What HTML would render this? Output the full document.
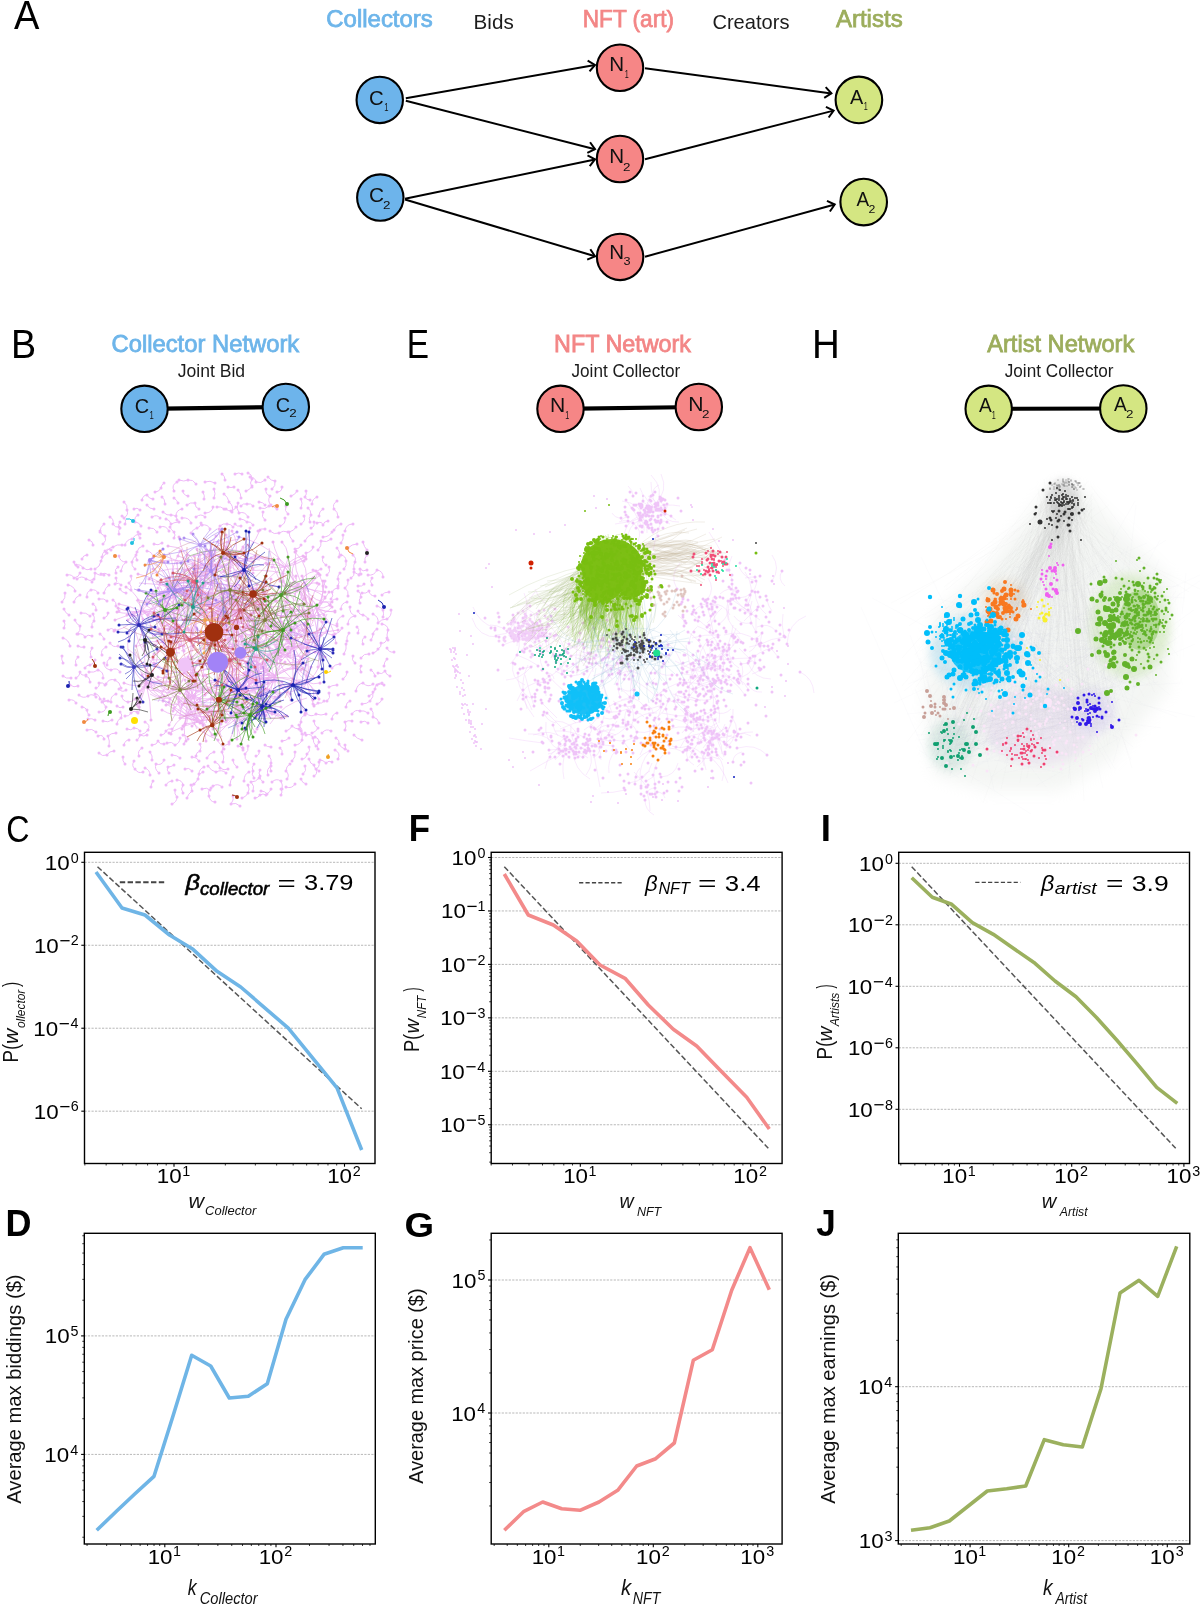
<!DOCTYPE html>
<html><head><meta charset="utf-8"><style>
html,body{margin:0;padding:0;background:#fff;width:1200px;height:1607px;overflow:hidden}
svg{display:block;will-change:transform;font-family:"Liberation Sans", sans-serif}
</style></head><body>
<svg width="1200" height="1607" viewBox="0 0 1200 1607">
<text x="13.93" y="29.00" font-size="40.26" fill="#000" textLength="25.40" lengthAdjust="spacingAndGlyphs">A</text>
<text x="326.28" y="27.20" font-size="23.00" fill="#6db5ea" textLength="106.58" lengthAdjust="spacingAndGlyphs" stroke="#6db5ea" stroke-width="0.75">Collectors</text>
<text x="473.61" y="28.70" font-size="20.01" fill="#1c1c1c" textLength="40.14" lengthAdjust="spacingAndGlyphs">Bids</text>
<text x="582.75" y="27.10" font-size="23.20" fill="#f38686" textLength="91.24" lengthAdjust="spacingAndGlyphs" stroke="#f38686" stroke-width="0.75">NFT (art)</text>
<text x="712.38" y="28.60" font-size="20.60" fill="#1c1c1c" textLength="77.05" lengthAdjust="spacingAndGlyphs">Creators</text>
<text x="835.95" y="27.00" font-size="23.00" fill="#9cad5c" textLength="66.71" lengthAdjust="spacingAndGlyphs" stroke="#9cad5c" stroke-width="0.75">Artists</text>
<line x1="405.8" y1="98.3" x2="595" y2="64.9" stroke="#000" stroke-width="2.0"/>
<polyline points="587.64,60.65 595,64.9 589.54,71.41" fill="none" stroke="#000" stroke-width="2.0"/>
<line x1="405.8" y1="100.8" x2="595" y2="149.2" stroke="#000" stroke-width="2.0"/>
<polyline points="590.05,142.29 595,149.2 587.34,152.88" fill="none" stroke="#000" stroke-width="2.0"/>
<line x1="405" y1="198.8" x2="595" y2="159.4" stroke="#000" stroke-width="2.0"/>
<polyline points="587.51,155.37 595,159.4 589.73,166.07" fill="none" stroke="#000" stroke-width="2.0"/>
<line x1="405" y1="199.5" x2="595" y2="256.3" stroke="#000" stroke-width="2.0"/>
<polyline points="590.33,249.20 595,256.3 587.20,259.67" fill="none" stroke="#000" stroke-width="2.0"/>
<line x1="645" y1="68.3" x2="831.4" y2="93.4" stroke="#000" stroke-width="2.0"/>
<polyline points="825.68,87.12 831.4,93.4 824.22,97.95" fill="none" stroke="#000" stroke-width="2.0"/>
<line x1="645" y1="159.3" x2="833.6" y2="110.6" stroke="#000" stroke-width="2.0"/>
<polyline points="825.93,106.94 833.6,110.6 828.66,117.52" fill="none" stroke="#000" stroke-width="2.0"/>
<line x1="645" y1="256.7" x2="834.7" y2="204.5" stroke="#000" stroke-width="2.0"/>
<polyline points="826.97,200.96 834.7,204.5 829.87,211.50" fill="none" stroke="#000" stroke-width="2.0"/>
<circle cx="379.75" cy="99.9" r="23.2" fill="#6db4eb" stroke="#000" stroke-width="2.1"/>
<text x="368.97" y="104.50" font-size="21.00" fill="#111" textLength="14.71" lengthAdjust="spacingAndGlyphs">C</text>
<text x="384.22" y="110.80" font-size="11.80" fill="#111" textLength="4.26" lengthAdjust="spacingAndGlyphs">1</text>
<circle cx="380.3" cy="197.6" r="23.2" fill="#6db4eb" stroke="#000" stroke-width="2.1"/>
<text x="368.94" y="201.90" font-size="21.00" fill="#111" textLength="15.05" lengthAdjust="spacingAndGlyphs">C</text>
<text x="383.03" y="209.30" font-size="11.80" fill="#111" textLength="7.45" lengthAdjust="spacingAndGlyphs">2</text>
<circle cx="620" cy="67.75" r="23.2" fill="#f68686" stroke="#000" stroke-width="2.1"/>
<text x="609.31" y="70.70" font-size="21.00" fill="#111" textLength="14.87" lengthAdjust="spacingAndGlyphs">N</text>
<text x="624.65" y="77.80" font-size="11.80" fill="#111" textLength="4.00" lengthAdjust="spacingAndGlyphs">1</text>
<circle cx="620" cy="159" r="23.2" fill="#f68686" stroke="#000" stroke-width="2.1"/>
<text x="609.31" y="163.30" font-size="21.00" fill="#111" textLength="14.87" lengthAdjust="spacingAndGlyphs">N</text>
<text x="623.13" y="170.60" font-size="11.80" fill="#111" textLength="7.45" lengthAdjust="spacingAndGlyphs">2</text>
<circle cx="620.1" cy="256.9" r="23.2" fill="#f68686" stroke="#000" stroke-width="2.1"/>
<text x="609.31" y="258.70" font-size="21.00" fill="#111" textLength="14.87" lengthAdjust="spacingAndGlyphs">N</text>
<text x="623.52" y="264.70" font-size="11.80" fill="#111" textLength="7.04" lengthAdjust="spacingAndGlyphs">3</text>
<circle cx="858.9" cy="99.9" r="23.3" fill="#d4e682" stroke="#000" stroke-width="2.1"/>
<text x="849.96" y="103.75" font-size="21.00" fill="#111" textLength="13.28" lengthAdjust="spacingAndGlyphs">A</text>
<text x="863.65" y="110.00" font-size="11.80" fill="#111" textLength="4.00" lengthAdjust="spacingAndGlyphs">1</text>
<circle cx="863.7" cy="202.1" r="23.3" fill="#d4e682" stroke="#000" stroke-width="2.1"/>
<text x="856.56" y="205.80" font-size="21.00" fill="#111" textLength="12.67" lengthAdjust="spacingAndGlyphs">A</text>
<text x="868.58" y="212.50" font-size="11.80" fill="#111" textLength="6.84" lengthAdjust="spacingAndGlyphs">2</text>
<text x="10.92" y="357.90" font-size="40.12" fill="#000" textLength="25.06" lengthAdjust="spacingAndGlyphs">B</text>
<text x="406.86" y="357.90" font-size="40.26" fill="#000" textLength="22.27" lengthAdjust="spacingAndGlyphs">E</text>
<text x="812.04" y="357.90" font-size="40.12" fill="#000" textLength="27.80" lengthAdjust="spacingAndGlyphs">H</text>
<text x="111.49" y="351.70" font-size="24.00" fill="#6db5ea" textLength="187.77" lengthAdjust="spacingAndGlyphs" stroke="#6db5ea" stroke-width="0.8">Collector Network</text>
<text x="554.09" y="352.30" font-size="24.00" fill="#f38686" textLength="136.87" lengthAdjust="spacingAndGlyphs" stroke="#f38686" stroke-width="0.8">NFT Network</text>
<text x="987.25" y="351.70" font-size="24.00" fill="#9cad5c" textLength="147.01" lengthAdjust="spacingAndGlyphs" stroke="#9cad5c" stroke-width="0.8">Artist Network</text>
<text x="177.73" y="377.30" font-size="17.80" fill="#1c1c1c" textLength="67.41" lengthAdjust="spacingAndGlyphs">Joint Bid</text>
<text x="571.43" y="377.20" font-size="17.80" fill="#1c1c1c" textLength="108.85" lengthAdjust="spacingAndGlyphs">Joint Collector</text>
<text x="1004.73" y="377.20" font-size="17.80" fill="#1c1c1c" textLength="108.85" lengthAdjust="spacingAndGlyphs">Joint Collector</text>
<line x1="144.5" y1="408.8" x2="285.8" y2="407.0" stroke="#000" stroke-width="4.2"/>
<circle cx="144.5" cy="408.8" r="23.2" fill="#6db4eb" stroke="#000" stroke-width="2.1"/>
<text x="134.69" y="412.70" font-size="21.00" fill="#111" textLength="14.37" lengthAdjust="spacingAndGlyphs">C</text>
<text x="149.42" y="419.30" font-size="11.80" fill="#111" textLength="4.26" lengthAdjust="spacingAndGlyphs">1</text>
<circle cx="285.8" cy="407.0" r="23.2" fill="#6db4eb" stroke="#000" stroke-width="2.1"/>
<text x="275.69" y="411.70" font-size="21.00" fill="#111" textLength="14.37" lengthAdjust="spacingAndGlyphs">C</text>
<text x="289.33" y="416.70" font-size="11.80" fill="#111" textLength="7.45" lengthAdjust="spacingAndGlyphs">2</text>
<line x1="560.5" y1="408.8" x2="698.8" y2="407.0" stroke="#000" stroke-width="4.2"/>
<circle cx="560.5" cy="408.8" r="23.2" fill="#f68686" stroke="#000" stroke-width="2.1"/>
<text x="549.97" y="412.30" font-size="21.00" fill="#111" textLength="15.26" lengthAdjust="spacingAndGlyphs">N</text>
<text x="565.15" y="419.00" font-size="11.80" fill="#111" textLength="4.00" lengthAdjust="spacingAndGlyphs">1</text>
<circle cx="698.8" cy="407.0" r="23.2" fill="#f68686" stroke="#000" stroke-width="2.1"/>
<text x="688.27" y="411.00" font-size="21.00" fill="#111" textLength="15.26" lengthAdjust="spacingAndGlyphs">N</text>
<text x="702.03" y="417.70" font-size="11.80" fill="#111" textLength="7.45" lengthAdjust="spacingAndGlyphs">2</text>
<line x1="988.7" y1="408.8" x2="1123.3" y2="408.5" stroke="#000" stroke-width="4.2"/>
<circle cx="988.7" cy="408.8" r="23.2" fill="#d4e682" stroke="#000" stroke-width="2.1"/>
<text x="978.96" y="411.70" font-size="21.00" fill="#111" textLength="12.77" lengthAdjust="spacingAndGlyphs">A</text>
<text x="991.75" y="419.30" font-size="11.80" fill="#111" textLength="4.00" lengthAdjust="spacingAndGlyphs">1</text>
<circle cx="1123.3" cy="408.5" r="23.2" fill="#d4e682" stroke="#000" stroke-width="2.1"/>
<text x="1113.96" y="410.70" font-size="21.00" fill="#111" textLength="12.77" lengthAdjust="spacingAndGlyphs">A</text>
<text x="1126.03" y="417.70" font-size="11.80" fill="#111" textLength="7.45" lengthAdjust="spacingAndGlyphs">2</text>
<path d="M167 743Q172 741 175 745M175 745Q180 743 180 738M162 543Q158 546 154 544M96 610Q97 606 93 604M356 691Q357 684 363 683M363 683Q368 688 373 684M361 666Q359 669 361 672M337 685Q333 685 329 687M82 707Q85 707 87 710M87 710Q87 713 89 715M314 721Q314 726 318 728M318 728Q316 732 312 733M110 517Q114 519 113 524M113 524Q115 528 119 527M109 575Q105 572 101 574M337 624Q337 618 343 616M312 534Q307 536 305 541M299 725Q303 729 302 734M166 785Q168 781 172 781M290 764Q286 766 286 771M286 771Q290 775 287 779M138 532Q137 535 140 538M113 600Q117 602 116 606M116 606Q119 608 119 611M163 512Q167 516 171 515M171 515Q177 515 177 520M169 773Q166 770 168 767M168 767Q171 767 174 765M103 678Q104 672 98 670M98 670Q94 673 89 672M266 489Q265 494 270 496M270 496Q267 501 271 505M233 777Q230 780 230 785M69 615Q65 613 64 609M213 507Q212 513 205 513M309 747Q311 751 307 754M307 754Q306 759 302 759M371 670Q374 672 375 676M238 490Q241 493 241 498M318 550Q322 546 321 541M321 541Q327 543 331 539M178 503Q177 500 174 498M317 497Q312 499 312 504M78 657Q74 660 76 665M124 502Q128 505 127 510M127 510Q129 515 124 518M280 526Q286 524 285 518M116 733Q111 733 108 736M108 736Q110 741 109 746M369 654Q364 653 361 658M289 738Q286 741 282 741M369 696Q374 694 375 689M375 689Q375 683 382 683M98 736Q103 734 104 739M350 701Q346 702 346 707M68 585Q74 586 75 591M297 491Q295 495 291 496M204 767Q199 769 199 774M123 757Q122 761 125 764M347 602Q341 603 341 609M118 567Q114 569 116 573M365 637Q361 639 363 644M129 740Q125 740 124 745M375 596Q370 596 369 591M369 591Q366 594 362 593M75 620Q76 624 80 626M80 626Q81 631 77 634M174 538Q176 535 174 532M174 532Q171 530 170 527M357 544Q352 544 348 548M334 530Q336 525 341 524M117 724Q117 720 121 718M121 718Q123 715 120 712M345 730Q347 726 345 722M345 722Q348 720 352 721M256 756Q260 755 259 751M161 735Q165 735 166 731M166 731Q168 728 172 729M349 633Q346 637 347 641M337 713Q332 714 332 719M384 666Q384 662 387 659M136 555Q133 558 132 562M132 562Q131 566 135 569M228 769Q224 771 220 768M220 768Q220 764 215 762M145 722Q151 725 148 730M148 730Q145 734 140 735M85 668Q86 665 90 665M90 665Q94 664 95 660M327 701Q331 698 329 693M152 745Q157 745 158 741M158 741Q160 745 164 744M104 618Q108 617 108 613M328 521Q324 521 323 525M323 525Q322 521 317 523M305 766Q307 771 303 774M319 516Q319 511 323 509M244 781Q244 774 249 772M353 656Q351 660 355 663M213 786Q218 783 222 787M360 603Q358 600 361 597M361 597Q361 593 358 591M383 577Q383 571 377 570M377 570Q374 576 368 575M301 524Q306 521 304 516M352 714Q355 709 360 711M360 711Q364 710 368 713M224 494Q228 497 229 502M229 502Q234 506 232 512M145 768Q150 770 150 775M358 611Q359 615 363 615M363 615Q367 616 368 619M87 730Q92 728 96 732M320 760Q323 760 326 763M326 763Q329 760 332 762M373 614Q379 617 378 623M378 623Q381 619 387 619M139 756Q137 751 142 748M305 715Q300 717 301 722M301 722Q298 727 301 731M338 759Q341 753 335 750M82 559Q83 555 87 555M78 634Q83 633 85 637M85 637Q88 634 92 636M106 684Q109 678 115 680M115 680Q120 682 121 688M387 638Q386 644 381 643M204 499Q205 496 203 492M164 760Q162 766 156 764M156 764Q154 769 159 773M77 579Q82 575 86 579M86 579Q90 582 94 579M344 569Q347 566 346 561M346 561Q346 556 341 555M122 545Q117 544 113 547M113 547Q108 548 106 552M86 676Q90 677 90 682M63 663Q61 659 62 656M177 482Q171 485 174 491M348 596Q349 591 345 588M345 588Q349 585 348 580M293 541Q289 537 289 532M289 532Q294 531 296 527M322 733Q326 728 331 731M265 480Q261 484 256 482M256 482Q255 477 250 477M353 524Q346 524 345 531M255 798Q258 798 260 795M260 795Q263 793 266 795M382 624Q388 625 388 630M388 630Q386 635 388 640M92 627Q91 623 94 621M94 621Q95 617 93 614M269 756Q272 759 271 763M271 763Q269 767 271 771M202 525Q208 524 210 529M98 593Q96 589 91 590M91 590Q86 592 87 597M377 704Q381 703 382 699M207 758Q209 753 214 752M326 714Q321 716 316 714M316 714Q311 718 306 713M343 679Q347 676 347 672M172 755Q177 755 180 758M236 507Q235 510 231 511M231 511Q228 511 226 509M104 639Q103 636 100 634M229 744Q222 745 222 752M222 752Q225 757 223 762M338 588Q334 588 332 592M332 592Q334 596 331 599M70 646Q69 640 63 638M164 483Q161 485 161 488M161 488Q159 492 155 492M362 704Q367 704 370 701M370 701Q374 697 373 692M185 769Q189 767 192 771M215 802Q210 802 209 796M209 796Q207 791 211 788M233 796Q234 800 231 804M231 804Q236 802 240 806M271 766Q266 769 268 775M332 668Q335 664 340 664M196 484Q193 479 188 480M188 480Q184 482 179 480M215 483Q210 480 205 482M318 749Q316 745 319 742M319 742Q319 738 315 737M277 492Q282 492 282 487M165 504Q165 499 162 497M238 746Q242 746 243 750M119 534Q118 530 120 528M120 528Q117 525 120 522M110 643Q113 648 118 646M344 694Q341 692 338 695M217 507Q221 506 224 509M120 589Q122 593 126 593M107 665Q106 661 110 658M323 557Q321 562 326 565M391 610Q392 616 387 619M286 506Q284 511 288 514M341 543Q344 539 343 535M242 798Q246 797 248 793M248 793Q250 789 248 785M367 570Q363 572 360 569M360 569Q361 572 359 575M187 798Q188 794 192 791M192 791Q190 787 194 784M114 751Q109 751 107 755M107 755Q102 757 99 753M364 584Q362 587 358 586M200 744Q202 747 200 751M200 751Q196 752 196 756M177 780Q182 780 183 785M183 785Q180 789 183 793M149 528Q154 527 157 532M271 789Q270 792 267 794M267 794Q265 791 261 791M363 542Q364 547 367 550M271 747Q267 747 265 745M237 767Q233 764 233 760M99 712Q105 713 106 707M106 707Q102 704 104 699M127 729Q131 731 134 728M134 728Q138 728 140 731M304 561Q308 558 306 553M306 553Q312 552 313 547M339 557Q341 552 337 548M131 576Q133 580 129 583M129 583Q132 586 131 590M184 744Q185 740 188 739M188 739Q187 735 183 735M116 694Q110 696 111 702M111 702Q106 699 102 702M142 500Q143 495 147 495M147 495Q149 499 153 499M295 784Q292 789 286 787M220 526Q223 523 227 524M227 524Q231 524 233 527M313 570Q318 572 321 569M95 720Q92 718 88 719M241 526Q237 527 235 524M340 573Q337 576 338 579M338 579Q340 582 338 586M225 480Q225 476 222 474M382 595Q384 592 389 592M95 694Q99 694 100 699M100 699Q103 703 108 701M253 525Q251 521 247 522M247 522Q244 519 240 519M272 782Q276 778 281 781M281 781Q283 785 282 789M187 505Q190 502 195 503M195 503Q195 508 199 509M102 557Q102 553 105 551M105 551Q107 548 111 550M254 764Q251 767 253 771M253 771Q251 774 254 778M338 517Q338 512 334 509M334 509Q332 504 337 501M108 630Q111 627 115 630M323 537Q329 537 332 532M362 740Q357 739 354 735M263 512Q261 517 265 520M64 621Q66 624 64 628M117 706Q120 709 123 707M377 685Q381 683 384 685M79 695Q83 699 88 696M88 696Q92 693 96 697M263 782Q260 780 260 776M260 776Q258 773 260 770M242 474Q239 472 235 474M134 761Q131 766 135 769M135 769Q138 774 143 772M292 761Q296 757 295 752M139 707Q141 710 138 713M91 569Q87 571 83 568M83 568Q81 564 76 565M246 491Q250 490 252 486M253 506Q251 503 247 504M247 504Q243 503 241 506M74 602Q75 597 80 595M153 558Q153 552 147 551M103 544Q107 541 105 536M105 536Q101 535 100 531M140 510Q137 507 134 509M152 517Q157 514 160 518M104 593Q105 588 109 585M71 678Q66 679 63 676M373 653Q377 652 378 649M378 649Q382 647 381 643M270 531Q274 535 279 533M279 533Q283 530 288 532M265 505Q263 502 259 502M345 745Q345 749 348 751M102 655Q100 650 106 647M196 517Q201 513 205 517M295 745Q300 745 302 740M302 740Q301 736 305 733M169 531Q166 525 160 527M336 738Q340 740 339 744M339 744Q341 748 345 749M182 518Q189 517 191 523M69 700Q74 699 76 703M377 606Q381 607 383 610M383 610Q384 614 383 617M192 757Q197 757 199 761M62 602Q66 598 65 593M112 720Q108 723 103 721M309 759Q310 764 314 765M314 765Q314 769 319 771M210 790Q207 787 202 789M143 546Q138 547 137 552M137 552Q134 556 137 560M183 491Q183 495 188 496M301 508Q303 503 301 499M191 785Q196 784 198 779M198 779Q198 774 203 772M84 647Q81 648 78 646M365 562Q364 558 367 555M337 599Q331 599 330 605M330 605Q327 600 321 603M265 529Q261 528 258 531M153 781Q151 784 151 787M92 648Q89 652 91 657M175 790Q174 794 177 797M177 797Q177 802 172 804M141 526Q139 522 135 522M135 522Q134 517 138 515M314 522Q315 527 311 528M90 616Q86 612 81 613M93 545Q93 541 89 540M325 581Q323 584 326 587M346 644Q347 649 344 654M70 685Q74 688 78 686M125 524Q127 519 122 516M119 689Q122 693 126 690M358 633Q360 629 357 627M277 509Q274 506 269 506M269 506Q265 510 260 508M394 652Q389 653 387 648M119 556Q120 562 126 562M126 562Q122 565 121 571M208 766Q211 771 216 772M216 772Q222 769 226 773M137 740Q139 739 140 735M140 735Q144 737 147 735M361 722Q365 720 368 723M377 629Q374 630 373 634M373 634Q373 637 371 640M351 578Q355 576 354 572M354 572Q357 575 361 574M348 624Q348 617 355 616M355 616Q349 613 350 607M154 509Q149 509 147 505M282 754Q283 750 280 748M214 498Q216 494 214 489M390 676Q386 675 385 671M385 671Q382 675 378 673M191 533Q193 529 197 528M197 528Q201 527 201 523M116 578Q118 582 115 584M115 584Q119 582 121 585M295 549Q300 549 301 545M371 709Q374 712 373 717M373 717Q378 718 379 723M306 735Q311 733 313 738M313 738Q313 743 316 746M120 672Q117 667 111 670M111 670Q104 669 104 663M313 704Q316 706 318 703M318 703Q322 704 324 701M92 582Q96 578 95 573M95 573Q99 576 104 575M176 516Q176 510 182 509M100 532Q100 527 104 524M179 522Q175 522 171 524M171 524Q170 520 166 519M67 575Q72 574 74 578M74 578Q79 577 80 573M281 789Q283 792 281 795M314 776Q318 774 316 769M316 769Q320 767 319 762M135 699Q132 702 128 702M128 702Q122 701 122 696M125 545Q127 539 132 539M132 539Q135 534 140 534M96 688Q100 687 99 683M99 683Q103 682 105 685M152 760Q153 756 150 752M248 473Q252 474 252 479M252 479Q249 483 252 487M327 575Q331 572 329 567M268 477Q271 481 275 481M275 481Q276 486 272 489M253 791Q255 786 251 782M251 782Q256 782 259 778M125 716Q129 717 131 713M131 713Q134 710 137 712M248 517Q245 511 239 513M239 513Q236 509 238 503M372 578Q369 581 372 585M306 491Q307 494 305 497M305 497Q306 500 310 500M248 762Q244 759 245 754M245 754Q249 751 248 746M76 678Q80 676 80 672M80 672Q81 676 86 675M234 487Q231 488 228 487M99 599Q104 598 107 601M308 508Q311 510 311 515M311 515Q308 518 310 522M95 569Q100 567 101 561M101 561Q102 556 107 553M301 779Q302 783 306 784M286 731Q290 730 292 726M292 726Q295 729 299 729M74 562Q74 566 78 567M353 555Q357 558 355 562M355 562Q353 565 354 569M335 634Q340 633 342 628" fill="none" stroke="#efbaf8" stroke-width="1.0"/>
<path d="M167 743h0M175 745h0M180 738h0M162 543h0M154 544h0M96 610h0M93 604h0M356 691h0M363 683h0M373 684h0M361 666h0M361 672h0M337 685h0M329 687h0M82 707h0M87 710h0M89 715h0M314 721h0M318 728h0M312 733h0M110 517h0M113 524h0M119 527h0M109 575h0M101 574h0M337 624h0M343 616h0M312 534h0M305 541h0M299 725h0M302 734h0M166 785h0M172 781h0M290 764h0M286 771h0M287 779h0M138 532h0M140 538h0M113 600h0M116 606h0M119 611h0M163 512h0M171 515h0M177 520h0M169 773h0M168 767h0M174 765h0M103 678h0M98 670h0M89 672h0M266 489h0M270 496h0M271 505h0M233 777h0M230 785h0M69 615h0M64 609h0M213 507h0M205 513h0M309 747h0M307 754h0M302 759h0M371 670h0M375 676h0M238 490h0M241 498h0M318 550h0M321 541h0M331 539h0M178 503h0M174 498h0M317 497h0M312 504h0M78 657h0M76 665h0M124 502h0M127 510h0M124 518h0M280 526h0M285 518h0M116 733h0M108 736h0M109 746h0M369 654h0M361 658h0M289 738h0M282 741h0M369 696h0M375 689h0M382 683h0M98 736h0M104 739h0M350 701h0M346 707h0M68 585h0M75 591h0M297 491h0M291 496h0M204 767h0M199 774h0M123 757h0M125 764h0M347 602h0M341 609h0M118 567h0M116 573h0M365 637h0M363 644h0M129 740h0M124 745h0M375 596h0M369 591h0M362 593h0M75 620h0M80 626h0M77 634h0M174 538h0M174 532h0M170 527h0M357 544h0M348 548h0M334 530h0M341 524h0M117 724h0M121 718h0M120 712h0M345 730h0M345 722h0M352 721h0M256 756h0M259 751h0M161 735h0M166 731h0M172 729h0M349 633h0M347 641h0M337 713h0M332 719h0M384 666h0M387 659h0M136 555h0M132 562h0M135 569h0M228 769h0M220 768h0M215 762h0M145 722h0M148 730h0M140 735h0M85 668h0M90 665h0M95 660h0M327 701h0M329 693h0M152 745h0M158 741h0M164 744h0M104 618h0M108 613h0M328 521h0M323 525h0M317 523h0M305 766h0M303 774h0M319 516h0M323 509h0M244 781h0M249 772h0M353 656h0M355 663h0M213 786h0M222 787h0M360 603h0M361 597h0M358 591h0M383 577h0M377 570h0M368 575h0M301 524h0M304 516h0M352 714h0M360 711h0M368 713h0M224 494h0M229 502h0M232 512h0M145 768h0M150 775h0M358 611h0M363 615h0M368 619h0M87 730h0M96 732h0M320 760h0M326 763h0M332 762h0M373 614h0M378 623h0M387 619h0M139 756h0M142 748h0M305 715h0M301 722h0M301 731h0M338 759h0M335 750h0M82 559h0M87 555h0M78 634h0M85 637h0M92 636h0M106 684h0M115 680h0M121 688h0M387 638h0M381 643h0M204 499h0M203 492h0M164 760h0M156 764h0M159 773h0M77 579h0M86 579h0M94 579h0M344 569h0M346 561h0M341 555h0M122 545h0M113 547h0M106 552h0M86 676h0M90 682h0M63 663h0M62 656h0M177 482h0M174 491h0M348 596h0M345 588h0M348 580h0M293 541h0M289 532h0M296 527h0M322 733h0M331 731h0M265 480h0M256 482h0M250 477h0M353 524h0M345 531h0M255 798h0M260 795h0M266 795h0M382 624h0M388 630h0M388 640h0M92 627h0M94 621h0M93 614h0M269 756h0M271 763h0M271 771h0M202 525h0M210 529h0M98 593h0M91 590h0M87 597h0M377 704h0M382 699h0M207 758h0M214 752h0M326 714h0M316 714h0M306 713h0M343 679h0M347 672h0M172 755h0M180 758h0M236 507h0M231 511h0M226 509h0M104 639h0M100 634h0M229 744h0M222 752h0M223 762h0M338 588h0M332 592h0M331 599h0M70 646h0M63 638h0M164 483h0M161 488h0M155 492h0M362 704h0M370 701h0M373 692h0M185 769h0M192 771h0M215 802h0M209 796h0M211 788h0M233 796h0M231 804h0M240 806h0M271 766h0M268 775h0M332 668h0M340 664h0M196 484h0M188 480h0M179 480h0M215 483h0M205 482h0M318 749h0M319 742h0M315 737h0M277 492h0M282 487h0M165 504h0M162 497h0M238 746h0M243 750h0M119 534h0M120 528h0M120 522h0M110 643h0M118 646h0M344 694h0M338 695h0M217 507h0M224 509h0M120 589h0M126 593h0M107 665h0M110 658h0M323 557h0M326 565h0M391 610h0M387 619h0M286 506h0M288 514h0M341 543h0M343 535h0M242 798h0M248 793h0M248 785h0M367 570h0M360 569h0M359 575h0M187 798h0M192 791h0M194 784h0M114 751h0M107 755h0M99 753h0M364 584h0M358 586h0M200 744h0M200 751h0M196 756h0M177 780h0M183 785h0M183 793h0M149 528h0M157 532h0M271 789h0M267 794h0M261 791h0M363 542h0M367 550h0M271 747h0M265 745h0M237 767h0M233 760h0M99 712h0M106 707h0M104 699h0M127 729h0M134 728h0M140 731h0M304 561h0M306 553h0M313 547h0M339 557h0M337 548h0M131 576h0M129 583h0M131 590h0M184 744h0M188 739h0M183 735h0M116 694h0M111 702h0M102 702h0M142 500h0M147 495h0M153 499h0M295 784h0M286 787h0M220 526h0M227 524h0M233 527h0M313 570h0M321 569h0M95 720h0M88 719h0M241 526h0M235 524h0M340 573h0M338 579h0M338 586h0M225 480h0M222 474h0M382 595h0M389 592h0M95 694h0M100 699h0M108 701h0M253 525h0M247 522h0M240 519h0M272 782h0M281 781h0M282 789h0M187 505h0M195 503h0M199 509h0M102 557h0M105 551h0M111 550h0M254 764h0M253 771h0M254 778h0M338 517h0M334 509h0M337 501h0M108 630h0M115 630h0M323 537h0M332 532h0M362 740h0M354 735h0M263 512h0M265 520h0M64 621h0M64 628h0M117 706h0M123 707h0M377 685h0M384 685h0M79 695h0M88 696h0M96 697h0M263 782h0M260 776h0M260 770h0M242 474h0M235 474h0M134 761h0M135 769h0M143 772h0M292 761h0M295 752h0M139 707h0M138 713h0M91 569h0M83 568h0M76 565h0M246 491h0M252 486h0M253 506h0M247 504h0M241 506h0M74 602h0M80 595h0M153 558h0M147 551h0M103 544h0M105 536h0M100 531h0M140 510h0M134 509h0M152 517h0M160 518h0M104 593h0M109 585h0M71 678h0M63 676h0M373 653h0M378 649h0M381 643h0M270 531h0M279 533h0M288 532h0M265 505h0M259 502h0M345 745h0M348 751h0M102 655h0M106 647h0M196 517h0M205 517h0M295 745h0M302 740h0M305 733h0M169 531h0M160 527h0M336 738h0M339 744h0M345 749h0M182 518h0M191 523h0M69 700h0M76 703h0M377 606h0M383 610h0M383 617h0M192 757h0M199 761h0M62 602h0M65 593h0M112 720h0M103 721h0M309 759h0M314 765h0M319 771h0M210 790h0M202 789h0M143 546h0M137 552h0M137 560h0M183 491h0M188 496h0M301 508h0M301 499h0M191 785h0M198 779h0M203 772h0M84 647h0M78 646h0M365 562h0M367 555h0M337 599h0M330 605h0M321 603h0M265 529h0M258 531h0M153 781h0M151 787h0M92 648h0M91 657h0M175 790h0M177 797h0M172 804h0M141 526h0M135 522h0M138 515h0M314 522h0M311 528h0M90 616h0M81 613h0M93 545h0M89 540h0M325 581h0M326 587h0M346 644h0M344 654h0M70 685h0M78 686h0M125 524h0M122 516h0M119 689h0M126 690h0M358 633h0M357 627h0M277 509h0M269 506h0M260 508h0M394 652h0M387 648h0M119 556h0M126 562h0M121 571h0M208 766h0M216 772h0M226 773h0M137 740h0M140 735h0M147 735h0M361 722h0M368 723h0M377 629h0M373 634h0M371 640h0M351 578h0M354 572h0M361 574h0M348 624h0M355 616h0M350 607h0M154 509h0M147 505h0M282 754h0M280 748h0M214 498h0M214 489h0M390 676h0M385 671h0M378 673h0M191 533h0M197 528h0M201 523h0M116 578h0M115 584h0M121 585h0M295 549h0M301 545h0M371 709h0M373 717h0M379 723h0M306 735h0M313 738h0M316 746h0M120 672h0M111 670h0M104 663h0M313 704h0M318 703h0M324 701h0M92 582h0M95 573h0M104 575h0M176 516h0M182 509h0M100 532h0M104 524h0M179 522h0M171 524h0M166 519h0M67 575h0M74 578h0M80 573h0M281 789h0M281 795h0M314 776h0M316 769h0M319 762h0M135 699h0M128 702h0M122 696h0M125 545h0M132 539h0M140 534h0M96 688h0M99 683h0M105 685h0M152 760h0M150 752h0M248 473h0M252 479h0M252 487h0M327 575h0M329 567h0M268 477h0M275 481h0M272 489h0M253 791h0M251 782h0M259 778h0M125 716h0M131 713h0M137 712h0M248 517h0M239 513h0M238 503h0M372 578h0M372 585h0M306 491h0M305 497h0M310 500h0M248 762h0M245 754h0M248 746h0M76 678h0M80 672h0M86 675h0M234 487h0M228 487h0M99 599h0M107 601h0M308 508h0M311 515h0M310 522h0M95 569h0M101 561h0M107 553h0M301 779h0M306 784h0M286 731h0M292 726h0M299 729h0M74 562h0M78 567h0M353 555h0M355 562h0M354 569h0M335 634h0M342 628h0" stroke="#efbaf8" stroke-width="3" stroke-linecap="round"/>
<path d="M196 565Q192 569 186 570M196 565Q207 583 228 585M196 565Q178 573 173 592M196 565Q214 560 230 571M196 565Q204 574 213 582M196 565Q197 573 201 579M196 565Q194 582 207 594M196 565Q181 555 179 537M196 565Q197 571 194 576M196 565Q179 558 161 561M196 565Q198 570 196 575M196 565Q188 547 168 546M196 565Q205 570 216 572M196 565Q188 558 178 556M314 616Q309 618 305 623M314 616Q300 606 286 615M314 616Q314 625 306 629M314 616Q317 620 322 622M314 616Q325 615 332 607M314 616Q298 618 281 616M314 616Q308 598 319 584M314 616Q309 618 307 624M314 616Q304 623 293 630M314 616Q305 615 296 617M314 616Q321 604 329 592M314 616Q325 600 323 581M314 616Q311 597 298 584M314 616Q319 635 319 654M265 712Q267 694 269 675M265 712Q258 693 246 677M265 712Q260 712 256 709M265 712Q246 707 227 705M265 712Q275 716 287 716M265 712Q274 713 281 718M265 712Q262 717 256 716M265 712Q277 707 286 716M265 712Q271 705 281 707M265 712Q269 704 275 697M265 712Q271 698 262 686M265 712Q265 722 257 729M265 712Q255 707 249 698M265 712Q275 711 283 717M265 712Q266 694 253 681M265 712Q254 697 253 678M210 567Q194 566 187 580M210 567Q214 559 209 552M210 567Q227 560 239 573M210 567Q221 570 227 580M210 567Q211 560 208 554M210 567Q210 580 211 593M210 567Q220 583 239 585M210 567Q220 565 230 568M210 567Q208 551 216 536M210 567Q225 559 227 542M210 567Q197 562 197 549M210 567Q205 587 185 594M210 567Q225 576 242 573M210 567Q214 582 213 598M210 567Q215 562 213 556M210 567Q224 562 226 547M210 567Q217 561 215 551M210 567Q202 573 205 583M210 567Q204 559 206 550M210 567Q195 579 194 598M306 634Q298 627 286 628M306 634Q299 656 276 656M306 634Q322 647 318 667M306 634Q320 631 333 635M306 634Q291 636 281 623M306 634Q297 617 287 600M306 634Q309 622 303 612M306 634Q306 619 311 605M306 634Q305 630 304 625M306 634Q291 624 282 607M306 634Q303 625 294 622M306 634Q322 633 338 630M306 634Q314 635 318 641M306 634Q303 628 297 626M306 634Q304 644 309 652M146 683Q158 683 170 682M146 683Q151 701 151 720M146 683Q139 692 138 703M146 683Q158 686 164 696M146 683Q140 694 139 707M146 683Q145 665 144 646M146 683Q135 688 124 683M146 683Q144 693 140 703M146 683Q163 683 170 699M146 683Q149 694 160 697M146 683Q157 669 158 651M146 683Q157 683 166 677M146 683Q145 689 139 691M146 683Q150 674 155 666M146 683Q144 679 142 675M146 683Q137 692 137 705M146 683Q161 695 180 693M146 683Q146 678 142 675M146 683Q144 669 153 659M240 713Q261 721 275 704M240 713Q240 699 249 687M240 713Q234 700 231 685M240 713Q234 706 235 696M240 713Q226 709 212 711M240 713Q236 695 230 678M240 713Q243 694 227 684M240 713Q231 728 213 729M240 713Q249 721 255 732M240 713Q235 728 229 742M240 713Q234 706 228 698M240 713Q237 723 244 730M240 713Q243 720 238 726M240 713Q232 697 244 683M240 713Q232 714 227 720M240 713Q249 709 260 710M240 713Q233 716 226 718M240 713Q253 712 266 715M220 594Q230 601 242 605M220 594Q210 609 192 608M220 594Q243 593 253 573M220 594Q223 605 221 616M220 594Q216 606 220 618M220 594Q231 589 242 595M220 594Q241 593 256 607M220 594Q211 593 202 592M220 594Q222 586 221 578M220 594Q208 579 190 573M201 721Q184 720 174 708M201 721Q189 711 179 699M201 721Q205 731 206 741M201 721Q184 725 169 733M201 721Q210 713 219 704M201 721Q207 717 212 714M201 721Q195 722 192 726M201 721Q207 713 214 707M201 721Q212 717 221 724M201 721Q193 723 185 724M201 721Q213 734 224 749M222 608Q218 610 215 613M222 608Q224 603 228 598M222 608Q214 608 208 604M222 608Q230 607 235 600M222 608Q222 615 227 620M222 608Q215 610 212 605M222 608Q225 624 234 638M222 608Q218 599 209 594M222 608Q214 628 225 646M222 608Q209 605 204 594M222 608Q215 612 207 613M222 608Q229 626 243 641M222 608Q222 615 218 621M222 608Q242 609 250 627M222 608Q216 600 207 596M222 608Q228 613 230 621M222 608Q217 611 214 616M222 608Q228 603 235 602M222 608Q227 618 218 627M222 608Q207 620 187 619M222 608Q215 607 208 604M200 587Q185 582 175 593M200 587Q201 600 204 614M200 587Q186 597 170 598M200 587Q199 578 206 574M200 587Q208 604 197 619M200 587Q199 595 196 602M200 587Q197 592 192 595M200 587Q202 571 200 555M200 587Q192 579 188 569M200 587Q193 587 188 590M200 587Q219 578 236 591M200 587Q186 588 180 575M200 587Q185 580 169 583M316 608Q320 620 327 631M316 608Q308 618 305 630M316 608Q324 598 323 586M316 608Q325 612 335 612M316 608Q317 617 325 619M316 608Q334 621 336 643M316 608Q322 623 337 626M316 608Q319 601 325 598M316 608Q325 613 335 611M316 608Q324 609 330 605M316 608Q309 605 304 599M316 608Q329 592 319 574M316 608Q316 602 311 599M298 587Q304 601 305 616M298 587Q309 581 318 573M298 587Q313 599 324 615M298 587Q307 600 308 617M298 587Q302 573 316 571M298 587Q292 585 286 585M298 587Q288 575 295 562M298 587Q296 581 296 576M298 587Q292 597 299 606M298 587Q280 600 281 622M298 587Q280 578 278 559M298 587Q290 592 281 592M298 587Q306 600 301 616M298 587Q291 598 294 610M298 587Q313 588 325 597M163 596Q150 595 138 590M163 596Q175 585 189 579M163 596Q164 601 169 604M163 596Q155 616 165 635M163 596Q163 590 167 586M163 596Q181 597 199 594M163 596Q152 604 138 600M163 596Q170 606 165 617M163 596Q175 593 186 591M163 596Q177 587 194 585M163 596Q154 614 134 616M163 596Q153 606 153 620M163 596Q168 598 168 604M163 596Q162 583 149 579M163 596Q158 595 153 597M163 596Q160 592 158 588M163 596Q178 603 182 619M163 596Q153 603 148 615M265 613Q253 614 248 625M265 613Q264 595 249 585M265 613Q267 622 275 627M265 613Q257 615 254 624M265 613Q284 619 304 612M265 613Q278 614 291 612M265 613Q275 628 291 638M265 613Q260 601 253 589M265 613Q277 626 295 624M265 613Q257 613 253 619M265 613Q258 630 247 645M265 613Q254 599 241 587M265 613Q277 622 273 637M265 613Q251 627 249 647M265 613Q269 630 257 643M265 613Q281 623 288 641M265 613Q250 614 235 613M265 613Q269 601 263 590M265 613Q263 624 253 628M265 613Q272 630 289 636M265 613Q268 602 263 593M275 676Q263 670 250 671M275 676Q270 670 273 663M275 676Q267 671 263 662M275 676Q271 678 267 679M275 676Q264 681 261 693M275 676Q268 671 261 665M275 676Q260 677 252 665M275 676Q290 670 301 658M275 676Q267 694 272 713M275 676Q273 681 268 683M275 676Q273 690 261 695M275 676Q275 684 275 692M275 676Q279 662 277 647M275 676Q283 688 291 700M275 676Q260 673 248 681M275 676Q276 666 285 662M275 676Q280 669 281 660M275 676Q286 664 301 670M275 676Q282 661 299 662M275 676Q278 689 290 694M289 625Q290 632 288 639M289 625Q296 617 305 611M289 625Q290 615 298 610M289 625Q281 604 291 585M289 625Q274 621 271 607M289 625Q300 631 314 633M289 625Q277 629 266 626M289 625Q298 635 308 643M289 625Q297 639 306 654M289 625Q294 615 306 614M194 703Q206 702 216 695M194 703Q191 700 188 696M194 703Q194 717 203 725M194 703Q180 704 166 705M194 703Q197 694 195 684M194 703Q176 697 162 685M194 703Q201 720 212 735M194 703Q188 700 182 705M194 703Q200 705 207 706M194 703Q203 701 211 699M194 703Q195 687 205 675M194 703Q206 689 224 686M235 556Q240 553 243 547M235 556Q239 543 232 531M235 556Q229 577 208 583M235 556Q221 548 221 531M235 556Q248 545 250 528M235 556Q244 560 253 562M235 556Q219 547 219 529M235 556Q227 557 220 560M235 556Q253 549 260 530M235 556Q227 556 220 557M235 556Q241 551 248 545M235 556Q231 546 226 535M235 556Q236 561 239 564M235 556Q229 551 220 549M243 689Q248 681 244 673M243 689Q250 688 256 685M243 689Q225 699 223 720M243 689Q260 673 282 682M243 689Q233 680 220 675M243 689Q244 696 243 704M243 689Q246 676 246 663M243 689Q253 701 269 702M243 689Q241 682 235 679M243 689Q224 698 204 688M243 689Q256 681 268 674M243 689Q246 695 251 699M243 689Q254 684 253 673M243 689Q229 696 217 684M243 689Q262 693 280 701M243 689Q260 697 279 697M243 689Q251 681 246 672M243 689Q234 698 222 696M243 689Q246 704 258 714M243 689Q252 699 256 712M243 689Q249 675 263 668M247 676Q248 690 261 695M247 676Q234 681 221 679M247 676Q247 672 248 667M247 676Q241 682 233 678M247 676Q259 678 272 681M247 676Q241 674 237 678M247 676Q249 663 253 649M247 676Q230 671 217 683M247 676Q262 681 276 675M247 676Q241 692 224 693M247 676Q260 664 277 664M247 676Q260 681 269 690M247 676Q256 674 264 671M259 605Q262 619 251 629M259 605Q275 590 296 590M259 605Q242 599 225 592M259 605Q269 594 265 581M259 605Q269 615 268 628M259 605Q272 598 287 602M259 605Q237 599 234 576M259 605Q255 592 250 581M259 605Q267 601 276 598M259 605Q249 619 234 628M259 605Q267 617 279 627M259 605Q250 618 242 631M259 605Q262 609 265 613M259 605Q260 620 250 630M259 605Q263 607 268 605M259 605Q248 613 247 627M259 605Q269 608 276 601M259 605Q269 594 271 579M259 605Q255 597 246 599M259 605Q253 612 247 620M170 589Q162 599 166 611M170 589Q175 570 194 568M170 589Q177 571 188 555M170 589Q164 599 162 610M170 589Q187 582 193 564M170 589Q156 578 138 574M170 589Q166 584 160 584M170 589Q160 579 153 569M170 589Q173 582 180 579M170 589Q172 574 164 562M170 589Q168 584 166 580M170 589Q168 606 164 623M170 589Q180 578 177 563M170 589Q166 594 160 594M170 589Q183 588 192 599M170 589Q185 594 194 606M170 589Q180 584 192 586M170 589Q160 591 152 597M170 589Q177 596 175 606M170 589Q170 569 180 551M170 589Q166 569 149 561M170 589Q159 594 148 596M285 567Q271 557 255 556M285 567Q279 569 272 567M285 567Q295 582 305 598M285 567Q295 562 305 557M285 567Q280 581 290 593M285 567Q292 553 282 542M285 567Q292 558 303 556M285 567Q276 556 273 542M285 567Q281 573 280 581M285 567Q281 574 283 581M285 567Q269 557 251 558M285 567Q290 573 294 582M285 567Q276 564 267 564M285 567Q296 565 306 559M193 603Q188 618 193 634M193 603Q193 598 189 595M193 603Q202 594 212 589M193 603Q200 608 209 606M193 603Q200 600 206 600M193 603Q205 614 221 614M193 603Q181 613 165 617M193 603Q183 596 178 585M193 603Q185 586 167 586M193 603Q213 607 231 599M193 603Q194 596 200 591M193 603Q197 615 196 627M193 603Q201 608 204 617M193 603Q187 607 180 603M193 603Q181 611 167 613M193 603Q188 585 194 568M193 603Q205 612 213 624M193 603Q194 611 201 615M193 603Q187 592 174 591M193 603Q179 606 169 617M193 603Q194 591 205 586M233 601Q225 602 217 605M233 601Q217 598 206 610M233 601Q243 596 251 589M233 601Q244 595 256 589M233 601Q241 609 237 620M233 601Q218 610 201 609M233 601Q233 584 246 571M233 601Q237 611 243 620M233 601Q243 605 253 604M233 601Q234 588 236 576M233 601Q232 609 225 611M233 601Q220 619 229 639M233 601Q232 595 229 591M233 601Q233 595 235 589M233 601Q229 616 214 619M257 665Q241 660 227 651M257 665Q257 685 238 693M257 665Q254 660 254 654M257 665Q236 665 221 679M257 665Q269 662 281 656M257 665Q263 680 259 695M257 665Q276 665 283 647M257 665Q256 652 249 642M257 665Q255 657 260 652M257 665Q270 659 282 650M257 665Q244 678 238 695M257 665Q252 681 236 688M257 665Q258 652 268 646M257 665Q258 650 252 638M257 665Q263 684 257 703M188 688Q183 694 185 701M188 688Q198 685 199 675M188 688Q201 694 216 693M188 688Q196 692 204 690M188 688Q194 686 200 684M188 688Q181 700 173 711M188 688Q186 701 197 708M188 688Q186 673 188 657M188 688Q201 689 207 677M188 688Q180 686 172 689M188 688Q192 691 194 696M188 688Q198 686 208 690M188 688Q201 679 217 681M188 688Q184 697 190 705M188 688Q206 684 223 691M188 688Q188 678 193 670M188 688Q186 684 185 680M209 603Q226 602 233 586M209 603Q215 594 212 584M209 603Q212 618 208 632M209 603Q225 615 240 627M209 603Q225 607 240 613M209 603Q200 602 197 593M209 603Q221 612 235 615M209 603Q228 591 246 604M209 603Q217 598 224 602M209 603Q214 587 231 586M209 603Q193 592 173 592M209 603Q216 622 231 635M209 603Q206 609 201 613M209 603Q195 598 194 583M209 603Q204 598 197 597M231 561Q213 551 194 556M231 561Q237 569 247 566M231 561Q214 574 194 573M231 561Q244 573 257 585M231 561Q244 557 253 569M231 561Q228 573 228 586M231 561Q226 565 224 571M231 561Q239 561 243 554M231 561Q225 581 230 601M231 561Q227 550 218 542M231 561Q215 550 199 560M231 561Q218 559 210 550M231 561Q217 571 202 565M231 561Q247 574 266 563M248 644Q238 641 228 639M248 644Q238 634 227 625M248 644Q248 650 244 654M248 644Q251 662 267 670M248 644Q234 626 239 605M248 644Q247 656 251 667M248 644Q250 653 254 661M248 644Q243 641 242 636M248 644Q248 652 241 657M248 644Q250 632 258 622M248 644Q245 637 245 629M248 644Q232 631 233 611M248 644Q234 644 223 650M248 644Q238 652 225 655M248 644Q250 659 264 667M248 644Q260 648 271 642M278 652Q288 645 288 633M278 652Q264 655 261 668M278 652Q272 653 269 658M278 652Q266 649 255 656M278 652Q284 643 296 640M278 652Q290 648 296 636M278 652Q269 634 277 615M278 652Q266 646 252 643M278 652Q272 651 268 656M278 652Q279 674 299 682M278 652Q292 642 308 648M278 652Q270 655 261 657M278 652Q273 644 280 637M278 652Q274 649 269 647M278 652Q268 669 257 686M278 652Q263 655 249 660M278 652Q284 651 288 647M278 652Q279 646 278 639M278 652Q297 661 315 652M278 652Q289 657 293 668M278 652Q282 649 288 648M278 652Q292 657 303 668M307 682Q309 694 314 706M307 682Q305 673 311 667M307 682Q325 668 321 646M307 682Q297 682 288 687M307 682Q313 685 320 683M307 682Q293 682 280 686M307 682Q305 673 301 664M307 682Q309 670 308 659M307 682Q296 697 305 714M307 682Q298 677 290 684M307 682Q315 689 319 699M307 682Q307 665 301 649M307 682Q316 689 313 700M307 682Q290 669 294 648M307 682Q293 697 273 691M176 622Q175 627 170 629M176 622Q191 635 208 643M176 622Q174 635 180 645M176 622Q172 637 157 641M176 622Q174 615 179 610M176 622Q192 608 193 586M176 622Q178 637 184 651M176 622Q166 617 166 606M176 622Q171 642 154 654M176 622Q167 604 180 588M176 622Q178 632 176 642M176 622Q174 610 165 601M176 622Q183 608 174 595M176 622Q172 616 175 610M176 622Q171 619 169 612M176 622Q185 632 184 646M176 622Q160 615 149 602M176 622Q174 638 169 653M176 622Q174 617 173 611M176 622Q178 637 191 642M176 622Q172 640 155 645M176 622Q166 629 163 642M192 696Q189 685 196 676M192 696Q179 703 180 718M192 696Q199 703 208 707M192 696Q192 678 189 659M192 696Q193 685 198 673M192 696Q207 685 226 687M192 696Q202 700 213 699M192 696Q206 679 228 681M192 696Q201 696 205 689M192 696Q196 705 203 712M192 696Q206 702 214 715M192 696Q197 696 200 699M192 696Q187 710 197 721M192 696Q185 689 175 685M192 696Q185 697 179 702M192 696Q185 688 177 682M192 696Q185 686 173 687M192 696Q196 691 202 689M192 696Q178 708 169 725M192 696Q182 694 173 690M187 715Q182 728 186 741M187 715Q204 707 221 701M187 715Q189 724 182 729M187 715Q192 707 187 698M187 715Q174 721 171 734M187 715Q196 714 204 717M187 715Q197 707 209 711M187 715Q173 717 162 710M187 715Q192 716 197 718M187 715Q177 709 178 697M187 715Q195 704 205 695M187 715Q194 719 200 723M187 715Q177 710 169 702M187 715Q207 716 226 722M187 715Q187 721 183 726M187 715Q201 714 215 712M187 715Q193 698 211 692M187 715Q186 706 193 698M187 715Q202 703 219 694M187 715Q199 733 218 740M180 630Q185 634 188 639M180 630Q176 620 168 613M180 630Q193 620 188 605M180 630Q188 618 195 606M180 630Q166 624 155 635M180 630Q189 612 190 592M180 630Q176 639 179 648M180 630Q194 631 209 631M180 630Q172 631 167 625M180 630Q172 619 158 617M180 630Q175 636 170 643M180 630Q172 630 164 629M180 630Q170 627 159 629M180 630Q188 629 197 629M180 630Q186 624 187 616M180 630Q188 620 197 612M180 630Q176 627 170 627M180 630Q184 630 188 628M305 588Q315 591 325 592M305 588Q306 598 299 606M305 588Q305 603 312 616M305 588Q314 604 332 602M305 588Q311 567 295 552M305 588Q300 605 285 613M305 588Q301 590 297 591M305 588Q312 582 320 575M305 588Q309 582 317 583M305 588Q288 589 273 595M305 588Q292 589 282 582M305 588Q314 583 318 573M305 588Q292 571 296 551M305 588Q295 587 286 592M305 588Q312 586 313 578M305 588Q305 582 302 576M141 611Q128 615 115 620M141 611Q130 606 119 604M141 611Q129 615 117 612M141 611Q133 611 127 615M141 611Q159 609 174 597M141 611Q140 617 137 623M141 611Q151 604 153 591M141 611Q140 595 126 587M141 611Q140 616 143 619M141 611Q152 615 163 615M141 611Q133 614 128 620M141 611Q132 627 114 631M141 611Q145 604 148 596M141 611Q152 611 163 613M141 611Q161 611 171 629M141 611Q129 613 118 608M141 611Q147 629 136 646M141 611Q135 612 131 615M141 611Q151 614 160 619M141 611Q152 618 163 625M248 691Q242 693 236 696M248 691Q249 676 252 662M248 691Q265 687 280 694M248 691Q244 690 239 690M248 691Q240 695 236 703M248 691Q259 704 272 714M248 691Q240 688 234 681M248 691Q227 694 220 714M248 691Q236 690 229 700M248 691Q265 684 279 696M248 691Q245 697 243 703M248 691Q255 673 242 659M248 691Q239 697 229 702M248 691Q237 683 234 669M248 691Q240 695 232 700M248 691Q262 687 275 681M248 691Q249 704 238 711M248 691Q257 688 266 689M248 691Q257 691 262 684M294 647Q289 629 293 610M294 647Q283 639 283 625M294 647Q305 647 316 646M294 647Q311 647 325 657M294 647Q286 655 276 661M294 647Q292 663 293 679M294 647Q297 641 301 636M294 647Q314 645 327 631M294 647Q290 641 291 632M294 647Q307 640 321 635M294 647Q311 644 320 629M294 647Q294 638 299 631M294 647Q289 650 288 656M294 647Q297 639 294 630M294 647Q281 637 272 623M294 647Q274 636 274 613M294 647Q278 652 265 664M294 647Q289 648 284 651M294 647Q292 652 288 654M294 647Q298 657 306 665M233 716Q224 721 215 716M233 716Q244 702 259 693M233 716Q237 708 239 701M233 716Q244 703 259 707M233 716Q230 719 226 722M233 716Q240 731 243 748M233 716Q239 726 237 739M233 716Q227 727 216 735M233 716Q228 715 223 713M233 716Q239 714 244 719M233 716Q242 719 248 726M233 716Q234 710 237 706M217 640Q208 640 202 632M217 640Q213 639 208 639M217 640Q212 639 208 636M217 640Q227 650 236 660M217 640Q218 630 227 624M217 640Q220 636 223 632M217 640Q225 645 234 645M217 640Q203 647 192 658M217 640Q200 643 189 630M217 640Q220 631 227 625M217 640Q217 654 224 665M217 640Q226 633 237 635M217 640Q216 652 224 661M217 640Q223 635 230 638M217 640Q203 655 203 676M217 640Q205 631 206 616M184 673Q186 658 193 646M184 673Q168 673 154 663M184 673Q196 658 207 642M184 673Q184 682 176 689M184 673Q194 656 214 660M184 673Q177 677 178 685M184 673Q198 664 213 660M184 673Q172 686 163 701M184 673Q190 666 192 657M184 673Q171 680 158 677M184 673Q187 677 193 676M184 673Q171 657 173 637M184 673Q199 683 217 685M184 673Q188 676 192 679M184 673Q188 670 192 667M234 622Q246 623 253 613M234 622Q220 610 205 599M234 622Q233 631 229 641M234 622Q235 634 232 647M234 622Q242 637 244 654M234 622Q225 619 218 626M234 622Q244 636 259 643M234 622Q230 609 218 605M234 622Q248 623 260 629M234 622Q220 626 209 616M234 622Q225 620 215 620M234 622Q246 623 252 633M234 622Q231 613 233 605M234 622Q226 622 222 629M234 622Q230 628 224 632M234 622Q229 615 221 611" fill="none" stroke="#eeb4f2" stroke-width="0.8"/>
<path d="M186 570h0M228 585h0M173 592h0M230 571h0M213 582h0M201 579h0M207 594h0M179 537h0M194 576h0M161 561h0M196 575h0M168 546h0M216 572h0M178 556h0M305 623h0M286 615h0M306 629h0M322 622h0M332 607h0M281 616h0M319 584h0M307 624h0M293 630h0M296 617h0M329 592h0M323 581h0M298 584h0M319 654h0M269 675h0M246 677h0M256 709h0M227 705h0M287 716h0M281 718h0M256 716h0M286 716h0M281 707h0M275 697h0M262 686h0M257 729h0M249 698h0M283 717h0M253 681h0M253 678h0M187 580h0M209 552h0M239 573h0M227 580h0M208 554h0M211 593h0M239 585h0M230 568h0M216 536h0M227 542h0M197 549h0M185 594h0M242 573h0M213 598h0M213 556h0M226 547h0M215 551h0M205 583h0M206 550h0M194 598h0M286 628h0M276 656h0M318 667h0M333 635h0M281 623h0M287 600h0M303 612h0M311 605h0M304 625h0M282 607h0M294 622h0M338 630h0M318 641h0M297 626h0M309 652h0M170 682h0M151 720h0M138 703h0M164 696h0M139 707h0M144 646h0M124 683h0M140 703h0M170 699h0M160 697h0M158 651h0M166 677h0M139 691h0M155 666h0M142 675h0M137 705h0M180 693h0M142 675h0M153 659h0M275 704h0M249 687h0M231 685h0M235 696h0M212 711h0M230 678h0M227 684h0M213 729h0M255 732h0M229 742h0M228 698h0M244 730h0M238 726h0M244 683h0M227 720h0M260 710h0M226 718h0M266 715h0M242 605h0M192 608h0M253 573h0M221 616h0M220 618h0M242 595h0M256 607h0M202 592h0M221 578h0M190 573h0M174 708h0M179 699h0M206 741h0M169 733h0M219 704h0M212 714h0M192 726h0M214 707h0M221 724h0M185 724h0M224 749h0M215 613h0M228 598h0M208 604h0M235 600h0M227 620h0M212 605h0M234 638h0M209 594h0M225 646h0M204 594h0M207 613h0M243 641h0M218 621h0M250 627h0M207 596h0M230 621h0M214 616h0M235 602h0M218 627h0M187 619h0M208 604h0M175 593h0M204 614h0M170 598h0M206 574h0M197 619h0M196 602h0M192 595h0M200 555h0M188 569h0M188 590h0M236 591h0M180 575h0M169 583h0M327 631h0M305 630h0M323 586h0M335 612h0M325 619h0M336 643h0M337 626h0M325 598h0M335 611h0M330 605h0M304 599h0M319 574h0M311 599h0M305 616h0M318 573h0M324 615h0M308 617h0M316 571h0M286 585h0M295 562h0M296 576h0M299 606h0M281 622h0M278 559h0M281 592h0M301 616h0M294 610h0M325 597h0M138 590h0M189 579h0M169 604h0M165 635h0M167 586h0M199 594h0M138 600h0M165 617h0M186 591h0M194 585h0M134 616h0M153 620h0M168 604h0M149 579h0M153 597h0M158 588h0M182 619h0M148 615h0M248 625h0M249 585h0M275 627h0M254 624h0M304 612h0M291 612h0M291 638h0M253 589h0M295 624h0M253 619h0M247 645h0M241 587h0M273 637h0M249 647h0M257 643h0M288 641h0M235 613h0M263 590h0M253 628h0M289 636h0M263 593h0M250 671h0M273 663h0M263 662h0M267 679h0M261 693h0M261 665h0M252 665h0M301 658h0M272 713h0M268 683h0M261 695h0M275 692h0M277 647h0M291 700h0M248 681h0M285 662h0M281 660h0M301 670h0M299 662h0M290 694h0M288 639h0M305 611h0M298 610h0M291 585h0M271 607h0M314 633h0M266 626h0M308 643h0M306 654h0M306 614h0M216 695h0M188 696h0M203 725h0M166 705h0M195 684h0M162 685h0M212 735h0M182 705h0M207 706h0M211 699h0M205 675h0M224 686h0M243 547h0M232 531h0M208 583h0M221 531h0M250 528h0M253 562h0M219 529h0M220 560h0M260 530h0M220 557h0M248 545h0M226 535h0M239 564h0M220 549h0M244 673h0M256 685h0M223 720h0M282 682h0M220 675h0M243 704h0M246 663h0M269 702h0M235 679h0M204 688h0M268 674h0M251 699h0M253 673h0M217 684h0M280 701h0M279 697h0M246 672h0M222 696h0M258 714h0M256 712h0M263 668h0M261 695h0M221 679h0M248 667h0M233 678h0M272 681h0M237 678h0M253 649h0M217 683h0M276 675h0M224 693h0M277 664h0M269 690h0M264 671h0M251 629h0M296 590h0M225 592h0M265 581h0M268 628h0M287 602h0M234 576h0M250 581h0M276 598h0M234 628h0M279 627h0M242 631h0M265 613h0M250 630h0M268 605h0M247 627h0M276 601h0M271 579h0M246 599h0M247 620h0M166 611h0M194 568h0M188 555h0M162 610h0M193 564h0M138 574h0M160 584h0M153 569h0M180 579h0M164 562h0M166 580h0M164 623h0M177 563h0M160 594h0M192 599h0M194 606h0M192 586h0M152 597h0M175 606h0M180 551h0M149 561h0M148 596h0M255 556h0M272 567h0M305 598h0M305 557h0M290 593h0M282 542h0M303 556h0M273 542h0M280 581h0M283 581h0M251 558h0M294 582h0M267 564h0M306 559h0M193 634h0M189 595h0M212 589h0M209 606h0M206 600h0M221 614h0M165 617h0M178 585h0M167 586h0M231 599h0M200 591h0M196 627h0M204 617h0M180 603h0M167 613h0M194 568h0M213 624h0M201 615h0M174 591h0M169 617h0M205 586h0M217 605h0M206 610h0M251 589h0M256 589h0M237 620h0M201 609h0M246 571h0M243 620h0M253 604h0M236 576h0M225 611h0M229 639h0M229 591h0M235 589h0M214 619h0M227 651h0M238 693h0M254 654h0M221 679h0M281 656h0M259 695h0M283 647h0M249 642h0M260 652h0M282 650h0M238 695h0M236 688h0M268 646h0M252 638h0M257 703h0M185 701h0M199 675h0M216 693h0M204 690h0M200 684h0M173 711h0M197 708h0M188 657h0M207 677h0M172 689h0M194 696h0M208 690h0M217 681h0M190 705h0M223 691h0M193 670h0M185 680h0M233 586h0M212 584h0M208 632h0M240 627h0M240 613h0M197 593h0M235 615h0M246 604h0M224 602h0M231 586h0M173 592h0M231 635h0M201 613h0M194 583h0M197 597h0M194 556h0M247 566h0M194 573h0M257 585h0M253 569h0M228 586h0M224 571h0M243 554h0M230 601h0M218 542h0M199 560h0M210 550h0M202 565h0M266 563h0M228 639h0M227 625h0M244 654h0M267 670h0M239 605h0M251 667h0M254 661h0M242 636h0M241 657h0M258 622h0M245 629h0M233 611h0M223 650h0M225 655h0M264 667h0M271 642h0M288 633h0M261 668h0M269 658h0M255 656h0M296 640h0M296 636h0M277 615h0M252 643h0M268 656h0M299 682h0M308 648h0M261 657h0M280 637h0M269 647h0M257 686h0M249 660h0M288 647h0M278 639h0M315 652h0M293 668h0M288 648h0M303 668h0M314 706h0M311 667h0M321 646h0M288 687h0M320 683h0M280 686h0M301 664h0M308 659h0M305 714h0M290 684h0M319 699h0M301 649h0M313 700h0M294 648h0M273 691h0M170 629h0M208 643h0M180 645h0M157 641h0M179 610h0M193 586h0M184 651h0M166 606h0M154 654h0M180 588h0M176 642h0M165 601h0M174 595h0M175 610h0M169 612h0M184 646h0M149 602h0M169 653h0M173 611h0M191 642h0M155 645h0M163 642h0M196 676h0M180 718h0M208 707h0M189 659h0M198 673h0M226 687h0M213 699h0M228 681h0M205 689h0M203 712h0M214 715h0M200 699h0M197 721h0M175 685h0M179 702h0M177 682h0M173 687h0M202 689h0M169 725h0M173 690h0M186 741h0M221 701h0M182 729h0M187 698h0M171 734h0M204 717h0M209 711h0M162 710h0M197 718h0M178 697h0M205 695h0M200 723h0M169 702h0M226 722h0M183 726h0M215 712h0M211 692h0M193 698h0M219 694h0M218 740h0M188 639h0M168 613h0M188 605h0M195 606h0M155 635h0M190 592h0M179 648h0M209 631h0M167 625h0M158 617h0M170 643h0M164 629h0M159 629h0M197 629h0M187 616h0M197 612h0M170 627h0M188 628h0M325 592h0M299 606h0M312 616h0M332 602h0M295 552h0M285 613h0M297 591h0M320 575h0M317 583h0M273 595h0M282 582h0M318 573h0M296 551h0M286 592h0M313 578h0M302 576h0M115 620h0M119 604h0M117 612h0M127 615h0M174 597h0M137 623h0M153 591h0M126 587h0M143 619h0M163 615h0M128 620h0M114 631h0M148 596h0M163 613h0M171 629h0M118 608h0M136 646h0M131 615h0M160 619h0M163 625h0M236 696h0M252 662h0M280 694h0M239 690h0M236 703h0M272 714h0M234 681h0M220 714h0M229 700h0M279 696h0M243 703h0M242 659h0M229 702h0M234 669h0M232 700h0M275 681h0M238 711h0M266 689h0M262 684h0M293 610h0M283 625h0M316 646h0M325 657h0M276 661h0M293 679h0M301 636h0M327 631h0M291 632h0M321 635h0M320 629h0M299 631h0M288 656h0M294 630h0M272 623h0M274 613h0M265 664h0M284 651h0M288 654h0M306 665h0M215 716h0M259 693h0M239 701h0M259 707h0M226 722h0M243 748h0M237 739h0M216 735h0M223 713h0M244 719h0M248 726h0M237 706h0M202 632h0M208 639h0M208 636h0M236 660h0M227 624h0M223 632h0M234 645h0M192 658h0M189 630h0M227 625h0M224 665h0M237 635h0M224 661h0M230 638h0M203 676h0M206 616h0M193 646h0M154 663h0M207 642h0M176 689h0M214 660h0M178 685h0M213 660h0M163 701h0M192 657h0M158 677h0M193 676h0M173 637h0M217 685h0M192 679h0M192 667h0M253 613h0M205 599h0M229 641h0M232 647h0M244 654h0M218 626h0M259 643h0M218 605h0M260 629h0M209 616h0M215 620h0M252 633h0M233 605h0M222 629h0M224 632h0M221 611h0" stroke="#eeb4f2" stroke-width="3" stroke-linecap="round"/>
<path d="M267 598Q280 588 296 594M280 657Q268 637 268 613M239 567Q221 586 231 610M236 622Q244 613 256 612M218 545Q204 558 208 576M190 629Q197 605 220 595M235 576Q233 559 224 545M241 617Q221 616 202 610M190 585Q218 552 260 560M211 680Q213 702 206 723M301 626Q310 642 299 655M181 701Q201 707 204 727M172 642Q160 628 153 611M249 635Q281 621 309 641M240 605Q250 624 270 633M189 557Q229 540 268 561M165 627Q198 608 217 574M209 670Q199 640 216 613M267 648Q250 629 245 603M243 649Q234 684 215 714M216 586Q188 559 152 574M242 563Q250 602 222 632M206 579Q217 569 220 555M303 578Q317 607 307 638M179 674Q211 672 239 657M224 684Q227 662 220 641M199 646Q240 635 253 594M210 619Q249 615 269 649M205 710Q214 723 222 737M315 648Q319 630 318 612M185 585Q174 604 155 617M239 648Q272 644 304 643M296 685Q303 647 272 624M206 605Q176 583 139 583M241 661Q232 671 220 665M268 557Q231 557 208 587M281 569Q266 577 259 593M315 647Q273 654 249 618M150 694Q162 702 176 696M239 622Q258 606 283 606M160 608Q181 583 169 552M225 635Q237 663 216 685M261 641Q227 662 189 675M257 683Q258 642 280 608M245 557Q232 593 224 630M294 646Q281 665 260 676M197 592Q210 577 225 563M318 678Q302 678 294 664M185 562Q181 602 187 641M272 644Q250 613 220 590M316 618Q316 617 315 616M197 578Q201 584 209 584M248 651Q244 637 233 628M287 659Q291 666 299 670M150 688Q119 664 131 626M233 573Q260 567 286 574M200 639Q192 647 181 651M212 616Q246 613 273 592M251 643Q214 645 180 634M269 548Q274 579 295 601M290 563Q290 566 288 568M282 638Q275 656 263 672M213 691Q249 682 266 649M257 597Q221 595 193 619M197 620Q180 660 209 693M250 680Q275 656 289 625M246 610Q224 615 210 633M235 554Q244 563 256 561M228 642Q247 658 271 662M235 590Q241 570 249 550M220 615Q232 603 249 605M256 687Q274 648 316 641M235 593Q265 583 297 587M285 719Q253 718 226 701M245 600Q201 609 192 652M247 652Q227 684 222 722M275 678Q257 702 233 721M153 660Q184 657 213 668M181 718Q221 725 258 711M128 649Q149 663 152 688M230 675Q263 640 308 659M231 650Q234 692 200 715M142 603Q168 621 196 633M259 648Q230 640 205 658M145 668Q149 677 155 686M266 645Q275 657 268 672M196 719Q174 700 148 686M165 556Q202 568 228 598M172 581Q174 619 177 657M176 568Q196 601 235 605M230 679Q236 662 229 645M235 660Q244 630 232 601M327 614Q315 644 294 669M307 698Q283 703 270 724M220 734Q218 695 251 675M250 612Q263 595 267 574M219 608Q230 633 257 631M250 681Q284 670 311 692M213 643Q193 664 187 692M296 579Q275 545 236 536M290 659Q290 633 314 625M295 679Q271 674 249 684M262 634Q271 635 280 634M274 660Q290 652 303 663M289 644Q296 616 285 590M252 663Q277 671 290 694M239 574Q249 561 243 546M199 657Q187 689 185 724M189 580Q193 576 195 570M225 663Q232 626 253 595M245 628Q238 640 230 652M287 612Q263 638 235 659M184 599Q195 588 209 583M210 600Q188 615 171 637M158 702Q178 668 158 633M196 611Q203 594 218 583M204 686Q183 667 181 638M196 574Q207 544 239 539M220 591Q192 600 187 628M228 586Q238 605 249 624M198 707Q190 718 197 729M182 688Q190 692 191 700M266 681Q245 657 215 644M141 672Q166 687 186 708M317 607Q291 625 275 653M298 668Q288 669 279 673M194 618Q227 635 264 636M250 615Q222 644 183 637M163 672Q141 657 135 630M159 696Q177 716 203 724M172 659Q157 635 154 608M214 700Q227 712 238 726M182 614Q162 615 152 596M136 600Q152 617 153 639M255 611Q221 606 193 626M313 610Q283 613 262 591M233 724Q258 713 266 688M271 649Q238 630 210 606M245 658Q225 678 221 705M241 665Q236 702 200 712M232 662Q236 645 245 630M287 620Q262 624 252 647M176 707Q141 690 135 652M180 653Q151 652 139 626M233 669Q218 650 223 627M183 681Q162 681 141 682M138 646Q151 639 165 643M169 689Q149 696 135 680M201 648Q232 650 261 664" fill="none" stroke="#e8a8ec" stroke-width="0.7" stroke-opacity="0.9"/>
<path d="M234 617Q262 603 280 577M270 585Q297 611 315 644M248 705Q229 672 247 639M262 665Q276 625 246 594M222 568Q240 590 257 613M212 544Q203 580 199 617M222 714Q205 689 198 659M221 581Q220 593 227 602M155 647Q174 659 176 681M162 578Q160 582 156 582M175 669Q180 651 199 649M256 701Q259 709 257 716M150 625Q173 640 201 642M222 613Q197 602 173 591M325 627Q301 641 273 640M312 637Q296 667 285 698M173 574Q189 565 187 547M294 603Q302 614 313 621M255 697Q216 680 214 638" fill="none" stroke="#d05a6a" stroke-width="0.6" stroke-opacity="0.6"/>
<path d="M280 642Q298 628 300 605M280 622Q281 609 290 601M174 638Q154 627 132 618M205 636Q173 610 173 569M229 615Q199 599 182 570M145 619Q146 630 154 637M312 638Q277 627 242 616M223 698Q213 705 201 702M288 610Q284 625 294 636M200 566Q192 566 184 563M168 633Q184 618 185 597M240 588Q208 579 174 584M211 706Q222 697 236 697M216 625Q208 667 165 675M298 635Q257 633 235 667M301 624Q282 635 276 656M225 558Q242 565 257 554M154 700Q162 699 169 703M215 679Q213 655 204 634M319 614Q316 649 294 676M198 577Q220 595 247 587M145 632Q140 646 150 656" fill="none" stroke="#a686f0" stroke-width="0.6" stroke-opacity="0.6"/>
<path d="M174 704Q178 699 176 694M247 656Q257 637 255 616M294 638Q268 611 233 599M199 549Q216 566 215 590M243 551Q209 554 194 584M277 614Q252 610 239 588M167 636Q179 600 216 595M219 695Q247 727 288 716M244 650Q261 628 251 602M173 590Q182 576 195 565M227 705Q224 686 209 676M262 657Q289 672 316 659M319 661Q299 657 295 638M185 631Q188 600 194 569M206 642Q187 661 172 683M268 591Q240 567 207 583M284 633Q253 664 212 648M254 560Q233 590 250 623M265 610Q252 611 239 610M190 579Q179 608 154 626M301 645Q313 625 301 606M214 622Q181 607 167 575" fill="none" stroke="#7b7d3c" stroke-width="0.6" stroke-opacity="0.6"/>
<path d="M301 691Q302 675 307 660M242 609Q270 587 269 551M177 581Q182 585 184 591M263 666Q268 695 243 710M197 627Q198 650 208 670M228 728Q258 717 264 686M207 620Q176 621 146 619M204 605Q219 605 230 595M188 667Q213 662 237 658M225 587Q219 613 231 638M208 566Q185 595 149 604M177 603Q175 590 165 583M159 622Q172 595 183 567M236 644Q264 665 261 700M255 668Q257 696 271 719M174 643Q179 628 188 614M232 734Q239 699 274 690M302 579Q307 585 309 592M260 582Q219 594 214 636" fill="none" stroke="#2a2ab8" stroke-width="0.6" stroke-opacity="0.6"/>
<path d="M280 696Q279 667 266 642M200 638Q227 659 258 674M202 654Q230 631 221 596M264 649Q248 641 238 627M238 662Q232 629 222 597M150 644Q158 665 180 669M182 598Q174 608 165 617M253 706Q233 715 234 737M172 587Q176 570 189 557M203 678Q202 693 203 707M147 598Q173 618 206 620M217 639Q198 667 165 661M242 552Q215 546 189 556M223 569Q189 586 186 624M233 637Q211 667 174 669M200 606Q178 638 139 640" fill="none" stroke="#3c9a1e" stroke-width="0.6" stroke-opacity="0.6"/>
<path d="M255 629Q245 599 244 568M260 613Q274 608 289 611M246 714Q213 707 181 717M212 564Q207 554 196 550M139 602Q157 602 171 614M175 641Q147 640 123 627M314 677Q300 664 281 663M244 608Q237 589 217 587M180 562Q193 598 225 620M221 605Q251 585 274 557M290 618Q250 613 240 575M241 606Q246 590 260 582M303 587Q305 598 308 609M149 580Q163 549 196 541M293 582Q282 614 251 628M136 645Q140 673 166 685M166 588Q192 563 226 548M191 689Q149 688 135 649" fill="none" stroke="#c07090" stroke-width="0.6" stroke-opacity="0.6"/>
<path d="M253 590Q241 573 229 557M264 707Q238 704 224 681M197 644Q205 640 213 644M245 635Q250 647 241 656M176 623Q195 644 210 668M241 649Q227 687 255 716M313 595Q304 617 308 640M301 588Q301 584 304 582M219 607Q250 587 257 550M215 564Q220 593 230 621M266 688Q238 714 199 712M179 635Q172 612 187 593M184 634Q167 655 163 682M247 573Q231 597 242 624M183 635Q194 661 198 689M251 571Q237 561 223 551M214 701Q226 660 195 631M185 619Q206 612 209 591M183 703Q219 714 249 690M247 544Q256 558 273 559M279 642Q263 631 245 628" fill="none" stroke="#a0300f" stroke-width="0.6" stroke-opacity="0.6"/>
<path d="M139 625Q132 638 118 642M139 625Q138 618 132 614M139 625Q157 635 171 650M139 625Q145 617 154 616M139 625Q131 625 126 620M139 625Q148 636 162 634M139 625Q131 631 129 641M139 625Q131 626 127 633M139 625Q139 605 151 590M139 625Q129 620 127 609M139 625Q148 620 158 615M139 625Q147 629 155 627M139 625Q130 634 118 632M139 625Q159 637 182 633M139 625Q132 617 128 608M139 625Q143 633 145 642M139 625Q146 636 154 646M139 625Q147 636 148 650M139 625Q157 618 176 618M139 625Q129 624 119 625M139 625Q139 616 135 607M139 625Q162 621 179 605" fill="none" stroke="#2a2ab8" stroke-width="0.75" stroke-opacity="0.8"/>
<path d="M171 650h0M154 616h0M162 634h0M129 641h0M127 633h0M151 590h0M127 609h0M158 615h0M155 627h0M118 632h0M128 608h0M145 642h0M119 625h0M179 605h0" stroke="#2a2ab8" stroke-width="3" stroke-linecap="round"/>
<path d="M139 625h0" stroke="#2a2ab8" stroke-width="4" stroke-linecap="round"/>
<path d="M320 649Q313 633 300 620M320 649Q327 650 333 649M320 649Q313 637 309 624M320 649Q324 644 324 637M320 649Q327 648 333 653M320 649Q319 659 322 669M320 649Q325 665 324 682M320 649Q326 657 330 666M320 649Q326 654 332 658M320 649Q326 641 334 637M320 649Q305 645 291 638M320 649Q327 648 333 649M320 649Q314 642 309 634M320 649Q328 645 334 639M320 649Q312 647 304 644M320 649Q327 648 333 650M320 649Q313 649 307 651M320 649Q328 634 332 618M320 649Q310 665 306 683M320 649Q317 634 326 622M320 649Q310 654 301 660M320 649Q324 654 323 660" fill="none" stroke="#2a2ab8" stroke-width="0.75" stroke-opacity="0.8"/>
<path d="M333 653h0M322 669h0M324 682h0M330 666h0M334 637h0M291 638h0M333 649h0M309 634h0M333 650h0M307 651h0M326 622h0M323 660h0" stroke="#2a2ab8" stroke-width="3" stroke-linecap="round"/>
<path d="M320 649h0" stroke="#2a2ab8" stroke-width="4" stroke-linecap="round"/>
<path d="M293 685Q298 689 299 695M293 685Q310 684 323 672M293 685Q302 697 301 712M293 685Q278 695 266 709M293 685Q281 694 270 706M293 685Q298 668 294 650M293 685Q275 676 256 683M293 685Q276 689 259 697M293 685Q305 679 319 677M293 685Q283 695 272 704M293 685Q306 690 319 692M293 685Q295 700 306 710M293 685Q304 696 318 693M293 685Q274 687 266 704M293 685Q289 692 292 700M293 685Q282 682 273 689M293 685Q300 694 311 694M293 685Q305 690 314 700M293 685Q293 672 303 663M293 685Q306 690 319 691M293 685Q304 691 315 698M293 685Q305 686 315 678" fill="none" stroke="#1a22b0" stroke-width="0.75" stroke-opacity="0.8"/>
<path d="M299 695h0M301 712h0M270 706h0M256 683h0M319 677h0M319 692h0M306 710h0M318 693h0M266 704h0M292 700h0M303 663h0M319 691h0M315 698h0" stroke="#1a22b0" stroke-width="3" stroke-linecap="round"/>
<path d="M293 685h0" stroke="#1a22b0" stroke-width="4" stroke-linecap="round"/>
<path d="M134 667Q127 669 121 664M134 667Q131 655 121 647M134 667Q133 674 126 679M134 667Q129 659 120 658M134 667Q152 669 165 658M134 667Q132 678 132 690M134 667Q143 683 162 684M134 667Q128 657 123 647M134 667Q126 661 119 654M134 667Q139 665 144 662M134 667Q151 662 167 671M134 667Q132 686 143 702M134 667Q143 655 157 649M134 667Q130 672 125 674M134 667Q133 648 135 629M134 667Q127 668 121 663" fill="none" stroke="#3a3ac0" stroke-width="0.75" stroke-opacity="0.8"/>
<path d="M121 664h0M121 647h0M120 658h0M165 658h0M123 647h0M167 671h0M143 702h0M157 649h0" stroke="#3a3ac0" stroke-width="3" stroke-linecap="round"/>
<path d="M134 667h0" stroke="#3a3ac0" stroke-width="4" stroke-linecap="round"/>
<path d="M244 570Q251 552 249 532M244 570Q234 562 228 551M244 570Q254 560 265 552M244 570Q259 584 279 587M244 570Q253 563 264 565M244 570Q242 580 234 587M244 570Q245 555 254 542M244 570Q232 573 220 577M244 570Q249 577 249 586M244 570Q253 572 256 580M244 570Q252 580 254 592M244 570Q232 579 218 576M244 570Q247 551 246 531M244 570Q240 563 235 557" fill="none" stroke="#1a22b0" stroke-width="0.75" stroke-opacity="0.8"/>
<path d="M249 532h0M279 587h0M249 586h0M254 592h0M246 531h0M235 557h0" stroke="#1a22b0" stroke-width="3" stroke-linecap="round"/>
<path d="M244 570h0" stroke="#1a22b0" stroke-width="4" stroke-linecap="round"/>
<path d="M262 706Q266 716 264 727M262 706Q264 697 270 690M262 706Q262 699 268 695M262 706Q253 716 242 723M262 706Q277 706 285 719M262 706Q263 713 259 719M262 706Q256 701 250 697M262 706Q260 717 250 721M262 706Q265 714 266 722M262 706Q252 703 249 693M262 706Q256 719 245 728M262 706Q267 708 272 709M262 706Q263 714 258 720M262 706Q267 701 267 694M262 706Q264 694 264 682M262 706Q251 700 240 695M262 706Q267 712 275 712M262 706Q257 701 258 693M262 706Q257 711 255 718M262 706Q273 704 284 700M262 706Q251 705 244 713M262 706Q277 707 289 717M262 706Q264 713 264 720M262 706Q258 714 259 722M262 706Q250 715 246 729M262 706Q264 718 257 728" fill="none" stroke="#1a22b0" stroke-width="0.75" stroke-opacity="0.8"/>
<path d="M242 723h0M266 722h0M245 728h0M264 682h0M240 695h0M275 712h0M255 718h0M246 729h0" stroke="#1a22b0" stroke-width="3" stroke-linecap="round"/>
<path d="M262 706h0" stroke="#1a22b0" stroke-width="4" stroke-linecap="round"/>
<path d="M238 690Q248 683 249 670M238 690Q237 698 232 704M238 690Q251 688 264 687M238 690Q229 679 222 665M238 690Q242 688 246 688M238 690Q250 679 248 663M238 690Q242 694 247 699M238 690Q225 681 223 665M238 690Q242 694 246 698M238 690Q234 700 228 709M238 690Q235 683 228 681M238 690Q232 689 226 685M238 690Q235 675 221 668M238 690Q246 676 262 673M238 690Q233 701 231 713M238 690Q227 685 215 680M238 690Q227 684 214 686M238 690Q229 692 224 700" fill="none" stroke="#1a22b0" stroke-width="0.75" stroke-opacity="0.8"/>
<path d="M249 670h0M246 688h0M248 663h0M247 699h0M223 665h0M246 698h0M221 668h0M231 713h0M215 680h0" stroke="#1a22b0" stroke-width="3" stroke-linecap="round"/>
<path d="M238 690h0" stroke="#1a22b0" stroke-width="4" stroke-linecap="round"/>
<path d="M281 595Q265 606 254 622M281 595Q298 607 308 624M281 595Q283 613 291 630M281 595Q266 602 262 617M281 595Q296 593 306 605M281 595Q289 591 290 582M281 595Q275 602 265 601M281 595Q284 576 274 560M281 595Q268 589 264 575M281 595Q302 593 315 576M281 595Q295 578 288 557M281 595Q264 594 251 604M281 595Q262 605 257 625M281 595Q286 585 296 581M281 595Q296 609 317 606M281 595Q291 589 302 586M281 595Q278 611 271 626M281 595Q280 603 283 611M281 595Q288 584 288 572M281 595Q295 578 316 578" fill="none" stroke="#4a9a2a" stroke-width="0.75" stroke-opacity="0.8"/>
<path d="M308 624h0M291 630h0M265 601h0M274 560h0M288 557h0M271 626h0M283 611h0M288 572h0" stroke="#4a9a2a" stroke-width="3" stroke-linecap="round"/>
<path d="M281 595h0" stroke="#4a9a2a" stroke-width="4" stroke-linecap="round"/>
<path d="M283 630Q285 647 273 658M283 630Q274 627 269 620M283 630Q267 617 268 597M283 630Q285 623 291 620M283 630Q282 619 291 612M283 630Q269 630 258 636M283 630Q297 614 317 605M283 630Q295 612 300 591M283 630Q279 652 269 672M283 630Q265 635 249 625M283 630Q279 643 278 656M283 630Q261 631 241 642M283 630Q268 647 245 648M283 630Q291 637 292 647M283 630Q301 615 324 619M283 630Q272 644 254 648M283 630Q288 625 295 623M283 630Q270 634 265 647M283 630Q278 641 285 650M283 630Q278 615 267 604" fill="none" stroke="#3c9a1e" stroke-width="0.75" stroke-opacity="0.8"/>
<path d="M268 597h0M291 612h0M258 636h0M317 605h0M324 619h0M254 648h0M295 623h0M285 650h0" stroke="#3c9a1e" stroke-width="3" stroke-linecap="round"/>
<path d="M283 630h0" stroke="#3c9a1e" stroke-width="4" stroke-linecap="round"/>
<path d="M218 700Q205 683 210 662M218 700Q209 716 215 734M218 700Q221 711 226 721M218 700Q231 684 249 675M218 700Q235 697 252 700M218 700Q223 693 222 685M218 700Q203 691 197 674M218 700Q223 694 224 687M218 700Q229 706 242 705M218 700Q227 702 237 702M218 700Q213 706 207 709M218 700Q231 706 244 713M218 700Q220 682 225 665M218 700Q229 677 213 656M218 700Q226 708 225 719M218 700Q232 703 243 695M218 700Q231 705 237 717M218 700Q224 721 214 741M218 700Q239 688 261 699M218 700Q222 694 223 688" fill="none" stroke="#3c9a1e" stroke-width="0.75" stroke-opacity="0.8"/>
<path d="M210 662h0M215 734h0M197 674h0M224 687h0M242 705h0M237 702h0M207 709h0M244 713h0M213 656h0M237 717h0" stroke="#3c9a1e" stroke-width="3" stroke-linecap="round"/>
<path d="M218 700h0" stroke="#3c9a1e" stroke-width="4" stroke-linecap="round"/>
<path d="M250 715Q255 728 248 740M250 715Q245 713 243 707M250 715Q244 726 249 738M250 715Q246 730 241 744M250 715Q247 726 253 737M250 715Q252 710 253 704M250 715Q234 719 217 718M250 715Q251 721 255 727M250 715Q266 710 281 701M250 715Q243 711 236 715M250 715Q254 711 258 706M250 715Q262 721 265 734M250 715Q245 728 249 741M250 715Q243 720 242 729M250 715Q249 733 232 740M250 715Q252 698 263 684M250 715Q259 713 266 708M250 715Q258 719 266 724M250 715Q263 705 273 692M250 715Q254 709 257 703" fill="none" stroke="#3c9a1e" stroke-width="0.75" stroke-opacity="0.8"/>
<path d="M243 707h0M241 744h0M253 737h0M253 704h0M236 715h0M242 729h0M232 740h0M266 708h0M273 692h0M257 703h0" stroke="#3c9a1e" stroke-width="3" stroke-linecap="round"/>
<path d="M250 715h0" stroke="#3c9a1e" stroke-width="4" stroke-linecap="round"/>
<path d="M165 610Q171 610 177 608M165 610Q160 604 164 596M165 610Q158 611 151 616M165 610Q176 601 190 603M165 610Q163 604 156 603M165 610Q156 603 156 591M165 610Q166 618 162 624M165 610Q158 599 146 593M165 610Q174 609 182 605M165 610Q171 615 173 621" fill="none" stroke="#3c9a1e" stroke-width="0.75" stroke-opacity="0.8"/>
<path d="M177 608h0M164 596h0M156 591h0M146 593h0M182 605h0M173 621h0" stroke="#3c9a1e" stroke-width="3" stroke-linecap="round"/>
<path d="M165 610h0" stroke="#3c9a1e" stroke-width="4" stroke-linecap="round"/>
<path d="M211 571Q221 595 246 601M211 571Q202 563 205 551M211 571Q220 580 217 592M211 571Q224 590 225 612M211 571Q198 585 202 604M211 571Q204 578 195 576M211 571Q195 592 168 589M211 571Q183 570 168 594M211 571Q202 561 188 559M211 571Q219 568 220 560M211 571Q211 556 219 543M211 571Q215 557 205 546M211 571Q225 581 228 598M211 571Q213 556 210 541M211 571Q216 591 235 597M211 571Q214 587 204 600M211 571Q208 554 219 539M211 571Q232 555 229 529M211 571Q212 557 210 542M211 571Q203 566 194 569M211 571Q225 569 235 558M211 571Q230 558 239 537" fill="none" stroke="#a686f0" stroke-width="0.75" stroke-opacity="0.8"/>
<path d="M225 612h0M168 589h0M205 546h0M194 569h0M239 537h0" stroke="#a686f0" stroke-width="3" stroke-linecap="round"/>
<path d="M211 571h0" stroke="#a686f0" stroke-width="4" stroke-linecap="round"/>
<path d="M175 590Q172 582 173 574M175 590Q158 591 147 604M175 590Q193 585 210 589M175 590Q160 593 147 600M175 590Q188 585 201 589M175 590Q187 595 189 607M175 590Q164 594 159 604M175 590Q170 585 162 584M175 590Q191 593 201 605M175 590Q170 599 160 601M175 590Q197 588 216 600M175 590Q168 581 157 582M175 590Q154 598 134 589M175 590Q184 596 195 599M175 590Q157 594 139 590M175 590Q185 588 195 592" fill="none" stroke="#a686f0" stroke-width="0.75" stroke-opacity="0.8"/>
<path d="M147 604h0M159 604h0M160 601h0M216 600h0M139 590h0" stroke="#a686f0" stroke-width="3" stroke-linecap="round"/>
<path d="M175 590h0" stroke="#a686f0" stroke-width="4" stroke-linecap="round"/>
<path d="M200 545Q206 555 205 566M200 545Q201 552 198 558M200 545Q198 539 193 534M200 545Q215 542 222 529M200 545Q187 550 181 563M200 545Q211 550 215 562M200 545Q193 539 184 538M200 545Q183 553 164 555M200 545Q204 537 210 530M200 545Q207 535 217 529M200 545Q190 543 180 539M200 545Q197 539 192 535M200 545Q211 535 224 529M200 545Q215 543 221 529M200 545Q220 543 237 532M200 545Q213 557 231 560" fill="none" stroke="#b090f0" stroke-width="0.75" stroke-opacity="0.8"/>
<path d="M205 566h0M193 534h0M222 529h0M181 563h0M184 538h0M164 555h0M180 539h0M237 532h0" stroke="#b090f0" stroke-width="3" stroke-linecap="round"/>
<path d="M200 545h0" stroke="#b090f0" stroke-width="4" stroke-linecap="round"/>
<path d="M150 560Q158 564 168 562M150 560Q147 564 144 567M150 560Q162 566 169 578M150 560Q155 576 171 579M150 560Q149 575 156 589M150 560Q169 567 188 561M150 560Q151 559 152 558M150 560Q146 572 145 585M150 560Q158 556 163 549M150 560Q153 559 155 556M150 560Q155 553 163 549M150 560Q149 575 139 587" fill="none" stroke="#a686f0" stroke-width="0.75" stroke-opacity="0.8"/>
<path d="M168 562h0M169 578h0M188 561h0M163 549h0" stroke="#a686f0" stroke-width="3" stroke-linecap="round"/>
<path d="M150 560h0" stroke="#a686f0" stroke-width="4" stroke-linecap="round"/>
<path d="M223 553Q208 556 203 571M223 553Q235 559 247 566M223 553Q219 543 222 532M223 553Q236 549 247 558M223 553Q219 546 211 544M223 553Q217 563 215 575M223 553Q218 541 225 529M223 553Q245 558 262 543M223 553Q225 541 225 529M223 553Q232 544 244 539M223 553Q234 557 244 553M223 553Q230 558 238 563M223 553Q230 547 231 537M223 553Q214 544 203 538" fill="none" stroke="#a0300f" stroke-width="0.75" stroke-opacity="0.8"/>
<path d="M222 532h0M215 575h0M262 543h0M225 529h0M244 539h0M244 553h0" stroke="#a0300f" stroke-width="3" stroke-linecap="round"/>
<path d="M223 553h0" stroke="#a0300f" stroke-width="4" stroke-linecap="round"/>
<path d="M253 595Q266 581 270 562M253 595Q252 605 244 610M253 595Q262 593 271 589M253 595Q247 586 240 578M253 595Q247 596 243 592M253 595Q263 595 270 603M253 595Q262 591 266 582M253 595Q268 583 287 575M253 595Q258 600 264 599M253 595Q265 595 277 593M253 595Q247 599 244 607M253 595Q252 607 259 616M253 595Q250 601 244 604M253 595Q261 605 269 615M253 595Q241 597 232 590M253 595Q244 592 234 593M253 595Q262 587 266 576M253 595Q267 604 273 619" fill="none" stroke="#a0300f" stroke-width="0.75" stroke-opacity="0.8"/>
<path d="M244 610h0M240 578h0M243 592h0M266 582h0M264 599h0M259 616h0M266 576h0" stroke="#a0300f" stroke-width="3" stroke-linecap="round"/>
<path d="M253 595h0" stroke="#a0300f" stroke-width="4" stroke-linecap="round"/>
<path d="M170 652Q167 663 163 673M170 652Q167 633 159 616M170 652Q175 643 181 635M170 652Q170 658 167 662M170 652Q158 663 148 676M170 652Q172 666 183 675M170 652Q167 647 169 641M170 652Q176 661 182 669M170 652Q161 649 157 640M170 652Q179 637 176 619M170 652Q183 666 195 681M170 652Q161 640 165 625M170 652Q166 649 161 647M170 652Q174 673 193 681M170 652Q165 661 163 671M170 652Q165 669 171 685M170 652Q174 671 168 690M170 652Q171 647 171 642" fill="none" stroke="#a0300f" stroke-width="0.75" stroke-opacity="0.8"/>
<path d="M163 673h0M148 676h0M169 641h0M195 681h0M161 647h0M193 681h0M163 671h0M171 642h0" stroke="#a0300f" stroke-width="3" stroke-linecap="round"/>
<path d="M170 652h0" stroke="#a0300f" stroke-width="4" stroke-linecap="round"/>
<path d="M212 725Q205 715 197 705M212 725Q204 732 203 742M212 725Q202 731 197 741M212 725Q215 708 230 700M212 725Q219 722 222 715M212 725Q199 730 187 737M212 725Q210 713 198 709M212 725Q214 719 211 713M212 725Q217 724 222 721M212 725Q226 710 231 690M212 725Q220 733 223 744M212 725Q205 726 200 730M212 725Q222 713 217 699M212 725Q208 720 210 715" fill="none" stroke="#a0300f" stroke-width="0.75" stroke-opacity="0.8"/>
<path d="M197 705h0M222 715h0M198 709h0M222 721h0M231 690h0M223 744h0M200 730h0M217 699h0" stroke="#a0300f" stroke-width="3" stroke-linecap="round"/>
<path d="M212 725h0" stroke="#a0300f" stroke-width="4" stroke-linecap="round"/>
<path d="M214 632Q221 635 225 642M214 632Q222 640 229 649M214 632Q208 615 197 602M214 632Q218 622 228 617M214 632Q225 613 239 596M214 632Q224 653 214 675M214 632Q220 625 226 616M214 632Q231 614 244 593M214 632Q207 607 218 584M214 632Q211 620 213 608M214 632Q194 634 174 632M214 632Q205 623 194 614M214 632Q218 641 221 650M214 632Q224 628 228 618M214 632Q208 637 200 638M214 632Q220 635 227 635M214 632Q217 626 215 619M214 632Q201 618 182 620M214 632Q219 624 218 614M214 632Q204 637 197 646M214 632Q228 651 244 670M214 632Q207 634 204 640M214 632Q217 638 215 645M214 632Q217 642 222 652M214 632Q213 643 216 654M214 632Q223 635 232 635M214 632Q225 621 241 618M214 632Q209 650 202 667M214 632Q213 649 200 661M214 632Q212 656 196 675" fill="none" stroke="#a0300f" stroke-width="0.75" stroke-opacity="0.8"/>
<path d="M226 616h0M194 614h0M228 618h0M204 640h0M215 645h0M232 635h0M241 618h0M202 667h0M200 661h0M196 675h0" stroke="#a0300f" stroke-width="3" stroke-linecap="round"/>
<path d="M214 632h0" stroke="#a0300f" stroke-width="4" stroke-linecap="round"/>
<path d="M196 582Q186 577 174 580M196 582Q199 590 206 594M196 582Q192 587 187 591M196 582Q201 595 192 605M196 582Q186 574 173 573M196 582Q186 573 172 573M196 582Q199 570 198 558M196 582Q196 576 192 571M196 582Q194 593 185 600M196 582Q179 572 161 580M196 582Q203 593 201 606M196 582Q185 568 181 550M196 582Q192 595 182 605M196 582Q194 569 195 557M196 582Q200 588 198 595M196 582Q177 578 159 583" fill="none" stroke="#d05a6a" stroke-width="0.75" stroke-opacity="0.8"/>
<path d="M187 591h0M192 605h0M173 573h0M185 600h0M161 580h0M198 595h0" stroke="#d05a6a" stroke-width="3" stroke-linecap="round"/>
<path d="M196 582h0" stroke="#d05a6a" stroke-width="4" stroke-linecap="round"/>
<path d="M190 640Q194 653 207 659M190 640Q184 634 179 627M190 640Q212 639 223 619M190 640Q191 618 210 608M190 640Q211 647 233 649M190 640Q181 633 171 637M190 640Q194 646 198 653M190 640Q201 635 209 627M190 640Q172 626 154 613M190 640Q205 635 220 643M190 640Q183 647 174 649M190 640Q208 649 225 640M190 640Q206 631 225 630M190 640Q177 620 153 615M190 640Q168 641 153 657M190 640Q170 637 151 629M190 640Q197 636 205 639M190 640Q203 635 211 623" fill="none" stroke="#d05a6a" stroke-width="0.75" stroke-opacity="0.8"/>
<path d="M179 627h0M223 619h0M210 608h0M233 649h0M171 637h0M209 627h0M154 613h0M174 649h0M225 640h0M153 657h0M151 629h0M211 623h0" stroke="#d05a6a" stroke-width="3" stroke-linecap="round"/>
<path d="M190 640h0" stroke="#d05a6a" stroke-width="4" stroke-linecap="round"/>
<path d="M230 660Q229 652 222 649M230 660Q234 669 232 678M230 660Q210 649 205 626M230 660Q229 665 226 669M230 660Q218 670 218 685M230 660Q220 671 206 675M230 660Q240 675 256 680M230 660Q220 660 209 660M230 660Q234 664 240 664M230 660Q240 647 234 633M230 660Q248 653 267 660M230 660Q211 666 192 663M230 660Q230 651 222 646M230 660Q220 662 210 663M230 660Q231 674 222 685M230 660Q247 653 264 645M230 660Q221 681 204 695M230 660Q244 658 255 667" fill="none" stroke="#d05a6a" stroke-width="0.75" stroke-opacity="0.8"/>
<path d="M256 680h0M240 664h0M267 660h0M192 663h0M222 646h0M210 663h0M222 685h0M255 667h0" stroke="#d05a6a" stroke-width="3" stroke-linecap="round"/>
<path d="M230 660h0" stroke="#d05a6a" stroke-width="4" stroke-linecap="round"/>
<path d="M240 610Q236 625 236 641M240 610Q253 603 267 605M240 610Q246 628 259 642M240 610Q246 611 251 615M240 610Q228 611 220 602M240 610Q236 621 227 630M240 610Q247 615 252 621M240 610Q237 606 236 600M240 610Q230 616 223 624M240 610Q245 599 244 586M240 610Q237 615 236 621M240 610Q235 620 230 631M240 610Q257 604 267 590M240 610Q246 618 243 627" fill="none" stroke="#c86070" stroke-width="0.75" stroke-opacity="0.8"/>
<path d="M236 641h0M251 615h0M227 630h0M223 624h0M243 627h0" stroke="#c86070" stroke-width="3" stroke-linecap="round"/>
<path d="M240 610h0" stroke="#c86070" stroke-width="4" stroke-linecap="round"/>
<path d="M193 607Q192 593 203 583M193 607Q196 600 201 595M193 607Q176 600 167 584M193 607Q187 619 184 632M193 607Q193 617 188 625M193 607Q203 603 212 598M193 607Q196 594 197 581M193 607Q196 612 201 614M193 607Q194 593 188 581M193 607Q201 607 206 613" fill="none" stroke="#20a08a" stroke-width="0.75" stroke-opacity="0.8"/>
<path d="M203 583h0M167 584h0M184 632h0M197 581h0M188 581h0" stroke="#20a08a" stroke-width="3" stroke-linecap="round"/>
<path d="M193 607h0" stroke="#20a08a" stroke-width="4" stroke-linecap="round"/>
<path d="M256 649Q268 654 279 648M256 649Q253 635 256 621M256 649Q268 647 278 640M256 649Q249 656 248 666M256 649Q264 658 271 669M256 649Q247 647 244 638M256 649Q266 655 275 663M256 649Q251 644 245 644M256 649Q257 643 258 637M256 649Q250 657 251 667" fill="none" stroke="#20a08a" stroke-width="0.75" stroke-opacity="0.8"/>
<path d="M245 644h0M258 637h0M251 667h0" stroke="#20a08a" stroke-width="3" stroke-linecap="round"/>
<path d="M256 649h0" stroke="#20a08a" stroke-width="4" stroke-linecap="round"/>
<path d="M180 690Q176 682 169 678M180 690Q189 705 206 711M180 690Q167 681 153 689M180 690Q167 703 172 721M180 690Q187 700 191 710M180 690Q197 690 208 677M180 690Q177 675 174 660M180 690Q183 684 189 681M180 690Q171 690 164 685M180 690Q176 672 164 659M180 690Q167 697 152 700M180 690Q182 671 175 653M180 690Q188 686 196 681M180 690Q188 690 193 684" fill="none" stroke="#7b7d3c" stroke-width="0.75" stroke-opacity="0.8"/>
<path d="M169 678h0M189 681h0M164 659h0" stroke="#7b7d3c" stroke-width="3" stroke-linecap="round"/>
<path d="M180 690h0" stroke="#7b7d3c" stroke-width="4" stroke-linecap="round"/>
<path d="M265 620Q256 631 255 644M265 620Q254 627 254 640M265 620Q264 625 262 631M265 620Q280 601 304 604M265 620Q271 602 280 586M265 620Q263 609 260 598M265 620Q275 610 290 609M265 620Q253 637 260 657M265 620Q246 617 236 600M265 620Q255 621 246 621M265 620Q274 606 285 593M265 620Q263 604 256 589M265 620Q251 629 236 636M265 620Q275 622 280 630M265 620Q272 633 287 638M265 620Q287 617 309 613" fill="none" stroke="#7b7d3c" stroke-width="0.75" stroke-opacity="0.8"/>
<path d="M254 640h0M262 631h0M304 604h0M236 600h0M285 593h0M280 630h0M309 613h0" stroke="#7b7d3c" stroke-width="3" stroke-linecap="round"/>
<path d="M265 620h0" stroke="#7b7d3c" stroke-width="4" stroke-linecap="round"/>
<path d="M230 590Q246 593 263 590M230 590Q243 590 250 601M230 590Q218 592 208 598M230 590Q234 606 229 623M230 590Q229 597 230 605M230 590Q218 590 212 600M230 590Q230 595 233 600M230 590Q236 583 239 573M230 590Q226 571 231 553M230 590Q245 597 258 609M230 590Q227 573 221 557M230 590Q223 591 216 591" fill="none" stroke="#7b7d3c" stroke-width="0.75" stroke-opacity="0.8"/>
<path d="M263 590h0M208 598h0M229 623h0M258 609h0M221 557h0" stroke="#7b7d3c" stroke-width="3" stroke-linecap="round"/>
<path d="M230 590h0" stroke="#7b7d3c" stroke-width="4" stroke-linecap="round"/>
<path d="M164 557Q159 558 154 556M164 557Q156 575 136 578M164 557Q162 566 157 575M164 557Q161 554 158 553M164 557Q156 565 145 565M164 557Q160 556 159 552M164 557Q163 553 160 551M164 557Q160 557 157 554" fill="none" stroke="#f08a40" stroke-width="0.75" stroke-opacity="0.8"/>
<path d="M154 556h0M157 575h0M145 565h0M160 551h0" stroke="#f08a40" stroke-width="3" stroke-linecap="round"/>
<path d="M164 557h0" stroke="#f08a40" stroke-width="4" stroke-linecap="round"/>
<path d="M145 640Q152 652 147 664M145 640Q143 650 150 658M145 640Q157 645 168 654M145 640Q151 646 158 648M145 640Q145 634 149 630M145 640Q147 649 142 656" fill="none" stroke="#222" stroke-width="0.75" stroke-opacity="0.8"/>
<path d="M147 664h0M149 630h0" stroke="#222" stroke-width="3" stroke-linecap="round"/>
<path d="M145 640h0" stroke="#222" stroke-width="4" stroke-linecap="round"/>
<path d="M152 675Q144 678 139 685M152 675Q150 681 148 687M152 675Q144 683 133 681M152 675Q136 671 130 655M152 675Q151 670 150 665M152 675Q145 680 139 686" fill="none" stroke="#222" stroke-width="0.75" stroke-opacity="0.8"/>
<path d="M148 687h0M130 655h0M150 665h0M139 686h0" stroke="#222" stroke-width="3" stroke-linecap="round"/>
<path d="M152 675h0" stroke="#222" stroke-width="4" stroke-linecap="round"/>
<path d="M131 709Q138 702 142 693M131 709Q135 705 140 702M131 709Q133 701 133 693M131 709Q140 709 148 712M131 709Q137 705 137 698" fill="none" stroke="#222" stroke-width="0.75" stroke-opacity="0.8"/>
<path d="M140 702h0M137 698h0" stroke="#222" stroke-width="3" stroke-linecap="round"/>
<path d="M131 709h0" stroke="#222" stroke-width="4" stroke-linecap="round"/>
<path d="M205 620Q211 619 218 617M205 620Q202 626 201 632M205 620Q222 621 239 626M205 620Q211 622 217 622M205 620Q210 620 215 620M205 620Q202 607 207 595M205 620Q190 621 180 633M205 620Q207 636 204 653M205 620Q209 635 203 650M205 620Q210 609 220 603" fill="none" stroke="#f0a050" stroke-width="0.75" stroke-opacity="0.8"/>
<path d="M201 632h0M204 653h0" stroke="#f0a050" stroke-width="3" stroke-linecap="round"/>
<path d="M205 620h0" stroke="#f0a050" stroke-width="4" stroke-linecap="round"/>
<circle cx="214" cy="632.2" r="9.3" fill="#a0300f"/>
<circle cx="217.7" cy="662.2" r="10.5" fill="#a283f7"/>
<circle cx="240.5" cy="652.8" r="6.0" fill="#a283f7"/>
<circle cx="184.7" cy="664.8" r="7.3" fill="#f0c4f8"/>
<circle cx="170.5" cy="652.2" r="4.5" fill="#a0300f"/>
<circle cx="253" cy="594" r="3.8" fill="#a0300f"/>
<circle cx="236.5" cy="627.4" r="2.6" fill="#a0300f"/>
<circle cx="219" cy="699.7" r="3.0" fill="#a0300f"/>
<circle cx="134.5" cy="720.6" r="3.5" fill="#ffe000"/>
<circle cx="212.5" cy="725.5" r="2.0" fill="#a0300f"/>
<circle cx="193" cy="582" r="1.8" fill="#f06080"/>
<path d="M277 506Q274 505 272 507" fill="none" stroke="#f08a40" stroke-width="1.0"/>
<path d="M277 506h0" stroke="#f08a40" stroke-width="4" stroke-linecap="round"/>
<path d="M287 504Q285 499 280 498" fill="none" stroke="#3c9a1e" stroke-width="1.0"/>
<path d="M287 504h0" stroke="#3c9a1e" stroke-width="4" stroke-linecap="round"/>
<path d="M347 548Q348 553 353 554" fill="none" stroke="#f08a40" stroke-width="1.0"/>
<path d="M347 548h0" stroke="#f08a40" stroke-width="4" stroke-linecap="round"/>
<path d="M68 686Q70 684 69 681" fill="none" stroke="#1a22b0" stroke-width="1.0"/>
<path d="M68 686h0" stroke="#1a22b0" stroke-width="4" stroke-linecap="round"/>
<path d="M384 607Q383 602 378 600" fill="none" stroke="#1a22b0" stroke-width="1.0"/>
<path d="M384 607h0" stroke="#1a22b0" stroke-width="4" stroke-linecap="round"/>
<path d="M84 722Q87 722 88 719" fill="none" stroke="#f08a40" stroke-width="1.0"/>
<path d="M84 722h0" stroke="#f08a40" stroke-width="4" stroke-linecap="round"/>
<path d="M326 672Q329 673 331 671" fill="none" stroke="#ffd000" stroke-width="1.0"/>
<path d="M326 672h0" stroke="#ffd000" stroke-width="4" stroke-linecap="round"/>
<path d="M237 797Q235 795 232 795" fill="none" stroke="#a0300f" stroke-width="1.0"/>
<path d="M237 797h0" stroke="#a0300f" stroke-width="4" stroke-linecap="round"/>
<path d="M328 757Q329 755 328 754" fill="none" stroke="#f0a020" stroke-width="1.0"/>
<path d="M328 757h0" stroke="#f0a020" stroke-width="4" stroke-linecap="round"/>
<path d="M95 666Q95 662 92 659" fill="none" stroke="#a0300f" stroke-width="1.0"/>
<path d="M95 666h0" stroke="#a0300f" stroke-width="4" stroke-linecap="round"/>
<path d="M133 521Q130 518 126 519" fill="none" stroke="#20c0e0" stroke-width="1.0"/>
<path d="M133 521h0" stroke="#20c0e0" stroke-width="4" stroke-linecap="round"/>
<path d="M115 556Q115 557 116 557" fill="none" stroke="#f08a40" stroke-width="1.0"/>
<path d="M115 556h0" stroke="#f08a40" stroke-width="4" stroke-linecap="round"/>
<path d="M367 553Q367 554 367 554" fill="none" stroke="#222" stroke-width="1.0"/>
<path d="M367 553h0" stroke="#222" stroke-width="4" stroke-linecap="round"/>
<path d="M132 543Q135 541 134 538" fill="none" stroke="#20c0e0" stroke-width="1.0"/>
<path d="M132 543h0" stroke="#20c0e0" stroke-width="4" stroke-linecap="round"/>
<path d="M110 712Q108 713 108 716" fill="none" stroke="#3c9a1e" stroke-width="1.0"/>
<path d="M110 712h0" stroke="#3c9a1e" stroke-width="4" stroke-linecap="round"/>
<path d="M648 525Q641 522 639 515M646 521Q648 526 653 526M641 520Q646 527 643 534M633 523Q643 530 638 541M655 504Q669 491 661 474M646 516Q631 523 615 524M642 517Q637 520 638 526M656 506Q665 489 651 475M658 521Q665 520 670 524M650 509Q665 503 680 506M640 520Q627 526 628 540M638 513Q646 516 652 511M660 510Q657 500 648 496M639 515Q648 521 647 533M645 523Q642 503 622 501M642 527Q636 513 626 500M649 506Q646 504 643 502M628 517Q623 517 621 521M645 512Q662 508 676 520M649 511Q651 506 647 502M660 509Q665 523 679 522M621 518Q615 518 612 513M648 509Q646 499 654 492M643 515Q652 506 665 510M665 514Q651 507 643 494M628 521Q623 520 619 522M661 522Q655 536 653 551M633 496Q633 490 628 486M642 507Q645 497 640 488M661 501Q662 506 668 507M658 510Q651 497 651 482M653 495Q652 488 659 485M647 515Q628 516 624 534M651 507Q655 501 662 501M530 606Q525 608 525 613M510 629Q519 615 530 602M522 651Q527 638 537 628M523 622Q531 608 524 593M523 639Q517 634 510 633M514 639Q526 630 540 635M547 627Q536 631 524 626M548 624Q558 633 564 646M533 630Q529 624 526 618M518 623Q521 627 522 631M499 637Q478 638 472 618M495 628Q479 623 473 607M523 618Q515 634 497 635M541 636Q548 642 547 652M521 632Q516 638 517 646M544 635Q543 617 526 608M542 633Q535 625 534 614M503 645Q518 638 534 640M540 629Q528 627 524 616M531 646Q545 649 558 656M517 655Q528 659 537 665M519 632Q533 641 544 654M518 636Q522 626 530 618M521 632Q515 638 508 635M556 635Q553 647 541 652M519 639Q521 654 510 664M514 619Q525 606 535 592M555 609Q540 603 535 589M513 663Q510 679 525 685M544 636Q543 627 539 619M511 636Q503 625 490 625M537 624Q528 635 514 638M538 638Q542 624 556 622M531 636Q532 630 536 627M518 634Q512 626 514 617M732 636Q735 633 736 628M704 673Q689 669 675 661M721 657Q731 643 733 625M712 685Q714 692 710 700M733 635Q733 640 733 646M710 684Q695 685 688 699M715 712Q724 716 731 709M736 642Q728 653 717 661M700 694Q688 690 683 677M739 683Q746 672 740 661M729 677Q720 667 706 666M755 656Q756 672 742 677M696 701Q684 698 673 694M719 648Q714 631 697 626M707 687Q696 682 684 682M714 665Q700 666 687 671M693 663Q697 664 701 664M712 668Q721 668 726 676M669 655Q661 657 657 651M684 702Q670 705 663 694M734 678Q727 682 718 683M709 663Q713 660 718 661M721 692Q709 685 707 671M718 635Q705 634 692 638M729 648Q728 662 739 668M704 674Q716 689 713 708M688 632Q702 641 707 657M715 657Q719 665 717 673M682 668Q696 659 713 656M696 688Q694 692 698 696M707 606Q711 618 713 631M699 684Q704 673 706 662M710 632Q711 617 722 608M708 665Q711 656 710 647M721 657Q715 656 709 657M715 656Q706 668 692 671M715 666Q707 672 698 667M730 662Q721 656 722 646M712 642Q729 654 722 673M727 651Q712 656 711 672M708 691Q717 679 732 674M704 675Q708 680 713 684M721 659Q723 653 725 648M717 696Q704 704 691 697M687 707Q675 702 670 690M703 670Q713 666 724 666M741 664Q747 664 752 661M740 676Q741 681 743 685M714 680Q704 683 695 687M689 643Q690 633 697 627M716 649Q705 654 704 665M710 691Q722 705 719 723M699 661Q700 640 721 635M700 678Q710 680 719 688M585 750Q568 743 571 725M552 741Q541 733 528 734M600 747Q600 754 593 758M594 755Q597 771 600 787M586 743Q600 745 614 746M566 750Q561 764 564 779M598 734Q602 725 604 716M573 751Q574 770 590 779M589 750Q595 763 586 775M589 735Q593 731 591 727M565 739Q550 728 533 735M574 754Q580 754 583 759M575 747Q563 750 555 760M588 741Q602 745 601 760M566 741Q565 750 556 754M595 729Q598 727 601 724M565 749Q575 751 584 748M549 750Q563 747 570 759M555 757Q542 764 530 771M600 732Q607 729 615 730M578 737Q572 721 555 721M561 751Q543 742 546 722M605 738Q620 736 629 723M565 744Q548 751 545 769M567 737Q557 741 558 752M584 737Q570 730 555 731M595 729Q606 731 616 735M606 738Q611 729 617 721M566 749Q570 750 574 748M576 752Q583 753 588 758M543 743Q526 741 509 738M603 744Q599 736 604 729M559 743Q558 753 548 754M601 747Q603 731 589 723M724 742Q703 737 703 715M712 752Q713 743 709 736M711 715Q714 723 716 731M738 734Q745 732 751 736M664 749Q648 747 637 760M731 721Q726 735 726 749M691 729Q704 726 716 730M717 755Q727 767 722 781M717 734Q701 731 685 738M706 729Q723 736 722 754M687 750Q685 760 694 765M767 755Q755 743 738 748M683 752Q676 748 669 748M709 749Q709 735 718 725M732 717Q737 724 737 733M725 744Q736 731 753 732M688 747Q701 748 704 760M693 716Q677 717 662 713M708 753Q712 758 719 759M703 720Q710 721 717 718M713 745Q708 738 700 736M701 725Q687 733 680 748M708 748Q700 756 704 766M691 744Q682 750 672 746M694 737Q705 740 714 748M726 728Q712 735 703 748M713 733Q710 749 723 760M714 731Q719 744 724 757M708 733Q696 743 689 758M686 738Q677 742 668 741M719 739Q735 728 733 709M712 738Q722 734 725 724M733 762Q733 754 742 752M704 753Q703 762 706 770M711 758Q697 761 689 750M715 720Q720 736 736 738M710 741Q710 757 697 767M708 755Q722 766 728 783M735 732Q734 741 727 748M699 743Q696 736 702 732M620 674Q630 668 641 675M641 641Q639 653 645 664M592 664Q593 659 599 657M591 653Q578 663 563 672M602 681Q606 697 612 713M622 657Q617 663 619 671M609 675Q602 681 596 690M583 623Q588 620 591 616M620 671Q615 666 608 667M562 674Q561 667 564 661M601 646Q607 642 605 635M564 651Q580 647 586 630M584 648Q583 656 586 663M590 659Q582 662 575 657M568 653Q559 636 540 635M567 652Q575 643 586 647M609 654Q617 659 624 655M587 671Q571 681 555 671M554 655Q544 645 552 632M603 640Q589 654 593 672M602 660Q589 669 586 685M607 665Q620 668 628 657M633 658Q638 658 641 655M589 663Q590 657 584 654M573 672Q568 671 563 670M587 667Q579 662 580 652M596 663Q606 669 612 679M590 654Q576 651 565 642M579 640Q574 657 577 675M596 655Q594 664 602 668M571 656Q579 653 586 658M622 661Q609 671 593 676M603 659Q610 668 608 679M654 720Q657 724 657 729M688 687Q698 675 711 667M666 709Q669 717 667 726M687 714Q698 725 712 717M709 731Q711 725 717 723M695 676Q691 677 688 680M668 701Q665 713 654 719M684 720Q702 718 708 735M683 669Q679 652 666 641M672 675Q660 677 653 667M657 695Q668 686 682 682M685 709Q697 718 693 732M660 701Q649 688 633 680M700 679Q693 674 684 674M663 704Q660 711 658 718M664 690Q657 696 650 701M676 707Q672 698 678 691M689 728Q678 725 668 730M691 722Q703 722 714 728M664 663Q664 658 658 657M693 678Q689 662 686 645M661 695Q663 702 659 708M712 733Q721 741 732 735M685 721Q687 713 680 709M696 692Q693 685 688 680M689 695Q688 678 699 665M697 718Q708 714 717 708M654 726Q656 735 651 742M682 702Q678 698 675 693M706 694Q699 678 692 662M687 713Q691 725 682 733M645 709Q652 709 659 706M685 697Q693 697 701 701M694 719Q692 713 687 709M662 667Q663 657 672 652M743 643Q740 639 736 634M745 695Q739 686 731 680M750 658Q737 658 723 660M772 648Q759 651 749 661M772 581Q781 568 772 555M778 657Q768 640 749 647M776 631Q768 622 757 627M757 641Q742 629 724 635M751 623Q740 625 734 616M784 636Q781 625 783 614M748 605Q756 588 745 572M756 616Q756 623 756 630M748 663Q754 679 771 679M757 639Q757 648 749 652M782 571Q777 579 785 586M725 560Q718 545 709 532M785 637Q771 638 759 645M752 639Q760 638 763 631M800 672Q813 678 814 693M758 607Q751 614 744 621M787 644Q788 623 806 616M752 591Q747 599 744 608M762 633Q759 642 761 651M760 670Q756 673 752 674M756 632Q746 617 752 601M755 663Q746 656 739 648M748 684Q752 693 762 692M738 679Q745 682 748 689M655 788Q649 788 646 794M646 781Q650 779 653 777M625 790Q613 793 601 793M645 800Q645 810 654 815M629 783Q647 781 652 763M655 794Q655 789 655 784M641 786Q640 775 650 771M661 777Q675 776 678 763M657 792Q663 792 665 798M647 792Q650 801 650 811M655 784Q650 767 663 755M647 787Q641 779 634 772M635 784Q634 775 640 768M634 706Q622 708 613 701M613 725Q609 735 601 742M641 743Q654 744 668 742M637 732Q653 735 662 721M645 745Q642 750 640 755M626 725Q623 717 627 709M634 696Q633 679 623 664M598 717Q593 725 584 730M635 738Q646 739 656 736M625 705Q630 708 630 714M650 751Q639 763 640 780M647 684Q652 682 655 678M661 707Q656 714 648 713M646 705Q653 707 653 714M667 719Q684 717 694 732M603 712Q614 700 631 699M633 753Q628 748 624 742M618 726Q608 722 598 729M607 711Q592 703 596 687M620 697Q614 681 624 667M650 727Q651 739 642 746M630 712Q629 706 635 704M588 720Q574 722 560 729M635 720Q644 712 657 713M601 739Q606 741 612 741M631 701Q629 685 634 670M644 706Q635 694 621 700M634 690Q627 693 621 688M631 727Q636 716 631 706M630 697Q626 693 621 689M636 737Q638 729 631 724M636 713Q641 713 644 717M616 750Q607 760 609 773M614 740Q626 743 636 736M615 718Q610 720 604 718M616 726Q624 729 631 724M609 712Q619 713 628 709M520 669Q527 668 533 666M523 695Q526 702 527 709M545 688Q546 691 546 696M518 673Q516 689 530 698M542 703Q549 710 557 718M547 713Q554 720 561 727M547 673Q553 673 554 679M534 706Q529 691 525 675M545 682Q524 681 517 701M565 677Q558 668 559 656M543 669Q537 656 543 643M526 697Q529 703 532 710M523 690Q522 677 528 665M553 725Q554 731 558 736M560 655Q559 650 554 649M544 712Q546 721 556 723M559 701Q565 714 576 723M531 667Q521 679 506 680M549 676Q560 690 575 697M523 699Q528 709 534 717M558 669Q564 662 570 656M544 680Q559 672 570 658M767 600Q768 606 772 611M735 595Q725 605 729 620M738 591Q728 586 720 594M731 599Q746 609 760 620M729 587Q733 592 739 592M755 592Q756 606 766 614M732 580Q726 568 732 556M746 600Q751 605 752 613M756 581Q744 578 739 567M732 584Q732 604 751 612M739 598Q754 597 757 582M751 614Q746 612 741 608M755 577Q750 577 745 578M686 623Q682 619 678 615M677 589Q669 575 680 563M713 614Q713 605 713 597M693 612Q702 600 717 606M711 604Q724 603 730 615M711 616Q711 621 707 623M728 601Q722 621 740 633M684 626Q685 621 682 616M708 599Q715 588 708 578M692 614Q703 625 716 633M719 624Q727 619 729 609M715 621Q715 612 707 607" fill="none" stroke="#efc4f8" stroke-width="0.6" stroke-opacity="0.6"/>
<path d="M648 527h0M650 520h0M665 508h0M648 525h0M667 504h0M647 506h0M665 513h0M644 510h0M661 498h0M633 509h0M645 513h0M662 510h0M681 511h0M657 522h0M646 508h0M632 508h0M651 496h0M658 529h0M662 500h0M651 508h0M636 505h0M652 530h0M660 497h0M641 516h0M626 526h0M660 510h0M651 509h0M646 521h0M634 510h0M641 520h0M633 523h0M655 504h0M664 505h0M646 516h0M642 517h0M647 522h0M641 508h0M667 522h0M649 528h0M655 492h0M655 520h0M656 522h0M656 505h0M656 506h0M642 532h0M658 521h0M634 505h0M650 509h0M640 520h0M665 500h0M638 513h0M640 526h0M660 510h0M658 536h0M649 516h0M653 516h0M658 517h0M640 506h0M661 508h0M656 521h0M658 509h0M661 520h0M657 509h0M630 492h0M625 512h0M639 515h0M645 523h0M653 512h0M660 523h0M642 506h0M636 528h0M642 527h0M642 505h0M626 515h0M671 516h0M649 506h0M628 517h0M645 512h0M649 511h0M626 500h0M652 516h0M642 526h0M660 509h0M621 518h0M648 509h0M655 530h0M663 499h0M650 512h0M639 504h0M658 503h0M650 500h0M636 493h0M625 507h0M653 532h0M655 507h0M651 519h0M643 515h0M651 524h0M656 510h0M663 528h0M665 514h0M651 511h0M660 499h0M641 504h0M628 521h0M661 522h0M633 496h0M642 507h0M661 501h0M640 518h0M658 505h0M648 512h0M643 501h0M661 515h0M646 524h0M645 511h0M661 499h0M652 528h0M640 513h0M658 510h0M665 509h0M640 519h0M653 495h0M625 512h0M647 515h0M678 498h0M649 508h0M651 507h0M658 516h0M651 501h0M496 636h0M518 634h0M503 645h0M530 606h0M519 638h0M510 629h0M522 651h0M527 628h0M523 622h0M524 652h0M542 628h0M523 639h0M516 631h0M514 639h0M539 611h0M547 627h0M548 624h0M533 630h0M518 623h0M499 637h0M495 628h0M523 618h0M541 636h0M539 650h0M540 621h0M521 632h0M544 635h0M542 633h0M537 630h0M537 623h0M525 621h0M503 645h0M533 627h0M504 628h0M491 628h0M515 637h0M510 633h0M540 629h0M546 641h0M523 633h0M528 628h0M526 631h0M531 646h0M519 634h0M517 655h0M530 638h0M519 632h0M511 623h0M518 636h0M521 632h0M556 635h0M519 639h0M554 656h0M514 619h0M526 616h0M539 628h0M513 615h0M535 632h0M555 609h0M551 616h0M546 630h0M532 632h0M535 633h0M547 637h0M485 618h0M513 621h0M518 628h0M533 655h0M513 663h0M512 633h0M552 621h0M544 636h0M511 636h0M495 630h0M538 630h0M504 638h0M522 636h0M499 617h0M527 633h0M537 624h0M538 638h0M531 636h0M518 634h0M540 636h0M521 632h0M525 634h0M498 670h0M538 636h0M515 664h0M525 649h0M714 658h0M707 640h0M738 682h0M732 636h0M738 640h0M725 644h0M699 617h0M704 673h0M724 628h0M691 677h0M711 697h0M713 679h0M712 650h0M722 688h0M708 655h0M721 657h0M708 666h0M712 685h0M715 662h0M707 660h0M733 635h0M710 684h0M715 712h0M718 708h0M721 683h0M724 650h0M685 655h0M736 642h0M700 694h0M715 709h0M703 657h0M739 683h0M729 677h0M712 684h0M755 656h0M696 701h0M731 666h0M719 648h0M718 644h0M704 735h0M707 687h0M717 607h0M682 673h0M701 676h0M703 668h0M714 665h0M693 663h0M718 637h0M727 669h0M699 640h0M711 645h0M712 668h0M669 655h0M691 664h0M713 664h0M714 682h0M684 702h0M734 678h0M739 674h0M683 617h0M735 651h0M711 686h0M700 646h0M709 663h0M719 680h0M707 701h0M711 669h0M730 691h0M731 685h0M721 692h0M718 645h0M693 689h0M694 632h0M718 635h0M693 655h0M729 648h0M709 625h0M704 674h0M686 623h0M707 677h0M700 636h0M715 648h0M716 631h0M688 632h0M738 671h0M715 657h0M683 663h0M682 668h0M720 668h0M724 700h0M745 650h0M723 647h0M696 688h0M717 675h0M726 680h0M698 681h0M707 606h0M708 678h0M725 682h0M699 684h0M715 683h0M698 696h0M710 632h0M708 642h0M708 665h0M721 657h0M694 666h0M715 656h0M715 666h0M687 727h0M728 691h0M728 659h0M715 612h0M729 649h0M730 662h0M733 658h0M712 642h0M727 651h0M727 684h0M729 670h0M720 666h0M715 670h0M723 663h0M687 672h0M707 627h0M708 691h0M723 670h0M686 711h0M714 689h0M703 689h0M707 668h0M686 691h0M704 675h0M717 703h0M721 659h0M693 670h0M718 701h0M712 655h0M717 696h0M720 641h0M713 633h0M711 691h0M702 670h0M724 663h0M723 651h0M714 706h0M687 707h0M703 670h0M717 675h0M723 676h0M741 664h0M734 638h0M684 655h0M721 681h0M708 645h0M740 676h0M714 680h0M717 702h0M689 643h0M716 681h0M726 632h0M716 649h0M710 691h0M699 661h0M699 664h0M700 678h0M737 642h0M696 613h0M698 651h0M696 660h0M543 734h0M569 740h0M585 750h0M613 750h0M616 753h0M595 745h0M617 752h0M552 741h0M600 747h0M560 744h0M594 755h0M585 745h0M586 743h0M566 750h0M598 734h0M576 739h0M559 753h0M613 746h0M592 746h0M563 751h0M588 748h0M573 751h0M598 739h0M589 750h0M589 735h0M566 741h0M564 730h0M569 757h0M565 739h0M574 752h0M595 746h0M576 741h0M570 747h0M594 728h0M566 754h0M587 751h0M574 754h0M594 751h0M595 770h0M525 730h0M609 735h0M575 747h0M588 745h0M585 734h0M588 741h0M573 735h0M580 721h0M566 741h0M595 729h0M565 749h0M600 757h0M571 749h0M591 727h0M549 750h0M564 736h0M555 757h0M600 732h0M578 737h0M563 756h0M559 749h0M576 754h0M583 757h0M569 752h0M578 757h0M583 744h0M587 739h0M572 744h0M586 753h0M561 751h0M578 731h0M578 729h0M551 736h0M575 758h0M589 749h0M539 730h0M605 738h0M565 744h0M574 743h0M550 757h0M590 739h0M590 751h0M567 737h0M584 737h0M595 729h0M584 752h0M590 740h0M586 751h0M574 744h0M594 751h0M596 746h0M606 738h0M581 748h0M566 749h0M565 745h0M551 737h0M576 752h0M610 741h0M599 743h0M577 745h0M603 742h0M543 743h0M576 748h0M606 751h0M603 744h0M586 744h0M579 752h0M559 743h0M601 747h0M533 752h0M542 742h0M743 754h0M724 742h0M708 746h0M712 752h0M686 720h0M709 754h0M725 752h0M696 721h0M686 714h0M716 749h0M711 715h0M712 739h0M699 761h0M719 735h0M725 754h0M692 740h0M716 752h0M738 734h0M713 739h0M688 707h0M664 749h0M731 721h0M691 729h0M703 733h0M727 731h0M711 710h0M712 771h0M741 737h0M744 762h0M717 755h0M717 734h0M737 748h0M708 717h0M730 747h0M706 750h0M706 729h0M685 750h0M688 742h0M687 750h0M767 755h0M683 752h0M709 749h0M737 736h0M697 757h0M698 743h0M732 717h0M757 735h0M736 740h0M748 723h0M725 744h0M688 747h0M708 721h0M741 765h0M699 729h0M693 716h0M692 744h0M708 753h0M703 720h0M713 745h0M701 725h0M724 735h0M708 748h0M691 744h0M694 737h0M667 735h0M726 728h0M669 741h0M713 733h0M740 729h0M723 734h0M709 742h0M698 719h0M734 732h0M714 731h0M704 738h0M704 735h0M701 742h0M726 706h0M676 747h0M708 733h0M695 771h0M686 738h0M692 757h0M719 739h0M714 713h0M711 760h0M707 727h0M712 738h0M733 762h0M715 738h0M710 743h0M704 753h0M705 731h0M690 748h0M700 719h0M691 715h0M717 737h0M693 751h0M711 758h0M695 754h0M713 778h0M702 752h0M689 737h0M712 745h0M715 720h0M710 741h0M687 749h0M751 783h0M727 745h0M708 755h0M711 731h0M687 760h0M735 732h0M699 743h0M686 730h0M679 769h0M705 740h0M702 769h0M712 734h0M734 731h0M620 674h0M641 641h0M628 664h0M614 651h0M592 664h0M633 647h0M591 653h0M601 640h0M612 674h0M655 673h0M625 675h0M602 681h0M620 660h0M619 689h0M578 670h0M610 646h0M622 657h0M609 675h0M583 623h0M594 613h0M607 620h0M620 671h0M562 674h0M611 609h0M601 646h0M629 679h0M564 651h0M616 632h0M584 648h0M613 634h0M609 642h0M573 664h0M595 685h0M569 644h0M605 658h0M590 659h0M568 653h0M620 632h0M614 641h0M624 679h0M580 633h0M567 652h0M609 654h0M564 656h0M587 671h0M668 645h0M640 637h0M608 657h0M585 659h0M623 646h0M554 655h0M603 640h0M602 660h0M607 665h0M633 658h0M589 663h0M617 684h0M603 638h0M549 688h0M573 672h0M611 669h0M629 667h0M617 663h0M587 667h0M582 681h0M596 663h0M590 654h0M577 667h0M621 659h0M608 650h0M566 649h0M579 640h0M594 658h0M613 659h0M620 659h0M558 656h0M579 641h0M554 636h0M596 655h0M633 676h0M571 656h0M564 671h0M594 628h0M622 661h0M603 659h0M583 644h0M588 653h0M601 647h0M622 646h0M618 673h0M654 720h0M688 687h0M666 709h0M687 714h0M709 731h0M666 683h0M695 676h0M717 703h0M653 683h0M686 683h0M669 753h0M668 701h0M666 691h0M684 720h0M673 726h0M664 664h0M683 669h0M678 685h0M672 675h0M678 700h0M656 684h0M701 711h0M657 695h0M688 700h0M685 709h0M675 709h0M664 684h0M684 683h0M660 701h0M700 679h0M663 704h0M637 712h0M651 673h0M664 690h0M676 707h0M696 705h0M676 716h0M689 728h0M704 696h0M691 722h0M684 694h0M685 718h0M664 663h0M679 692h0M670 679h0M674 701h0M681 692h0M705 713h0M693 678h0M705 703h0M661 695h0M712 733h0M684 680h0M685 721h0M655 718h0M683 685h0M696 692h0M689 695h0M697 718h0M654 726h0M682 702h0M672 720h0M694 714h0M691 716h0M669 745h0M697 725h0M669 699h0M718 678h0M703 680h0M677 675h0M653 701h0M702 728h0M700 717h0M704 710h0M706 694h0M678 733h0M687 713h0M687 741h0M697 700h0M645 709h0M697 713h0M657 699h0M656 703h0M685 718h0M680 679h0M685 697h0M694 719h0M662 667h0M680 683h0M699 695h0M746 605h0M766 617h0M743 643h0M760 646h0M745 695h0M750 658h0M760 660h0M772 648h0M780 625h0M772 581h0M764 667h0M789 630h0M756 632h0M741 642h0M762 626h0M759 668h0M766 596h0M727 655h0M772 692h0M778 657h0M776 631h0M757 641h0M735 637h0M751 623h0M748 690h0M784 636h0M766 716h0M749 661h0M748 605h0M761 643h0M781 675h0M756 616h0M748 663h0M757 639h0M782 571h0M769 650h0M757 610h0M748 679h0M735 608h0M759 644h0M725 560h0M748 610h0M756 705h0M773 644h0M753 656h0M785 637h0M752 639h0M800 672h0M758 607h0M769 622h0M787 644h0M729 645h0M764 646h0M758 592h0M779 640h0M752 591h0M770 612h0M780 634h0M762 633h0M768 646h0M760 670h0M756 632h0M726 631h0M737 680h0M761 669h0M755 663h0M763 653h0M762 633h0M748 684h0M738 679h0M655 788h0M648 785h0M682 787h0M650 794h0M652 794h0M659 782h0M646 781h0M603 778h0M646 787h0M656 797h0M625 790h0M645 800h0M629 783h0M655 794h0M679 791h0M664 793h0M628 774h0M653 775h0M641 788h0M668 782h0M641 786h0M624 788h0M648 763h0M661 777h0M624 781h0M641 794h0M620 775h0M657 792h0M644 796h0M676 782h0M636 777h0M642 777h0M656 768h0M680 778h0M647 792h0M655 784h0M667 791h0M660 774h0M647 787h0M635 784h0M647 718h0M602 722h0M634 706h0M613 725h0M641 743h0M637 732h0M623 723h0M645 745h0M617 717h0M626 725h0M634 741h0M634 696h0M659 719h0M612 737h0M579 718h0M598 717h0M620 706h0M598 707h0M649 709h0M642 708h0M635 738h0M625 705h0M650 751h0M647 684h0M624 741h0M661 707h0M616 716h0M629 702h0M646 705h0M631 671h0M667 719h0M603 712h0M628 722h0M633 753h0M631 736h0M629 715h0M618 726h0M607 711h0M620 697h0M650 727h0M630 712h0M637 738h0M660 729h0M588 720h0M635 720h0M601 739h0M631 701h0M614 717h0M633 698h0M644 706h0M623 736h0M634 690h0M631 727h0M634 720h0M618 726h0M623 720h0M631 736h0M630 697h0M636 737h0M628 711h0M636 713h0M634 707h0M616 750h0M650 715h0M623 743h0M614 740h0M617 708h0M615 718h0M651 745h0M616 726h0M626 752h0M628 724h0M620 765h0M619 714h0M608 726h0M615 704h0M638 722h0M620 711h0M627 729h0M609 712h0M520 669h0M571 676h0M538 681h0M550 699h0M523 695h0M544 682h0M546 662h0M545 688h0M518 673h0M564 684h0M556 662h0M541 700h0M521 709h0M548 665h0M542 703h0M535 694h0M547 713h0M547 673h0M545 692h0M545 687h0M534 706h0M545 682h0M565 677h0M540 685h0M551 695h0M541 728h0M535 701h0M543 669h0M560 764h0M596 692h0M526 697h0M523 690h0M584 674h0M549 701h0M553 725h0M560 655h0M544 712h0M542 670h0M543 679h0M542 653h0M559 701h0M535 697h0M548 688h0M531 667h0M548 683h0M543 715h0M549 676h0M523 668h0M523 699h0M538 666h0M558 669h0M567 666h0M538 684h0M550 680h0M564 693h0M537 690h0M544 680h0M535 680h0M570 741h0M532 697h0M763 606h0M767 600h0M723 581h0M729 570h0M733 599h0M750 595h0M745 613h0M734 608h0M735 595h0M735 595h0M738 591h0M732 575h0M732 594h0M760 597h0M731 599h0M723 598h0M736 588h0M716 598h0M729 587h0M727 570h0M755 592h0M732 580h0M737 592h0M746 600h0M736 598h0M756 581h0M752 582h0M732 584h0M731 589h0M746 568h0M741 624h0M740 610h0M760 576h0M739 598h0M750 570h0M731 604h0M730 601h0M751 614h0M740 563h0M755 577h0M709 609h0M685 621h0M682 602h0M715 602h0M686 623h0M677 589h0M703 599h0M713 614h0M702 607h0M713 601h0M681 604h0M683 599h0M694 610h0M715 597h0M705 601h0M712 607h0M701 604h0M704 615h0M695 620h0M687 611h0M707 603h0M693 606h0M693 612h0M683 615h0M712 609h0M703 612h0M706 600h0M683 598h0M688 600h0M711 604h0M711 616h0M728 601h0M684 626h0M720 597h0M708 599h0M698 621h0M692 614h0M695 620h0M719 624h0M715 621h0" stroke="#efc4f8" stroke-width="3" stroke-linecap="round"/>
<path d="M477 742h0M451 652h0M463 705h0M467 705h0M470 732h0M454 667h0M481 749h0M451 650h0M471 723h0M454 658h0M457 687h0M476 737h0M455 672h0M468 712h0M469 720h0M460 692h0M463 696h0M456 676h0M481 749h0M469 714h0M475 735h0M465 695h0M475 729h0M471 724h0M455 659h0M465 704h0M464 714h0M462 688h0M455 669h0M458 672h0M463 683h0M454 652h0M455 649h0M462 704h0M456 654h0M468 710h0M460 694h0M471 727h0M462 708h0M457 671h0M476 746h0M476 742h0M456 670h0M472 739h0M469 723h0M476 742h0M469 715h0M473 727h0M456 675h0M457 665h0M475 741h0M455 678h0M453 648h0M464 690h0M453 666h0M474 736h0M469 721h0M471 721h0M460 673h0M466 720h0M455 650h0M458 667h0M481 749h0M456 666h0M461 680h0M455 671h0M455 648h0M454 652h0M474 743h0M452 660h0M788 664h0M450 649h0M513 767h0M788 646h0M692 507h0M482 724h0M473 704h0M550 532h0M516 530h0M593 796h0M653 797h0M708 787h0M618 803h0M786 681h0M594 496h0M693 520h0M607 499h0M525 758h0M539 785h0M711 778h0M509 760h0M773 602h0M656 503h0M565 525h0M492 587h0M596 508h0M691 505h0M467 655h0M534 534h0M774 584h0M459 614h0M772 687h0M469 676h0M643 496h0M473 644h0M663 784h0M626 794h0M773 576h0M733 540h0M608 792h0M750 574h0M658 510h0M471 636h0M486 568h0M785 696h0M728 763h0M765 707h0M486 709h0M489 564h0M678 801h0M719 541h0M460 631h0M713 529h0M591 802h0M523 752h0M662 800h0M470 712h0M777 651h0M652 507h0M784 608h0" stroke="#efc4f8" stroke-width="2" stroke-linecap="round"/>
<path d="M535 624h0M512 632h0M515 635h0M512 638h0M529 637h0M523 626h0M513 631h0M516 631h0M544 610h0M525 644h0M542 625h0M525 617h0M512 632h0M523 611h0M539 626h0M526 639h0M532 622h0M507 631h0M531 628h0M539 641h0M531 615h0M532 627h0M530 630h0M548 619h0M519 626h0M533 625h0M550 634h0M528 628h0M568 627h0M525 614h0M535 642h0M513 635h0M522 626h0M523 635h0M524 639h0M523 639h0M539 634h0M514 618h0M513 634h0M534 635h0M530 620h0M529 633h0M526 640h0M534 637h0M527 632h0M546 633h0M539 631h0M520 628h0M504 640h0M527 624h0M545 616h0M512 621h0M529 634h0M534 630h0M529 629h0M524 623h0M498 613h0M516 640h0M515 622h0M516 638h0M518 613h0M530 619h0M545 633h0M526 617h0M523 631h0M530 646h0M531 657h0M514 630h0M499 622h0M532 638h0M514 641h0M530 651h0M535 631h0M505 637h0M529 636h0M518 641h0M515 622h0M515 628h0M515 637h0M531 633h0M525 636h0M511 624h0M528 640h0M532 637h0M529 640h0M533 627h0M511 634h0M508 624h0M536 639h0M514 637h0M537 614h0M527 638h0M532 654h0M530 626h0M540 646h0M499 641h0M542 625h0M511 631h0M536 638h0M505 641h0M514 630h0M523 632h0M533 623h0M533 627h0M509 629h0M529 625h0M527 648h0M549 626h0M545 633h0M526 632h0" stroke="#f2d0f8" stroke-width="3" stroke-linecap="round"/>
<path d="M636 577Q630 595 643 609M583 576Q564 603 531 598M588 583Q573 607 589 630M604 591Q601 626 567 636M614 598Q609 620 596 638M598 565Q584 600 577 637M614 588Q609 627 631 661M604 568Q616 605 611 643M626 558Q626 584 616 608M633 586Q596 601 579 638M612 567Q583 571 568 596M602 599Q583 634 577 673M615 594Q566 587 534 624M611 584Q606 616 621 646M600 571Q593 591 578 608M592 588Q595 608 583 624M595 559Q573 600 526 604M602 591Q582 611 577 639M613 551Q588 556 583 581M592 590Q577 631 538 651M612 585Q587 610 587 645M598 595Q582 623 598 652M596 578Q578 613 594 650M616 567Q590 601 567 636M619 583Q604 603 579 607M596 585Q562 587 544 616M611 576Q575 594 536 605M636 572Q615 592 598 615M585 572Q575 591 569 612M597 565Q589 590 563 595M605 562Q572 592 528 592M627 568Q645 596 639 628M642 574Q630 589 634 607M619 584Q619 621 600 653M613 553Q594 572 588 598M608 599Q588 615 568 631M615 572Q612 591 602 608M608 582Q595 609 569 624M588 560Q560 582 546 614M629 589Q622 618 595 629M628 595Q616 618 606 642M607 583Q589 604 590 632M638 563Q644 581 634 597M630 586Q612 590 598 603M594 567Q563 585 529 598M606 582Q607 606 587 620M620 554Q602 567 580 574M641 577Q613 581 598 606M594 570Q577 584 573 605M604 580Q580 591 555 598M613 564Q609 614 563 634M610 581Q595 614 574 643M596 584Q593 604 603 621M604 563Q569 590 526 604M616 595Q577 603 568 642M618 568Q599 597 564 598M628 568Q609 582 589 592M625 594Q630 624 625 654M602 592Q596 612 589 632M623 594Q604 637 636 671M583 575Q573 602 591 624M623 589Q611 631 581 662M636 561Q638 587 625 610M620 554Q616 580 612 606M595 591Q543 579 511 621M631 583Q617 603 593 604M614 577Q610 604 593 625M627 588Q601 592 578 605M591 557Q575 596 538 615M598 578Q579 593 585 616M603 577Q596 607 591 638M637 581Q619 610 587 620M583 574Q592 602 593 631M593 580Q588 604 594 627M616 552Q586 563 561 583M605 594Q582 613 553 621M637 570Q614 584 592 602M625 581Q617 610 594 629M616 570Q600 604 604 642M612 556Q585 592 544 609M594 594Q589 613 588 633M634 589Q631 624 643 657M615 594Q589 616 555 615M632 583Q613 621 583 650M582 578Q547 595 510 608M605 579Q595 595 579 606M588 565Q585 597 599 625M628 575Q611 584 610 604M604 597Q573 631 528 631M628 595Q629 634 614 669M627 557Q625 590 607 617M608 567Q584 582 562 598M586 565Q583 598 594 630M612 573Q618 613 602 649M600 597Q571 629 532 647M617 577Q636 610 625 646M614 551Q616 572 624 591M584 566Q594 613 556 642M604 595Q577 626 536 626M585 581Q574 609 545 618M610 584Q629 615 609 646M602 591Q612 608 599 624M618 568Q599 594 576 617M604 594Q568 608 542 637M629 572Q617 587 599 593M604 555Q579 590 561 628M604 599Q605 636 583 666M606 584Q579 596 561 618M585 568Q572 585 563 605M606 578Q582 581 568 600M629 561Q623 590 594 597M604 586Q558 596 520 623M611 596Q596 637 563 664M593 594Q582 616 570 638M628 569Q618 607 641 640M612 551Q612 579 591 599M621 585Q620 612 595 622M605 574Q604 595 587 607M636 587Q623 612 599 628M603 591Q600 610 591 626M618 575Q620 601 616 627M596 553Q594 583 607 609M594 571Q584 603 550 606M621 557Q600 578 610 606M621 595Q598 633 626 667M585 581Q549 591 520 615M633 571Q644 595 638 620M614 554Q584 572 579 607M587 568Q552 583 538 618M594 559Q559 577 564 615M599 570Q566 586 563 624M620 600Q575 603 555 642M584 572Q584 597 580 621M611 583Q586 610 551 613M597 584Q580 600 588 621M614 550Q618 574 615 598M590 567Q607 598 587 626M608 565Q588 570 583 590M629 566Q609 590 601 620M603 572Q573 578 555 602M612 552Q608 575 587 584M623 566Q618 582 608 595M611 574Q580 580 566 607M595 580Q582 615 587 652M615 561Q603 573 595 588M592 574Q555 577 536 609M632 577Q599 607 579 646M594 574Q560 576 544 606M622 553Q645 579 629 610M632 579Q627 596 612 606M629 561Q608 591 595 625M639 575Q615 599 610 633M611 599Q586 597 569 617M594 572Q564 571 547 596M610 590Q577 621 532 628M628 576Q607 612 620 651M593 588Q556 612 526 644M593 593Q578 620 588 649M621 553Q579 563 560 601M628 567Q636 595 630 624M593 570Q555 596 510 608M634 563Q597 595 550 605M607 554Q622 583 611 613M600 552Q588 569 577 586M608 572Q589 601 573 632M631 584Q636 627 604 657M636 573Q612 588 589 603M618 575Q614 612 629 647M598 575Q611 613 582 640M641 577Q662 596 653 623M630 570Q600 573 575 590M623 592Q613 613 594 625M605 575Q572 584 548 609M607 582Q605 616 608 650M618 594Q601 606 589 624M625 552Q585 570 545 587M623 574Q594 606 553 620M630 559Q642 576 637 595M626 582Q590 573 569 603M583 578Q565 607 575 640M625 596Q616 635 643 665M617 580Q617 603 610 625M618 558Q617 584 596 598M639 566Q633 594 608 608M619 576Q645 611 634 652M587 568Q545 579 512 607M611 553Q583 565 581 595M634 580Q611 617 630 656M597 575Q575 607 594 640M610 583Q605 603 610 623M592 575Q570 619 521 631M598 561Q572 582 540 586M585 566Q545 574 509 595M612 583Q614 616 625 648M588 561Q573 581 547 581M595 595Q595 622 572 637M607 572Q601 598 586 618M636 561Q608 590 586 623M615 581Q593 614 554 606M601 562Q622 592 601 623M607 569Q599 590 584 607M598 554Q577 577 549 592M614 583Q596 616 565 637M608 578Q625 606 605 632M596 589Q597 627 589 664M626 596Q609 636 567 647M607 555Q619 584 600 611M606 584Q607 603 590 613M591 573Q569 607 575 648M613 576Q607 591 606 608M612 583Q590 607 571 633M624 556Q626 585 623 613M600 557Q612 589 595 619M597 574Q623 610 617 653M601 573Q583 604 561 632M598 582Q569 611 563 651M619 597Q573 603 547 642M623 556Q617 578 597 590M607 587Q598 625 563 642M595 579Q572 618 528 629M609 592Q605 635 629 671M629 554Q614 571 617 594M604 569Q560 584 517 605M612 594Q583 615 572 648M625 577Q635 609 642 642M633 571Q613 606 602 645M616 581Q575 586 547 617M585 585Q552 611 518 635M617 573Q629 593 622 615M585 582Q562 598 546 620M620 580Q621 610 595 625M637 581Q626 613 592 619M620 560Q579 561 557 596M621 557Q607 578 589 596M611 591Q577 615 536 620M608 571Q577 578 569 608M624 598Q595 628 601 669M590 590Q565 605 557 633M624 584Q595 610 604 649M630 586Q609 588 597 606M618 570Q596 595 604 628M632 585Q639 617 614 637M603 582Q607 624 572 647M605 578Q570 590 549 620M588 570Q573 582 574 602M638 569Q602 589 584 626M625 593Q609 614 595 637M616 600Q592 607 583 631M622 594Q610 616 603 641M615 575Q588 578 573 600M590 584Q589 617 576 648M612 599Q621 630 609 659M630 595Q630 620 614 639M627 579Q616 596 599 607M608 581Q572 591 550 621M591 582Q591 614 588 646M629 594Q624 624 594 630M614 552Q590 587 602 627M605 593Q585 626 593 664M600 589Q563 586 539 615M617 549Q620 581 612 612M586 584Q594 625 562 652M609 558Q592 597 556 621M611 559Q601 580 577 583M592 593Q564 621 551 658M616 586Q613 610 590 617M626 566Q644 593 640 625M606 553Q586 588 595 628M620 574Q625 610 613 644M611 566Q585 592 549 592M592 594Q542 589 506 624M626 564Q595 574 587 605M593 564Q574 577 564 598M619 596Q616 626 607 655M601 593Q580 607 573 630M604 575Q589 604 575 633M592 578Q576 596 571 619M616 559Q584 568 562 594M620 582Q593 613 591 654M607 556Q601 572 591 585M583 578Q539 591 532 636M616 560Q625 580 622 602M606 590Q597 609 577 612M616 592Q638 618 631 651M600 565Q579 605 542 631M630 557Q603 572 601 602M599 553Q606 570 595 584M590 589Q600 622 599 655M636 565Q661 600 646 641M601 590Q584 619 550 621M641 569Q622 579 602 586M626 559Q613 585 597 609M629 566Q624 585 607 594M618 578Q611 602 600 626M631 566Q598 579 593 614M622 552Q607 570 595 589M615 556Q621 588 597 610M613 565Q592 579 586 603M612 557Q586 562 575 585M595 569Q627 603 614 648" fill="none" stroke="#a0b474" stroke-width="0.5" stroke-opacity="0.38"/>
<path d="M634 595Q638 608 638 622M601 581Q595 599 597 618M637 596Q636 620 644 642M586 591Q580 602 579 615M629 579Q628 592 629 604M611 583Q606 607 601 631M623 603Q629 627 621 651M614 580Q614 595 620 608M589 583Q588 595 592 605M595 596Q592 621 600 645M619 584Q618 605 621 625M629 593Q624 613 618 632M597 584Q592 600 594 616M622 598Q616 617 611 636M618 577Q616 589 619 600M626 593Q629 605 626 617M624 602Q620 621 611 638M601 596Q593 622 583 646M586 589Q585 601 580 613M592 595Q598 619 589 643M644 587Q640 605 633 622M631 588Q635 599 633 611M622 589Q621 615 609 637M602 583Q601 595 603 607M587 586Q589 608 584 629M616 583Q615 594 621 604M630 598Q625 621 621 645M638 599Q635 613 634 628M629 600Q626 618 626 636M634 589Q628 604 625 620M610 580Q608 595 611 609M597 590Q601 605 598 620M609 585Q602 600 600 617M619 591Q618 604 614 616M607 589Q607 605 605 621M618 597Q620 608 622 619M604 586Q600 600 604 615M601 599Q602 621 611 641M598 591Q586 612 579 636M641 597Q635 619 638 641M607 585Q618 611 618 638M628 593Q629 615 618 634M640 597Q629 618 630 641M613 593Q607 608 610 624M605 581Q606 607 594 631M627 599Q623 618 617 637M625 602Q622 621 622 639M633 600Q629 623 625 646M622 579Q615 596 615 615M613 599Q613 614 609 628M642 584Q637 601 639 619M630 583Q622 599 619 617M639 594Q640 608 637 621M592 590Q588 600 589 611M644 589Q635 614 626 639M618 579Q615 590 608 599M603 598Q606 619 598 638M613 580Q609 589 606 599M587 588Q582 606 585 624M597 586Q598 600 595 614M596 580Q594 592 587 602M624 593Q615 609 612 626M593 592Q598 616 591 641M633 594Q639 610 637 626M627 587Q625 603 625 619M618 595Q606 620 599 646M626 597Q626 614 634 628M624 594Q621 612 618 630M627 594Q633 606 632 619M594 597Q589 609 588 621M634 583Q632 603 640 621M633 580Q636 601 643 620M620 589Q619 600 619 610M613 590Q613 603 606 614M616 602Q615 616 609 630M609 577Q604 601 594 624M605 587Q608 609 598 630M635 599Q635 616 638 632M612 580Q610 591 604 601M602 596Q602 618 610 639M597 579Q600 604 604 629M604 603Q606 629 606 656M620 594Q620 613 621 631M588 584Q582 601 580 619M625 595Q629 621 639 646M620 598Q613 619 616 640M594 596Q598 607 596 619M602 603Q602 629 593 654M588 596Q585 621 572 641M588 596Q589 610 591 625M606 582Q602 604 591 624M627 596Q633 613 636 630M627 587Q621 603 614 619M597 579Q591 596 586 614M626 591Q626 618 627 645M604 601Q602 628 610 654M594 582Q592 595 586 607M632 596Q630 613 624 630M614 577Q616 587 618 597M601 603Q598 626 598 650M636 594Q637 614 645 633M604 590Q603 617 608 643M638 586Q646 611 642 638M603 586Q595 602 597 620M624 601Q629 626 625 652M633 600Q642 623 645 648M589 596Q587 622 594 647M605 598Q596 623 592 650M630 598Q629 610 631 621M625 588Q632 614 636 641M619 579Q618 592 610 602M627 589Q620 610 618 632M630 601Q630 618 633 636M606 586Q603 602 593 615M623 594Q619 622 604 646M618 599Q616 612 617 625M632 580Q639 602 634 625M631 595Q630 613 634 630M595 591Q599 612 600 633M593 588Q595 609 587 629" fill="none" stroke="#80c030" stroke-width="0.6" stroke-opacity="0.4"/>
<path d="M585 592Q580 619 593 642M577 580Q573 603 586 622M621 577Q614 604 620 632M600 570Q599 595 607 618M589 577Q590 595 601 609M615 573Q629 598 626 627M600 578Q582 601 567 625M591 598Q586 613 575 624M593 589Q585 601 587 615M586 577Q590 597 582 615M616 591Q624 610 618 631M576 581Q568 590 563 602M612 572Q617 586 616 602M594 589Q588 615 598 640M596 575Q595 601 589 626M605 590Q602 609 589 624M590 584Q591 607 588 630M591 573Q595 593 606 610M610 583Q620 605 622 629M596 587Q595 605 603 621M577 585Q573 611 572 637M609 580Q600 592 601 607M586 593Q590 611 583 628M614 591Q614 604 614 617M610 595Q606 613 592 625M611 580Q597 595 591 614M611 595Q604 612 594 627M587 587Q581 601 580 616M589 574Q589 587 593 600M618 586Q619 611 613 635M600 582Q615 608 620 637M587 579Q580 605 559 623M617 587Q618 616 622 645M617 591Q619 617 633 638M588 590Q581 602 580 616M599 581Q594 609 586 635M595 593Q600 616 593 638M580 587Q575 614 557 635M605 581Q604 612 593 639M580 577Q568 599 571 623M596 594Q589 614 592 635M604 577Q604 594 595 608M590 577Q588 595 582 613M599 575Q602 605 594 633M615 576Q615 589 618 602M578 583Q572 599 572 616M594 595Q585 605 582 618M595 571Q597 587 603 601M598 570Q596 590 592 609M587 587Q577 614 575 643M603 588Q598 611 585 631M609 578Q607 603 618 625M591 576Q581 586 577 599M608 590Q603 602 598 614M582 575Q572 597 555 616M585 594Q585 609 588 623M581 587Q580 607 591 623M590 586Q582 597 579 609M593 578Q593 593 601 606M586 594Q589 617 583 640" fill="none" stroke="#78c020" stroke-width="0.6" stroke-opacity="0.45"/>
<path d="M646 544Q666 539 685 530M635 568Q666 572 696 581M643 561Q666 556 688 549M644 559Q668 561 686 543M642 555Q663 552 683 558M644 575Q673 581 702 584M645 555Q670 560 691 547M649 548Q684 540 717 554M654 571Q681 565 703 583M640 545Q664 549 682 532M645 569Q675 558 707 557M653 565Q689 554 722 537M654 561Q686 559 717 567M651 559Q680 566 705 550M649 544Q679 549 706 534M637 565Q663 548 693 555M646 562Q671 558 695 547M634 556Q656 559 677 559M642 556Q666 550 686 564M652 566Q679 568 705 577M637 563Q665 552 696 552M653 550Q683 558 712 547M644 543Q666 538 687 528M640 546Q668 536 697 529M653 573Q688 578 712 551M646 553Q681 569 714 549M648 544Q680 544 712 546M642 563Q662 559 681 556M651 570Q679 574 697 552M638 555Q674 565 708 550M638 563Q656 552 676 549M639 547Q671 570 708 558M650 545Q687 547 722 557M640 569Q673 551 708 564M635 560Q669 583 707 567M649 576Q670 556 697 565M640 576Q674 563 705 580M654 549Q689 540 721 556M636 548Q665 520 705 522M637 552Q663 540 691 541M651 562Q674 567 693 554M648 544Q685 538 719 553M642 548Q671 543 699 551M639 554Q667 554 693 546M649 563Q672 554 696 549M639 573Q668 571 696 582M640 547Q673 533 705 550M638 569Q670 566 703 563M655 552Q678 538 703 548M639 573Q663 579 682 563M646 556Q677 559 706 549M644 567Q675 580 709 574M646 575Q685 578 714 550M643 545Q678 560 716 557M638 561Q674 560 706 576M654 552Q673 535 698 542M657 557Q681 551 705 556M642 569Q670 563 692 582M636 551Q672 545 700 568M644 546Q672 547 700 553M653 557Q673 547 694 554M641 544Q667 548 693 542M645 557Q683 544 711 572M657 560Q691 550 726 553M650 561Q680 544 715 539M654 555Q675 547 698 543M641 545Q670 545 697 553M637 572Q657 575 678 577M637 555Q656 528 689 533M648 564Q671 567 693 568" fill="none" stroke="#c0b498" stroke-width="0.5" stroke-opacity="0.45"/>
<path d="M622 646Q629 673 639 700M620 641Q630 648 641 651M636 655Q622 640 626 621M630 644Q654 630 657 603M628 651Q615 659 602 668M670 630Q686 654 712 666M641 650Q621 632 595 636M613 645Q595 671 609 700M619 638Q608 658 617 679M654 648Q684 643 701 668M634 633Q610 638 595 619M628 644Q617 669 592 679M628 655Q632 637 622 622M625 667Q608 672 602 689M630 636Q626 647 625 660M626 645Q628 623 636 603M645 645Q631 666 606 673M620 640Q606 662 580 671M660 660Q634 662 621 684M583 653Q590 634 598 615M621 657Q641 671 663 661M590 648Q559 639 547 608M618 644Q597 624 601 596M633 649Q657 656 675 674M632 658Q647 666 661 655M625 657Q639 679 632 704M635 657Q652 672 655 694M660 652Q642 663 622 658M630 644Q644 649 652 661M614 641Q627 634 636 623M631 652Q621 682 590 690M685 650Q670 648 655 644M590 650Q592 632 602 617M611 637Q641 619 669 638M646 669Q654 654 671 655M623 649Q644 670 639 700M602 656Q581 654 570 672M640 658Q645 678 658 693M642 656Q621 642 598 631M640 643Q643 631 655 628M632 645Q644 640 656 638M651 646Q663 666 657 689M623 648Q593 644 573 666M635 666Q608 666 587 683M647 635Q670 620 676 593M638 650Q614 652 589 652M602 663Q595 646 594 627M632 657Q618 639 601 623M642 653Q630 642 625 626M641 658Q631 666 633 679M611 646Q621 639 626 627M638 635Q641 655 636 674M630 661Q631 688 654 702M606 651Q604 640 605 630M628 647Q643 661 636 681M627 657Q649 646 673 643M644 648Q624 663 614 685M645 656Q648 635 646 614M666 661Q662 691 685 711M647 644Q636 651 639 663M642 643Q661 646 669 663M659 652Q646 628 644 600M627 646Q614 640 601 634M653 646Q665 643 673 634M637 650Q652 664 662 681M625 647Q630 636 637 627M641 661Q643 680 630 691M696 652Q702 685 733 694M625 648Q595 632 566 650M630 650Q635 639 641 629M638 666Q640 685 658 690M634 629Q624 623 624 611M634 663Q633 651 642 641M600 641Q578 646 557 635M639 644Q621 635 623 614M646 650Q633 654 620 651M637 646Q671 650 685 681M649 643Q669 643 689 638M631 651Q615 657 611 673M628 668Q622 660 613 654M619 657Q599 670 578 658M640 646Q619 628 594 618M640 649Q651 667 666 682M596 668Q594 685 585 700M612 648Q601 664 601 683M622 645Q635 645 648 641M598 653Q599 627 579 609M644 649Q672 651 682 676M653 643Q668 673 651 701M627 631Q636 647 626 663M626 650Q650 633 680 634M662 644Q673 636 685 630M656 664Q642 682 649 703M642 660Q665 673 689 661M629 647Q656 644 681 653M615 649Q616 677 592 691M635 636Q632 625 620 622M614 646Q631 664 635 688M618 636Q608 663 581 673M638 645Q615 663 622 692M623 661Q610 642 586 646M641 648Q647 631 651 614M609 658Q607 669 601 677M639 639Q632 614 628 588M656 672Q677 657 677 631M649 656Q668 638 693 642M669 651Q643 636 613 629M633 645Q660 648 686 650M631 631Q641 637 652 642M614 659Q633 649 631 628" fill="none" stroke="#80b0d0" stroke-width="0.5" stroke-opacity="0.35"/>
<ellipse cx="612" cy="566" rx="31" ry="27" fill="#7cc014"/>
<ellipse cx="603" cy="585" rx="20" ry="16" fill="#7cc014"/>
<ellipse cx="632" cy="585" rx="14" ry="12" fill="#7cc014"/>
<path d="M599 537L619 554M622 590L650 569M617 589L608 589M633 557L632 581M592 588L591 576M614 563L651 565M621 546L578 569M612 591L589 577M647 552L627 548M579 576L647 593M636 578L597 605M583 569L606 549M627 578L600 568M637 560L581 556M635 574L645 557M587 594L612 552M643 590L637 596M611 544L628 603M639 573L614 536M642 583L647 560M606 542L654 570M617 563L604 557M596 584L633 602M579 576L632 547M593 579L619 593M605 581L621 552M631 542L638 591M606 606L629 558M622 568L635 581M631 565L619 547M623 559L615 550M635 565L601 552M622 585L618 570M631 539L629 548M621 579L600 547M613 536L644 565M586 548L632 554M621 583L641 553M644 586L633 568M579 562L641 586M649 566L584 567M636 595L604 572M622 540L619 558M602 568L611 587M586 596L652 582M609 600L627 550M642 594L597 597M612 552L637 597M598 568L644 569M607 587L650 560M619 542L622 566M592 567L603 563M585 563L586 563M583 587L629 562M608 566L624 568M642 588L646 579M589 600L622 602M634 577L600 563M593 588L632 537M620 587L602 554M642 589L620 572M617 591L639 561M620 569L640 563M612 569L608 534M622 534L616 535M611 610L604 548M630 586L619 592M593 556L631 537M624 538L595 567M618 586L641 594M637 560L611 577M591 594L605 557M642 562L633 550M613 604L604 541M651 587L647 588M630 571L605 553M595 605L610 576M618 590L608 596M622 583L586 593M580 565L630 553M622 607L602 593M630 590L612 568M631 567L622 535M622 594L608 586M615 540L602 560M644 578L606 593M621 547L653 578M599 580L595 562M618 568L589 595M647 581L643 553M644 546L594 597M639 573L598 559M624 559L618 588M622 569L627 535M607 578L637 575M632 567L612 600M634 598L591 596M611 580L642 570M641 551L648 556M590 565L632 574M624 598L597 591M636 595L590 586M612 560L608 596M597 578L648 564M601 601L622 580M617 551L617 564M605 579L647 586M625 595L617 572M638 594L597 566M591 590L642 559M603 584L609 608M584 574L606 562M591 543L604 547M617 569L635 590M639 604L589 570M635 571L636 576M600 551L627 604M625 573L596 584M645 584L626 544M601 576L605 576M639 567L620 561M580 556L614 576M626 546L599 548M655 574L642 551M628 544L589 589M594 580L627 572M622 609L591 570M597 595L638 559M604 593L600 588M625 581L582 568M617 610L639 549M578 568L578 582M620 596L621 544M611 602L613 545M647 573L612 563M592 582L592 566M584 581L611 541M619 565L610 589M631 544L637 572M615 609L627 590M617 537L590 598M594 603L634 556M609 555L603 607M627 573L592 591M624 563L592 586M611 567L579 576M589 548L590 548M579 566L636 597M604 541L592 552M598 540L631 594M621 578L592 589M607 582L605 604M581 573L589 599M587 584L645 567M588 544L646 567M607 602L606 571M642 550L624 557M610 554L646 562M602 596L584 565M588 548L580 575M650 554L641 583M632 558L630 601M607 549L614 555M624 559L605 535M588 591L641 572M612 589L639 578M599 549L602 584M581 586L590 589M651 572L640 603M600 575L606 537M616 563L619 560M627 551L615 597M630 598L589 555M638 556L603 570M592 600L605 565M632 559L632 584M617 605L632 559M608 594L593 592M594 560L624 565M595 588L612 579M583 591L592 596M629 576L613 536M607 569L602 586M626 564L608 585M601 590L642 574M626 535L620 549M617 575L623 584M633 583L633 554M609 592L592 600M611 549L589 599M642 578L620 601M622 607L600 585M581 574L595 579M602 586L602 547M593 558L643 598M598 583L629 540M588 582L638 577M621 553L637 585M603 560L596 547M601 559L629 588M649 570L623 592M577 579L650 558M634 544L583 578M645 590L632 542M604 576L621 570M596 582L596 598M614 545L620 547M607 539L585 565M583 594L629 538M649 566L613 607M602 557L606 570M598 553L602 588M627 591L619 593M596 599L611 590M647 595L598 553M654 571L616 539M639 546L593 559M619 547L609 580M643 544L641 599M629 537L650 574M594 559L615 550M601 584L592 561M645 569L622 572M620 587L617 579M625 593L632 588M606 591L631 583M622 581L597 576M604 600L642 552M618 547L641 569M643 583L645 562M618 599L607 540M620 596L600 545M640 600L593 584M586 579L623 609M630 541L601 536M604 601L589 547M630 555L625 587M641 564L587 561M620 590L597 579M642 587L596 604M595 605L626 589M642 571L634 607M582 562L580 558" fill="none" stroke="#7cc014" stroke-width="0.4" stroke-opacity="0.5"/>
<path d="M622 590h0M633 557h0M592 588h0M614 563h0M604 576h0M645 597h0M617 598h0M615 565h0M612 538h0M603 596h0M637 558h0M643 590h0M602 559h0M636 543h0M599 560h0M600 539h0M611 544h0M639 573h0M617 599h0M611 564h0M593 588h0M600 555h0M631 586h0M598 539h0M584 569h0M609 580h0M643 574h0M619 592h0M607 582h0M622 585h0M631 539h0M613 536h0M586 548h0M644 586h0M579 562h0M622 540h0M586 596h0M650 559h0M603 537h0M642 594h0M607 587h0M644 596h0M585 592h0M634 577h0M593 588h0M620 587h0M642 589h0M608 606h0M633 574h0M642 584h0M592 563h0M622 534h0M630 586h0M593 556h0M626 547h0M633 551h0M635 544h0M622 565h0M618 542h0M637 560h0M591 594h0M600 552h0M613 604h0M584 553h0M621 578h0M618 590h0M640 580h0M601 536h0M620 605h0M630 540h0M620 549h0M630 590h0M644 578h0M647 581h0M645 563h0M644 546h0M622 569h0M632 567h0M611 580h0M641 551h0M612 560h0M624 577h0M591 590h0M603 584h0M640 571h0M606 598h0M635 571h0M597 559h0M645 584h0M632 581h0M639 567h0M580 556h0M626 560h0M627 552h0M628 544h0M617 610h0M620 596h0M620 585h0M599 567h0M608 542h0M619 565h0M618 575h0M628 608h0M595 590h0M596 594h0M631 544h0M617 537h0M613 594h0M606 597h0M594 603h0M648 588h0M627 573h0M628 576h0M598 540h0M582 582h0M621 578h0M581 573h0M642 550h0M610 554h0M650 554h0M632 558h0M602 568h0M607 549h0M605 556h0M624 559h0M596 597h0M617 575h0M602 553h0M632 559h0M617 605h0M638 591h0M608 594h0M637 597h0M583 591h0M601 590h0M614 543h0M621 566h0M611 549h0M592 549h0M604 557h0M625 542h0M632 539h0M633 539h0M636 546h0M581 574h0M593 558h0M586 547h0M645 567h0M605 598h0M636 539h0M621 553h0M603 560h0M601 559h0M649 570h0M577 579h0M617 591h0M641 592h0M645 590h0M599 602h0M607 539h0M583 594h0M649 566h0M598 553h0M610 554h0M654 571h0M643 544h0M649 576h0M601 584h0M645 569h0M614 570h0M618 547h0M640 600h0M630 541h0M604 601h0M620 585h0M641 564h0M597 597h0M597 566h0M582 562h0M621 561h0" stroke="#78be10" stroke-width="2" stroke-linecap="round"/>
<path d="M599 537h0M617 589h0M597 548h0M618 546h0M651 574h0M621 546h0M595 586h0M615 604h0M579 576h0M603 562h0M636 578h0M588 580h0M627 578h0M635 574h0M587 594h0M597 570h0M611 552h0M642 583h0M613 556h0M614 574h0M606 542h0M608 575h0M596 584h0M605 559h0M645 568h0M617 561h0M579 576h0M631 542h0M603 557h0M621 575h0M623 609h0M606 606h0M623 559h0M621 579h0M650 564h0M632 556h0M591 573h0M597 540h0M602 568h0M589 591h0M612 554h0M612 552h0M598 568h0M619 542h0M648 569h0M590 543h0M592 567h0M637 576h0M583 587h0M649 575h0M609 584h0M642 588h0M617 544h0M626 539h0M609 590h0M598 574h0M612 569h0M611 610h0M650 573h0M587 580h0M624 538h0M591 562h0M647 582h0M623 561h0M595 554h0M631 547h0M604 567h0M626 536h0M630 571h0M631 606h0M622 607h0M614 567h0M623 536h0M623 581h0M621 547h0M599 580h0M591 571h0M586 581h0M624 559h0M597 573h0M637 604h0M626 560h0M615 554h0M590 565h0M602 588h0M597 578h0M601 601h0M617 551h0M639 601h0M605 579h0M625 595h0M649 589h0M617 569h0M600 551h0M630 562h0M614 589h0M603 568h0M626 546h0M615 568h0M655 574h0M622 609h0M597 595h0M640 561h0M625 581h0M609 587h0M623 560h0M611 602h0M647 573h0M638 567h0M635 601h0M617 564h0M584 581h0M615 545h0M608 573h0M579 566h0M594 601h0M604 541h0M611 549h0M612 589h0M631 558h0M603 563h0M605 566h0M581 586h0M651 572h0M600 575h0M616 563h0M584 576h0M627 551h0M638 556h0M592 600h0M654 566h0M634 570h0M603 537h0M612 574h0M617 592h0M594 560h0M595 588h0M607 569h0M626 564h0M626 535h0M643 550h0M647 566h0M622 607h0M626 604h0M602 586h0M650 591h0M619 609h0M598 583h0M649 557h0M582 583h0M647 562h0M619 543h0M634 544h0M614 545h0M630 598h0M595 542h0M602 557h0M627 591h0M632 594h0M612 557h0M639 546h0M629 537h0M620 587h0M606 591h0M622 581h0M604 600h0M618 599h0M583 578h0M617 581h0M620 596h0M586 579h0M581 567h0M583 588h0M630 555h0M652 579h0M595 605h0M595 555h0M642 571h0M628 570h0" stroke="#78be10" stroke-width="3" stroke-linecap="round"/>
<path d="M646 582h0M614 606h0M615 578h0M588 579h0M612 591h0M647 552h0M647 573h0M632 582h0M583 569h0M637 560h0M619 574h0M591 568h0M602 582h0M597 576h0M604 564h0M617 563h0M634 587h0M586 550h0M593 579h0M605 581h0M590 589h0M622 568h0M605 599h0M631 565h0M642 598h0M635 565h0M628 566h0M635 562h0M621 583h0M649 566h0M607 557h0M636 595h0M609 600h0M585 563h0M597 553h0M608 566h0M589 600h0M640 601h0M617 591h0M606 554h0M620 569h0M584 562h0M586 549h0M634 559h0M628 589h0M594 585h0M618 586h0M592 553h0M643 591h0M621 582h0M642 562h0M626 576h0M651 587h0M651 568h0M580 584h0M636 580h0M595 605h0M587 550h0M637 600h0M633 561h0M622 583h0M580 565h0M639 562h0M631 567h0M622 594h0M615 540h0M618 568h0M640 562h0M639 573h0M635 592h0M637 573h0M607 578h0M634 598h0M624 598h0M636 595h0M612 560h0M638 594h0M584 574h0M591 543h0M639 604h0M625 573h0M603 603h0M601 576h0M606 542h0M639 548h0M591 585h0M635 572h0M594 580h0M604 593h0M627 598h0M578 568h0M644 565h0M595 602h0M638 556h0M592 582h0M617 589h0M602 571h0M647 597h0M615 609h0M617 564h0M613 579h0M642 557h0M609 555h0M624 563h0M611 567h0M589 548h0M598 540h0M607 582h0M601 554h0M587 584h0M588 544h0M635 588h0M607 602h0M602 596h0M635 552h0M588 548h0M579 569h0M635 586h0M588 591h0M599 549h0M630 598h0M644 549h0M629 576h0M617 575h0M651 590h0M633 583h0M609 592h0M580 582h0M611 595h0M642 578h0M600 585h0M649 558h0M588 582h0M631 584h0M594 552h0M607 572h0M604 576h0M596 582h0M595 548h0M625 577h0M596 599h0M610 568h0M647 595h0M646 570h0M619 547h0M633 568h0M594 559h0M615 576h0M625 593h0M625 561h0M633 552h0M648 590h0M643 583h0M645 553h0M607 610h0M620 590h0M642 587h0M592 600h0M639 546h0M600 570h0M636 600h0" stroke="#78be10" stroke-width="4" stroke-linecap="round"/>
<path d="M588 563h0M662 587h0M650 552h0M654 597h0M645 613h0M575 601h0M592 543h0M576 600h0M630 616h0M616 537h0M609 630h0M617 621h0M573 592h0M650 610h0M647 549h0M588 551h0M589 554h0" stroke="#78be10" stroke-width="3" stroke-linecap="round"/>
<path d="M654 557h0M581 599h0M577 581h0M628 538h0M596 542h0M572 579h0M642 615h0M602 617h0M645 561h0M591 617h0M632 616h0M576 595h0M661 586h0M648 552h0M577 599h0M652 605h0M617 626h0M579 591h0M578 588h0M624 546h0M586 560h0M613 542h0M642 616h0M634 620h0M636 617h0M598 543h0M594 540h0M593 556h0" stroke="#78be10" stroke-width="4" stroke-linecap="round"/>
<ellipse cx="584" cy="700" rx="18" ry="15" fill="#1cc0f6"/>
<path d="M564 708h0M596 694h0M603 707h0M568 707h0M602 695h0M586 685h0M570 709h0M590 719h0M588 720h0M593 699h0M599 692h0M587 686h0M582 687h0M586 698h0M603 703h0M574 704h0M584 682h0M603 709h0M570 687h0M596 688h0M581 709h0M584 699h0M567 697h0M604 707h0M581 691h0M594 708h0M584 716h0M599 694h0M572 693h0M564 693h0M576 694h0M571 689h0M577 702h0M581 702h0M601 697h0M591 697h0M580 682h0M593 688h0M569 704h0M566 701h0M570 706h0M598 705h0M584 701h0M597 695h0M593 685h0M572 692h0M587 684h0M593 695h0M579 686h0M588 683h0M595 696h0M573 717h0M571 705h0M593 718h0M584 708h0M589 703h0M602 706h0M588 681h0M569 687h0M587 705h0M571 693h0M593 703h0M601 705h0M598 705h0M564 709h0M587 688h0M591 691h0M581 696h0M574 716h0M591 710h0M567 711h0M567 699h0M596 683h0M569 703h0M579 709h0M575 693h0M567 700h0M593 700h0M570 711h0M591 690h0M561 699h0M576 707h0M580 699h0M578 705h0M592 712h0M580 696h0M573 705h0M572 687h0M578 684h0M588 707h0M576 682h0M562 704h0M581 687h0M587 713h0M585 684h0M566 705h0M585 695h0M597 688h0M596 692h0M566 706h0M588 686h0M583 701h0M572 716h0M580 683h0M580 717h0M589 715h0M599 694h0M598 711h0M598 711h0M595 683h0M595 685h0M581 693h0M600 698h0M564 697h0M590 692h0M606 698h0M572 701h0M581 715h0M582 690h0M564 698h0M595 704h0M563 692h0M592 707h0M571 685h0M601 705h0M599 704h0M592 692h0M570 701h0M582 707h0M600 703h0M568 711h0M591 699h0M580 698h0M593 711h0M599 707h0M595 686h0M576 690h0M590 710h0M584 698h0M589 686h0M587 717h0M589 701h0M589 693h0M594 683h0M587 700h0M589 688h0M597 690h0M578 708h0M579 693h0M581 683h0M579 683h0M590 709h0M590 712h0M589 689h0M576 690h0M581 705h0M588 690h0M574 705h0M604 703h0M587 699h0M597 691h0M583 688h0M575 718h0M590 691h0M565 709h0M570 687h0" stroke="#10c0f8" stroke-width="3" stroke-linecap="round"/>
<path d="M572 708h0M602 707h0M598 699h0M579 710h0M587 684h0M579 709h0M601 697h0M571 716h0M577 693h0M575 695h0M573 717h0M595 707h0M590 695h0M566 697h0M585 717h0M594 687h0M579 695h0M579 683h0M598 715h0M578 716h0M593 703h0M573 691h0M577 717h0M585 688h0M599 695h0M573 696h0M585 698h0M569 686h0M580 708h0M562 703h0M595 695h0M573 698h0M571 703h0M574 712h0M580 717h0M573 693h0M581 685h0M569 692h0M574 698h0M579 702h0M567 701h0M581 694h0M594 687h0M565 693h0M584 694h0M596 710h0M602 713h0M599 698h0M591 719h0M563 707h0M598 694h0M576 697h0M605 703h0M570 688h0M593 684h0M569 706h0M587 702h0M576 718h0M573 688h0M566 699h0M595 705h0M591 697h0M581 702h0M579 705h0M577 707h0M588 715h0M595 699h0M582 719h0M579 708h0M574 717h0M594 698h0M582 680h0M577 704h0M593 686h0" stroke="#10c0f8" stroke-width="4" stroke-linecap="round"/>
<circle cx="595" cy="689" r="4.6" fill="#10c0f8"/>
<circle cx="637" cy="694" r="2.5" fill="#10c0f8"/>
<path d="M629 644h0M651 650h0M629 655h0M654 642h0M619 643h0M649 646h0M630 641h0M634 660h0M648 651h0M645 638h0M643 648h0M638 668h0M631 637h0M647 659h0M642 645h0M640 653h0M631 655h0M644 633h0M649 645h0M622 645h0M632 639h0M613 650h0M637 650h0M628 656h0M645 662h0M625 652h0M628 651h0M642 645h0M649 654h0M623 640h0M644 633h0M653 653h0M614 646h0M630 641h0M635 637h0M633 648h0M640 637h0M644 660h0M634 651h0M638 660h0M649 654h0M623 649h0M640 646h0M636 652h0M622 653h0M634 640h0M639 642h0M631 653h0M634 644h0M626 629h0M607 635h0" stroke="#4a4a4a" stroke-width="2" stroke-linecap="round"/>
<path d="M643 646h0M623 632h0M620 645h0M643 650h0M636 649h0M640 657h0M622 641h0M643 647h0M622 663h0M640 646h0M627 659h0M641 644h0M621 663h0M630 635h0M652 657h0M634 655h0M627 639h0M641 648h0M617 644h0M638 668h0M624 637h0M640 646h0M626 651h0M650 641h0M642 641h0M616 634h0M643 643h0M637 652h0M649 642h0M620 644h0M655 659h0M617 640h0M622 642h0M634 645h0M617 648h0M643 652h0M632 648h0M627 643h0M624 650h0M630 655h0M647 640h0M622 634h0M661 657h0M652 646h0M643 652h0M622 641h0M616 638h0M613 639h0M637 648h0M640 645h0M660 641h0M627 656h0M636 646h0M644 635h0M636 643h0M650 647h0M644 649h0M634 650h0M656 644h0" stroke="#4a4a4a" stroke-width="3" stroke-linecap="round"/>
<path d="M656 649h0M650 652h0M661 635h0M659 656h0M658 657h0M663 661h0M656 643h0M634 647h0M635 642h0M662 646h0M650 657h0M659 646h0M655 656h0M658 659h0M652 648h0M644 646h0M661 645h0M666 654h0M662 649h0M653 646h0M656 652h0M650 656h0M656 656h0M660 646h0M649 646h0M662 646h0M666 653h0M668 650h0M673 650h0M649 640h0" stroke="#1020c0" stroke-width="2" stroke-linecap="round"/>
<circle cx="656.7" cy="653" r="3.6" fill="#20e090"/>
<path d="M713 555h0M718 551h0M704 570h0M723 566h0M730 575h0M711 548h0M716 567h0M717 564h0M713 563h0M702 559h0M711 557h0M703 575h0M719 573h0M709 570h0M699 566h0M721 561h0M697 566h0M716 570h0M712 563h0M711 568h0M708 551h0M717 565h0M718 554h0M721 561h0M709 569h0M727 552h0M702 562h0M716 580h0M714 559h0M702 564h0M701 585h0M714 560h0M722 563h0" stroke="#f05078" stroke-width="2" stroke-linecap="round"/>
<path d="M707 560h0M709 571h0M717 572h0M706 553h0M715 556h0M708 567h0M693 557h0M705 574h0M713 551h0M714 563h0M708 572h0M719 561h0M691 571h0M727 564h0M712 559h0M726 557h0M710 575h0M720 552h0M712 568h0M713 571h0M724 562h0M718 572h0M706 571h0M708 559h0M716 565h0M722 557h0M707 560h0M694 554h0M723 562h0M725 564h0M699 571h0M713 555h0M714 565h0M711 555h0M710 563h0M706 571h0M711 556h0" stroke="#f05078" stroke-width="3" stroke-linecap="round"/>
<path d="M722 570h0M715 576h0M712 566h0M714 567h0M723 564h0M701 574h0M727 559h0M723 571h0M716 570h0M712 564h0M702 565h0M736 566h0M726 563h0M716 578h0M697 570h0" stroke="#20e0a0" stroke-width="2" stroke-linecap="round"/>
<path d="M684 594h0M679 605h0M682 596h0M678 595h0M651 598h0M660 598h0M659 595h0M675 591h0M665 592h0M681 594h0M685 591h0M663 614h0M664 604h0M673 608h0M681 590h0M665 616h0M666 594h0M685 592h0M676 590h0M683 611h0M654 605h0M667 591h0M667 602h0M659 587h0M674 605h0M685 607h0M661 600h0M677 602h0M684 589h0M683 596h0M659 593h0M661 596h0M665 612h0M658 592h0M672 591h0M650 592h0M649 588h0M682 576h0M669 599h0M669 586h0" stroke="#d8b8b0" stroke-width="3" stroke-linecap="round" stroke-opacity="0.8"/>
<path d="M621 752h0M631 764h0M604 751h0M626 749h0M631 757h0M621 753h0M599 741h0M622 764h0M610 743h0M634 744h0M614 750h0M632 750h0" stroke="#f88010" stroke-width="2" stroke-linecap="round"/>
<path d="M654 731h0M656 728h0M654 745h0M645 746h0M663 735h0M659 737h0M653 743h0M659 734h0M669 722h0M671 739h0M663 736h0M650 738h0M669 727h0M670 744h0M648 743h0M670 741h0M661 748h0M663 736h0M671 740h0M655 743h0M650 740h0M656 749h0M662 728h0M643 745h0M664 749h0M666 738h0M662 748h0M653 756h0M650 726h0M669 729h0M653 733h0M658 745h0M647 722h0M669 722h0M664 741h0M663 746h0M655 732h0M665 750h0M647 743h0M654 747h0M664 729h0M665 753h0M658 760h0M645 738h0M656 737h0" stroke="#f88010" stroke-width="3" stroke-linecap="round"/>
<path d="M562 650h0M570 659h0M558 658h0M556 654h0M551 651h0M547 638h0M564 651h0M537 650h0M520 652h0M563 654h0M564 653h0M555 656h0M557 651h0M555 659h0M551 652h0M539 656h0M564 656h0M555 648h0M560 655h0M556 661h0M561 659h0M555 657h0M544 651h0M555 649h0M566 657h0M560 646h0M561 664h0M568 649h0M568 663h0M542 657h0M540 654h0M543 652h0M555 667h0M551 647h0M562 655h0M535 655h0M556 656h0M540 651h0M563 654h0M543 655h0M550 653h0M557 660h0M567 673h0M556 663h0M543 669h0" stroke="#10a880" stroke-width="2" stroke-linecap="round"/>
<path d="M531 563h0" stroke="#d02000" stroke-width="5" stroke-linecap="round"/>
<path d="M531 568h0" stroke="#d02000" stroke-width="3" stroke-linecap="round"/>
<path d="M474 613h0" stroke="#1020c0" stroke-width="2" stroke-linecap="round"/>
<path d="M757 688h0" stroke="#10a880" stroke-width="3" stroke-linecap="round"/>
<path d="M540 648h0" stroke="#20e0a0" stroke-width="2" stroke-linecap="round"/>
<path d="M585 511h0" stroke="#76bd10" stroke-width="2" stroke-linecap="round"/>
<path d="M609 505h0" stroke="#76bd10" stroke-width="2" stroke-linecap="round"/>
<path d="M734 777h0" stroke="#1020c0" stroke-width="2" stroke-linecap="round"/>
<path d="M653 539h0" stroke="#1020c0" stroke-width="2" stroke-linecap="round"/>
<path d="M665 511h0" stroke="#d02000" stroke-width="3" stroke-linecap="round"/>
<path d="M756 553h0" stroke="#76bd10" stroke-width="3" stroke-linecap="round"/>
<path d="M756 543h0" stroke="#444" stroke-width="2" stroke-linecap="round"/>
<defs><filter id="bl" x="-50%" y="-50%" width="200%" height="200%"><feGaussianBlur stdDeviation="8"/></filter><filter id="bl2" x="-50%" y="-50%" width="200%" height="200%"><feGaussianBlur stdDeviation="4"/></filter></defs>
<g filter="url(#bl)" opacity="0.35"><path d="M1048 490 L1082 490 L1170 580 L1168 690 L1110 760 L1060 790 L990 790 L935 775 L925 700 L935 615 L990 565 Z" fill="#dfe4de"/></g>
<g filter="url(#bl2)" opacity="0.6"><ellipse cx="975" cy="652" rx="45" ry="38" fill="#b8e0f0"/><ellipse cx="1130" cy="626" rx="40" ry="52" fill="#cfe8b8"/><ellipse cx="1040" cy="725" rx="55" ry="40" fill="#e6dcec"/><ellipse cx="1092" cy="712" rx="22" ry="22" fill="#dcd4f0"/><ellipse cx="950" cy="745" rx="22" ry="25" fill="#cce4dc"/><ellipse cx="1063" cy="500" rx="16" ry="20" fill="#c8c8c8"/><ellipse cx="1005" cy="600" rx="22" ry="20" fill="#e8dcc8"/></g>
<path d="M1067 493L1032 713M1058 484L902 658M1051 514L1099 626M1042 504L1135 717M1067 514L1121 660M1070 500L1004 598M1083 507L1021 660M1055 518L967 643M1059 513L969 734M1093 493L964 748M1064 508L985 657M1088 511L958 663M1071 503L1056 651M1066 502L1040 638M1060 502L1062 722M1049 504L1076 602M1077 491L900 604M1072 504L1065 625M1046 504L1029 742M1067 512L1032 632M1073 500L1159 664M1042 506L939 729M1062 506L1068 742M1040 504L1000 642M1057 492L992 726M1064 504L953 756M1059 500L949 767M1060 502L1001 632M1068 508L937 732M1071 503L975 644M1067 489L964 761M1050 509L951 654M1079 502L1114 739M1066 496L1074 561M1082 499L1072 694M1061 497L1119 633M1043 501L1121 685M1060 497L1019 616M1077 497L940 672M1078 510L1135 689M1056 507L1189 592M1081 502L959 752M1073 506L1103 707M1055 497L1097 712M1075 502L944 736M1049 508L1128 709M1069 498L1081 705M1072 502L984 640M1062 501L1141 654M1070 506L1084 700M1071 499L1027 778M1072 524L972 595M1044 479L1068 730M1055 509L1095 523M1080 507L1104 735M1061 496L1048 715M1058 508L1072 736M1072 514L981 713M1075 501L940 735M1071 497L940 709M1041 505L1087 718M1055 499L1004 621M1066 510L973 604M1076 506L1001 580M1055 512L1117 654M1076 514L935 758M1060 509L944 742M1063 505L1039 744M1046 500L1141 611M1060 486L1023 614M1069 513L1134 660M1069 500L1125 607M1045 492L1115 630M1071 509L1011 600M1046 514L956 757M1041 505L1023 673M1067 502L980 719M1050 497L954 746M1066 510L991 616M1066 515L1108 725M1065 498L1002 616M1080 509L928 742M1050 493L996 604M1073 502L1024 614M1109 505L991 592M1066 496L1170 644M1055 514L1057 681M1067 512L997 597M1056 509L1066 693M1066 523L1023 703M1074 511L925 677M1067 499L1001 789M1045 495L1071 785M1042 519L1076 757M1092 509L1034 619M1056 479L1061 685M1060 504L1009 685M1066 508L972 618M1078 495L1068 719M1049 502L1127 728M1065 529L1013 588M1075 521L993 665M1068 499L1004 727M1056 509L989 577M1088 501L1027 748M1060 497L944 587M1058 501L947 744M1074 504L999 718M1075 498L1090 706M1063 500L1000 641M1054 517L1024 707M1055 502L1072 697M1062 510L968 663M1066 520L1093 731M1072 505L1111 614M1065 518L993 610M1041 504L1027 706M1066 505L954 724M1066 517L1050 580M1093 496L1158 627M1071 514L1081 729M1076 508L946 729M1060 509L1131 566M1051 504L1037 764M1054 496L1002 733M1061 498L1075 727M1065 497L1004 611M1047 507L946 590M1084 519L964 605M1070 495L970 755M1047 490L1079 710M1069 485L1025 740M1060 502L928 658M1059 522L1082 703M1064 519L955 749M1037 524L1046 602M1074 502L947 743M1070 503L988 590M1058 497L1150 627M1067 521L1027 730M1049 493L1097 730M1065 519L1150 684M1068 499L952 730M1070 499L1087 702M1071 497L1137 644M1060 507L931 766M1067 508L960 716M1046 516L1059 636M1069 504L1043 662M1066 509L1007 618M1088 481L992 612M1052 504L990 662M1064 484L951 736M1059 491L948 574M1055 494L1109 707M1048 499L1022 723M1074 530L953 740M1051 503L1015 612M1055 497L1150 577M1065 502L1093 722M1069 524L1084 801M1054 495L921 736M1051 503L1071 726M1059 534L975 610M1061 509L949 753M1041 489L915 655M1066 517L1042 751M1043 504L955 740M1062 494L956 743M1065 497L1098 687M1073 512L1043 680M1071 498L987 604M1057 504L967 763M1060 497L902 686M1078 503L1094 706M1053 505L941 645M1070 504L1015 608M1075 506L1000 595M1081 506L1117 631M1077 498L987 606M1059 505L1059 723M1070 498L986 640M1093 499L1010 585M1049 513L1144 697M1065 498L1069 721M1058 504L1045 715M1064 513L951 742M1045 508L1000 630M1060 504L1033 714M1049 515L964 766M1047 519L989 669M1080 515L1092 716M1078 508L891 603M1080 483L1022 719M1068 511L947 615M1076 509L909 626M1076 491L1168 656M1053 500L1115 699M1042 507L1018 590M1091 486L1132 541M1058 525L1040 616M1046 497L941 675M1066 482L1097 561M1090 505L987 661M1062 500L1091 747M1061 492L1075 715M1064 488L1139 631M1078 506L987 638M1062 490L938 707M1050 492L1104 727M1058 502L963 673M1055 495L1018 599M1050 497L1092 719M1043 514L996 709M1061 513L1020 783M1062 491L1088 644M1080 502L931 751M1057 512L955 740M1092 503L949 768M1042 515L1113 692M1072 500L1018 598M1086 509L958 641M1075 500L1076 713M1044 497L928 693M1053 503L1124 717M1058 512L974 750M1084 520L1003 607M1067 486L1108 704M1068 514L1089 695M1061 512L1140 585M1079 504L1028 645M1048 501L966 736M1061 510L1069 691M1066 504L1123 686M1057 511L1020 666M1069 528L1202 590M1082 500L977 588M1060 514L1003 617M1066 495L1077 693M1066 509L1100 712M1067 509L983 750M1058 505L954 727M1056 501L1017 585M1062 513L1012 670M1060 497L1079 705M1074 499L1038 760M1067 510L1078 697M1068 526L972 744M1069 500L1018 619M1062 484L1090 690M1068 491L1002 590M1071 515L935 754M1062 518L1025 715M1080 505L951 766M1071 497L1124 684M1039 511L1159 600M1062 498L966 726M1067 514L1064 731M1065 504L945 737M1072 524L1076 761M1052 505L1097 611M1065 503L1138 621M1055 508L1074 727M1059 504L969 751M1045 517L1105 682M1068 484L1086 728M1072 503L1115 582M1060 502L986 741M1070 515L1057 718M1049 517L989 588M1068 489L964 715M1083 506L1110 627M1047 528L1086 717M1067 503L1121 722M1064 494L1091 721M1080 514L1039 701M1067 500L999 578M1058 501L927 705M1067 504L960 757M1051 521L1168 677M1076 501L979 678M1075 499L1033 635M1054 517L1046 714M1057 513L1177 639M1071 509L936 775M1066 522L1111 702M1060 507L964 650M1066 507L971 783M1065 493L1007 593M1078 493L967 755M1068 510L1080 694M1059 495L945 748M1048 508L1021 649M1065 517L972 757M1050 510L1024 626M1062 497L996 634M1068 522L1004 604M1054 517L956 752M1066 516L1172 637M1076 511L1027 704M1061 496L1057 671M1071 524L1108 747M1047 511L977 660M1077 509L1014 623M1074 494L1013 645M1079 510L950 615M1049 529L941 732M1081 492L1041 742M1047 510L1097 575M1066 499L1045 685M1068 510L1004 606M1053 504L972 598M1074 493L1050 709M1065 494L1037 586M1066 510L1137 688M1052 519L941 764M1064 499L1085 719M1053 507L1131 635M1055 514L968 659M1063 499L1024 729M1061 514L1018 605M1047 498L916 687M1054 505L1090 725M1055 501L1148 612M1061 510L1044 713M1047 496L956 666M1059 511L1076 711M1052 524L1033 744M1068 512L1178 656M1057 507L1105 745M1057 502L966 746M1091 494L1098 757M1065 492L927 748M1045 504L970 633M1064 509L1130 569M1055 520L929 749M1061 514L1075 721M1057 502L1079 708M1089 509L990 606M1074 524L1161 634M1076 502L964 681M1076 492L994 623M1073 499L975 688M1054 500L959 755M1058 521L988 608M1072 508L972 684M1054 511L943 774M1046 492L1089 568M1070 496L1108 544M1047 499L954 731M1052 498L1075 727M1073 497L1132 600M1069 499L1092 710M1061 497L1026 703M1051 497L1119 604M1056 507L1046 690M1054 517L1084 708M1076 503L1090 713M1080 500L955 727M1088 495L1017 634M1062 512L1108 703M1067 479L945 772M1058 501L943 757M1047 516L1030 689M1051 497L1016 602M1065 506L949 751M1078 496L1004 613M1069 481L1136 619M1058 516L1097 726M1050 525L1029 737M1067 502L1041 728M1069 505L925 745M1074 494L1096 695M1071 491L1093 704M1036 512L990 620M1057 530L1008 577M1095 507L1002 607M1069 505L1061 720M1083 506L1104 696M1058 488L1150 610M1068 515L950 658M1059 501L1043 660M1055 524L956 735M1065 501L1155 693M1055 529L1029 695M1074 489L1098 725M1056 508L1032 673M1059 510L982 686M1070 504L1101 645M1052 507L1068 733M1069 513L1061 698M1073 511L950 639M1077 492L951 744M1059 504L1096 689M1070 497L977 751M1074 508L1098 707M1067 513L998 628M1055 514L1082 705M1078 508L965 770M1058 504L1113 679M1072 513L959 746M1067 505L1036 724M1080 500L929 760M1038 489L1098 738M1053 518L1087 722M1039 493L1003 671M1075 491L937 755M1067 519L967 640M1065 508L1051 750M1078 512L944 757M1077 518L957 683M1071 499L957 742M1070 500L973 675M1051 504L1091 712M1070 517L947 750M1062 508L1038 690M1062 504L962 768M1054 497L1101 693M1058 515L1088 703M1057 515L1039 688M1061 516L969 755M1088 497L907 742M1081 501L956 743M1081 511L928 702M1077 510L944 734M1060 524L996 609M1065 501L993 618M1073 506L1014 616M1064 494L1030 587M1042 501L950 776M1066 510L1084 698M1049 491L1011 632M1062 495L1119 540M1045 501L1079 758M1052 496L1050 674M1071 519L1077 715M1042 525L1116 703M1053 503L1132 768M1084 502L1083 714M1091 509L983 803M1062 517L999 635M1086 503L1086 512M1054 505L1043 699M1059 512L1026 734M1072 500L1155 589M1049 500L948 767M1078 499L1079 721M1070 507L1084 710M1051 495L1025 590M1064 514L1055 582" fill="none" stroke="#a8b8a8" stroke-width="0.4" stroke-opacity="0.1"/>
<path d="M1106 715L934 728M1125 548L1039 705M1090 504L1013 583M1105 699L1113 635M962 736L1098 716M1059 598L1036 692M1046 605L1008 602M1119 718L1112 730M950 755L1090 604M1080 722L1092 693M1070 758L987 598M1123 599L1153 616M950 759L1073 710M996 623L1133 747M947 703L969 713M1000 583L938 619M987 646L968 748M1055 719L1034 602M1054 722L1022 691M1016 634L1118 632M1058 659L972 609M1087 725L1103 712M981 645L1093 752M1006 753L1024 607M1095 707L982 622M1075 704L1045 745M1016 596L1014 615M983 607L1001 701M931 646L1025 592M1044 639L969 717M941 739L1156 614M967 758L1088 719M1064 721L1049 728M952 744L1004 622M1086 732L991 597M945 647L1007 603M1002 607L1020 609M1080 717L955 756M1055 738L1006 601M1022 608L933 754M1029 661L1133 654M1045 636L938 744M936 769L959 610M931 639L1111 641M991 612L1008 577M1038 678L964 680M1107 692L991 744M1113 763L1148 642M974 670L1022 656M1047 710L1011 607M1115 769L1011 588M1109 706L987 751M951 749L1107 716M1099 709L1002 626M1007 736L1100 703M1065 627L1103 788M1132 693L1145 618M1122 639L947 739M952 735L1000 605M1042 766L1026 606M994 790L973 698M1006 651L959 620M1059 741L1152 619M935 760L956 643M1113 563L993 666M1106 699L1032 611M1118 686L1010 622M1027 647L1151 573M949 634L1033 678M931 627L968 628M955 745L1207 576M1125 692L1129 664M1097 569L1031 615M1087 718L1021 604M932 742L1017 587M950 730L955 739M1090 732L992 599M956 618L978 728M982 640L1048 669M932 624L1051 681M1182 614L1186 573M1026 588L1185 598M1114 722L985 735M950 764L973 592M1101 692L941 745M1065 725L1062 715M1042 606L1122 718M1028 593L920 651M1014 574L932 752M970 761L1014 613M1195 644L954 747M1096 714L1100 714M973 731L986 752M1044 706L1127 619M1130 719L1070 712M997 606L1118 542M1014 581L1001 599M1026 712L933 750M1143 673L1072 699M1161 728L1036 711M1002 629L1005 602M950 771L1130 621M1129 593L1069 709M1065 704L1028 695M1001 638L992 599M1152 613L1007 602M1116 718L1020 658M1016 657L1016 732M959 778L919 750M1097 723L943 748M944 756L987 600M1022 627L1077 702M1017 673L1013 597M1060 686L1004 712M938 737L941 727M907 714L1007 704M1000 655L965 720M939 733L1002 726M1004 598L1107 664M1074 737L1163 662M977 589L1075 724M1033 654L1098 722M978 615L994 604M973 731L933 741M1147 616L1020 725M1021 739L1019 605M1022 619L1107 705M1039 683L1024 598M1118 748L1102 660M1054 568L1006 567M1017 602L1074 728M986 619L928 736M979 639L1035 614M1039 593L967 636M942 618L1018 684M1089 642L991 626M1138 666L934 742M1118 641L938 599M1084 720L1000 588M1114 721L1020 608M1070 638L939 655M968 749L1021 665M1083 723L1006 626M1013 591L1084 686M955 614L998 617M947 703L1005 614M1123 558L1001 624M918 740L1091 719M1108 624L1025 582M1071 722L1082 695M1103 698L1022 724M973 768L1075 717M984 622L1127 654M941 669L963 738M1094 724L1180 593M956 763L926 768M936 756L995 663M1016 597L1027 733M1159 610L1098 742M1027 593L960 725M1177 717L946 629M1176 591L1072 732M1013 692L951 737M1112 617L1016 615M989 616L1009 736M941 731L956 741M1018 631L1021 733M932 756L1010 589M1076 726L1131 730M1170 695L1023 577M1114 594L1103 677M1114 529L1101 715M1047 708L994 735M1000 634L1102 691M938 722L1111 702M964 736L974 642M1071 724L1104 696M980 682L1132 620M1041 689L1022 592M1011 593L1028 717M920 662L1058 696M1025 728L974 738M1090 688L1100 726M930 636L1046 787M1091 727L948 752M1014 744L946 744M990 753L1038 583M1015 659L1122 682M924 749L1138 625M1074 718L1083 714M975 751L1105 626M1021 603L1011 604M1013 632L979 736M1154 657L1019 608M1003 610L1012 690M1078 711L1084 716M1176 639L976 748M923 665L1104 704M1011 594L984 591M1005 669L872 598M1031 814L941 757M1125 719L1083 713M1026 650L1071 714M1050 763L1004 773M1071 725L1031 700M1165 620L975 606M984 619L1026 661M1185 620L1096 707M1021 681L954 725M926 746L1087 712M1031 689L1019 622M990 607L1089 716M954 730L995 596M1096 718L1089 738M1008 596L978 741M949 776L970 741M983 692L995 705M1094 699L1118 720M989 634L1038 592M1120 663L1194 610M997 725L1119 642M945 721L966 762M1109 702L979 624M1111 545L955 766M1131 760L1070 602M1159 559L1106 705M1137 645L1106 616M1099 703L1118 714M930 735L1120 625M1092 714L1072 678M1080 688L996 580M1071 724L1132 629M1116 692L1067 742M1006 668L1010 676M967 713L1100 707M1090 686L1107 730M935 742L1010 597M995 581L1010 702M1068 749L1086 700M1078 733L1051 702M971 683L976 620M995 659L1121 656M1099 727L955 632M1008 759L964 716M1195 717L1091 693M999 581L938 749M1135 501L989 759M1043 611L1042 626M940 734L950 763M1082 698L983 676M1108 713L1030 732M1145 650L1015 648M973 746L992 617M1034 710L924 728M1105 683L973 727M1116 604L1131 620M1007 615L926 637M947 711L995 616M861 607L927 757M967 711L1006 569M939 749L993 698M1046 734L936 751M904 691L1010 605M1088 689L1180 683M964 764L1060 692M1107 562L959 645M1150 686L1019 620M1117 669L1130 581M969 686L964 612M935 761L1113 627M1005 741L1072 720M1084 723L937 718M1060 733L1093 704M1034 607L1058 707M1128 546L1102 661M996 612L1162 626M944 636L950 774M910 635L948 738M938 659L949 727M955 637L933 729M994 760L1063 773M1023 649L1021 670M1020 598L1147 543M1013 572L951 706M1129 641L1018 734M954 753L991 625M1010 630L1012 584M1113 726L992 699M1081 713L998 660M1101 705L1012 623M1128 604L962 755M1083 732L1020 743M1155 619L1085 727M1126 614L1064 720M1088 726L989 754M1130 726L955 752M1019 700L963 738M985 750L1020 749M1079 708L943 734M991 680L1170 634M1025 744L954 695M950 778L1082 712M1042 747L985 648M1002 604L1084 722M977 663L960 735M915 689L939 747M989 613L1012 611M956 684L1089 710M948 739L1067 658M1012 736L994 609M1011 592L964 762M1036 786L1119 738M1003 616L1058 731M944 729L944 748M1094 702L1084 716M1087 700L1068 658M963 718L1105 578M1065 705L963 756M995 686L1119 738M1089 704L1049 723M956 704L993 602M1010 635L958 747M944 745L987 614M997 681L1067 751M946 760L1145 665M1073 704L1029 734M970 753L1021 588M962 754L1153 640M1137 688L994 628M961 723L1120 729M1078 724L956 651M1067 687L1014 617M945 740L1101 735M1127 672L951 743M1116 588L1016 674M1107 645L1122 668M947 741L990 598M937 734L1018 746M966 745L964 734M1093 707L991 777M1007 582L1041 726M1020 587L1017 622M1096 706L977 650M945 752L1086 718M894 703L1093 609M916 735L957 733M1109 692L1095 709M1022 725L952 672M1096 730L1035 660M1089 729L954 727M1088 688L930 736M942 743L1071 661M1090 620L1012 637M993 610L944 773M1065 709L1078 702M993 600L1108 712M921 557L972 660M987 690L1055 698M1068 755L941 765M1125 647L997 654M1008 580L925 618M1011 733L1028 694M951 656L1090 626M1004 764L1032 705M1097 744L952 734M1105 723L1012 711M1076 701L938 733M942 646L976 596M1108 668L1028 636M1060 756L1023 736M1089 734L1085 728M1003 608L977 693M1078 717L1104 711M954 738L1070 701M1081 713L1012 631M1018 705L958 733M1001 730L1012 595M954 760L1054 737M1101 717L1093 717M908 684L989 653M956 718L1029 608M1061 727L1027 597M954 731L960 661M1101 694L999 623M1082 710L1089 668M1031 588L1022 629M964 765L1094 697M929 737L1051 766M944 753L1032 662M1088 695L948 678M1006 609L1088 722M1144 616L949 736M960 752L932 739M1094 592L1068 779M1164 646L987 609M991 612L933 765M987 628L980 742M1154 685L1142 596M953 689L940 622M999 651L1013 613M958 617L1101 708M1029 720L949 679M1136 505L1109 744M941 749L926 670M1163 667L976 744M947 627L984 636M1042 699L934 726M1118 589L1179 586M934 632L1122 616M1125 719L933 650M1073 763L1128 676M1014 669L1093 732M1066 718L941 723M1015 629L955 640M960 751L1067 717M1015 659L958 749M1113 665L1152 613M998 592L1093 724M944 743L984 608M1124 587L986 594M1098 699L993 701M1166 540L962 677M1010 597L1001 720M1052 717L1097 702M1091 702L991 714M1078 716L945 749M1005 588L990 593M1015 602L954 744M1007 599L930 657M939 757L1130 640M1111 769L1002 584M972 752L1016 603M1002 656L1077 652M1014 594L956 735M960 736L1011 587M1015 698L1096 713M983 666L939 679M1114 564L1052 701M1003 677L1123 611M1140 615L1010 766M1082 693L1119 650M1002 723L1107 634M1082 715L1049 729M1018 621L1153 616M1083 715L1165 622M1119 732L961 637M1006 594L980 603M1170 622L1024 579M1098 719L971 719M1123 628L1087 710M1057 670L967 616M978 749L1125 615M988 601L1141 702M970 738L994 643M1150 624L1118 636M1055 706L1115 675M1028 618L995 637M1141 664L1043 592M1094 721L1120 667M1011 685L1014 606M1017 693L1089 706M973 662L1110 646M1110 653L1023 634M1051 701L1023 644M942 725L1158 682M1090 680L979 741M989 614L953 738M1116 686L946 720M1028 739L1000 585M1010 698L1019 617M972 662L1000 613M950 685L954 717M1172 658L943 767M991 606L1036 705M984 679L930 666M1078 716L1104 705M971 602L1090 730M939 747L1089 723M961 755L1164 633M1005 598L968 645M935 742L920 658M1089 703L1182 634M976 591L1019 734M1105 725L990 718M1094 709L1070 714M994 620L1011 668M1049 745L1160 540M1165 582L1013 588M992 758L985 604M971 610L1090 708M1042 606L1096 735M989 643L1125 649M964 744L1005 617M1077 631L1257 549M1080 717L959 646M1065 711L1015 618M953 752L1069 699M1000 610L944 738M1110 696L1028 648M1140 610L1036 702" fill="none" stroke="#b8bcc8" stroke-width="0.4" stroke-opacity="0.1"/>
<path d="M1050 693h0M1052 737h0M1013 705h0M1065 721h0M1092 721h0M1049 706h0M1056 704h0M1088 692h0M1127 688h0M1035 727h0M1024 760h0M1042 750h0M991 674h0M1077 747h0M1020 714h0M1022 693h0M1076 758h0M1062 760h0M1073 707h0M1031 728h0M1045 723h0M1047 694h0M1054 711h0M1077 718h0M1063 688h0M1010 712h0M1034 671h0M981 754h0M1053 767h0M1080 766h0M1071 718h0M1045 725h0M1001 719h0M1090 746h0M970 709h0M1091 754h0M1016 706h0M1004 724h0M1109 713h0M1015 683h0M1075 761h0M1073 724h0M1031 715h0M1076 713h0M1045 696h0M1056 732h0M1108 706h0M1060 723h0M1050 717h0M1067 666h0M995 686h0M1053 707h0M1027 699h0M1089 750h0M1039 696h0M1012 723h0M1072 721h0M1049 711h0M974 728h0M1079 717h0M1041 724h0M1033 701h0M993 680h0M1039 731h0" stroke="#fae6f8" stroke-width="2" stroke-linecap="round"/>
<path d="M1096 707h0M984 684h0M1110 727h0M977 721h0M1054 708h0M984 726h0M1068 709h0M1083 737h0M1025 765h0M1032 668h0M1006 718h0M959 724h0M1031 735h0M1027 678h0M1034 668h0M1136 735h0M1014 735h0M1072 709h0M989 714h0M1058 702h0M1056 685h0M1005 741h0M963 716h0M1098 735h0M1025 699h0M1058 709h0M994 751h0M1068 680h0M983 668h0M977 696h0M1000 752h0M1079 702h0M1009 703h0M1055 697h0M1062 753h0M1013 722h0M1031 691h0M1071 694h0M1046 721h0M1059 703h0M983 689h0M1033 697h0M1066 754h0M981 711h0M988 754h0M1041 695h0M1088 669h0M1048 757h0M1006 698h0M1012 683h0M1040 675h0M1063 764h0M1028 699h0M1039 741h0M1011 680h0M1067 741h0M1005 710h0M1026 734h0M1039 684h0M1074 745h0M1039 724h0M1047 719h0M1006 715h0M947 763h0M1055 740h0M1075 752h0M1026 702h0M1050 706h0M1026 707h0M1057 755h0M1026 714h0M1064 728h0M1025 674h0M1003 752h0M1014 685h0M1030 750h0M1064 705h0M997 743h0M1040 694h0M973 765h0M1066 743h0M1097 715h0M1014 639h0M1043 706h0M1072 689h0M991 705h0M1016 705h0M1031 719h0M994 709h0M1040 726h0M1005 728h0M1036 672h0M1054 745h0M1037 698h0M1021 751h0M1023 732h0M1010 714h0M1061 769h0M1111 693h0M1025 708h0M1019 713h0M1082 684h0M1035 721h0M1016 693h0M1041 704h0M991 693h0M1056 752h0M1070 732h0M1083 710h0M1062 698h0M1053 742h0M1043 673h0M1037 736h0M1106 665h0M1060 738h0M1085 710h0M1031 704h0M992 688h0M1041 707h0M1007 745h0M1010 665h0M1036 699h0M1078 738h0M990 678h0M1036 733h0M984 731h0M998 707h0M1024 699h0M994 716h0M1083 752h0M1039 691h0M1001 664h0M1010 716h0M1086 723h0M987 771h0M1049 746h0" stroke="#fae6f8" stroke-width="3" stroke-linecap="round"/>
<circle cx="1048" cy="702" r="4" fill="#fae6f8"/>
<path d="M1072 487h0M1079 483h0M1069 482h0M1077 490h0M1050 488h0M1063 479h0M1084 489h0M1066 482h0M1071 480h0M1075 481h0M1057 486h0M1058 486h0M1064 482h0M1059 489h0M1071 481h0M1073 485h0M1059 485h0M1076 482h0M1069 485h0M1064 484h0M1068 481h0M1072 484h0M1077 483h0M1054 487h0M1062 484h0M1069 482h0M1080 487h0M1054 489h0M1059 490h0M1054 484h0M1069 482h0M1067 486h0M1067 483h0M1064 486h0M1059 485h0M1069 479h0M1068 479h0M1055 483h0M1072 485h0M1063 481h0M1065 486h0M1074 489h0M1073 485h0M1080 483h0M1063 480h0M1060 486h0M1059 489h0M1058 480h0M1065 483h0M1074 489h0M1060 487h0M1074 489h0M1073 487h0M1078 485h0M1078 483h0M1072 484h0M1083 489h0M1069 485h0M1080 487h0M1050 489h0M1072 487h0M1072 484h0M1081 486h0M1075 487h0M1059 490h0M1057 489h0M1064 485h0M1076 488h0M1057 485h0M1052 485h0M1076 481h0M1063 485h0M1069 484h0M1079 483h0M1055 484h0M1059 487h0M1063 482h0M1050 489h0M1074 485h0M1066 480h0" stroke="#555" stroke-width="1" stroke-linecap="round"/>
<path d="M1066 504h0M1075 498h0M1069 502h0M1073 500h0M1059 496h0M1064 497h0M1068 502h0M1074 504h0M1084 509h0M1066 495h0M1055 498h0M1070 509h0M1059 500h0M1061 502h0M1077 498h0M1056 500h0M1070 499h0M1059 504h0M1063 497h0M1059 506h0M1066 497h0M1056 493h0M1068 509h0M1072 503h0M1070 502h0M1062 495h0M1062 503h0M1062 499h0M1070 502h0M1071 501h0M1068 504h0M1053 512h0M1068 496h0M1078 503h0M1051 497h0M1052 495h0M1051 498h0M1078 500h0M1054 503h0M1051 503h0M1047 497h0M1057 488h0M1058 503h0M1057 502h0M1057 499h0M1072 508h0M1073 501h0M1050 503h0M1085 497h0M1064 505h0M1065 491h0M1050 500h0M1062 505h0M1067 499h0M1064 502h0M1064 501h0M1063 494h0M1072 507h0M1060 490h0M1059 498h0M1055 500h0M1073 507h0M1066 495h0M1070 501h0M1063 499h0M1074 505h0M1072 497h0M1062 506h0M1067 502h0M1063 497h0M1052 525h0M1056 518h0M1036 513h0M1063 503h0M1064 521h0M1069 509h0M1052 511h0M1071 514h0M1072 520h0M1069 503h0M1049 524h0M1061 516h0M1054 511h0M1057 514h0M1066 499h0M1048 503h0M1047 519h0M1078 505h0" stroke="#333" stroke-width="2" stroke-linecap="round"/>
<path d="M1069 525h0M1065 512h0M1064 514h0M1060 505h0M1059 520h0M1058 521h0M1059 511h0M1057 527h0M1069 518h0M1079 513h0M1050 518h0M1051 520h0" stroke="#333" stroke-width="3" stroke-linecap="round"/>
<path d="M1052 540h0M1081 540h0M1030 524h0M1045 528h0" stroke="#333" stroke-width="2" stroke-linecap="round"/>
<path d="M1035 514h0M1036 507h0M1043 490h0M1050 483h0M1082 510h0M1070 531h0M1058 537h0M1068 525h0" stroke="#333" stroke-width="3" stroke-linecap="round"/>
<path d="M1072 514h0" stroke="#333" stroke-width="4" stroke-linecap="round"/>
<path d="M1040 522h0" stroke="#333" stroke-width="5" stroke-linecap="round"/>
<path d="M1058 565h0M1057 563h0M1046 579h0M1042 570h0M1046 595h0M1054 578h0M1052 597h0M1056 574h0M1043 582h0M1049 556h0M1044 585h0" stroke="#f060f0" stroke-width="2" stroke-linecap="round"/>
<path d="M1056 591h0M1054 570h0M1046 576h0M1063 565h0M1057 580h0M1053 589h0M1047 571h0M1052 571h0M1041 579h0M1051 544h0M1050 547h0M1042 574h0M1046 589h0" stroke="#f060f0" stroke-width="3" stroke-linecap="round"/>
<path d="M1047 594h0M1047 595h0M1055 571h0M1056 591h0M1055 568h0M1050 547h0M1057 593h0M1049 596h0M1050 568h0M1051 584h0M1056 590h0" stroke="#f060f0" stroke-width="4" stroke-linecap="round"/>
<path d="M993 603h0M988 616h0M1017 609h0M1006 619h0M989 615h0M1014 594h0M996 599h0M1011 585h0M1010 614h0M1031 609h0M1010 608h0M1010 617h0M1017 608h0M1011 599h0M1007 599h0M1016 610h0M996 615h0M1004 596h0M1004 599h0M987 598h0M1023 600h0M986 607h0" stroke="#f87820" stroke-width="2" stroke-linecap="round"/>
<path d="M999 605h0M1018 591h0M1001 597h0M998 614h0M1001 604h0M1015 590h0M993 612h0M1002 619h0M1009 605h0M1011 596h0M1023 606h0M1013 612h0M1015 599h0M997 609h0M994 593h0M995 599h0" stroke="#f87820" stroke-width="3" stroke-linecap="round"/>
<path d="M998 609h0M994 613h0M998 617h0M1000 617h0M1002 591h0M1011 608h0M997 594h0M1003 613h0M1006 604h0M1023 602h0M1005 582h0M1011 611h0M997 613h0M996 615h0M1008 611h0M1005 611h0M1003 602h0" stroke="#f87820" stroke-width="4" stroke-linecap="round"/>
<path d="M1004 598h0M1001 602h0M993 590h0M1011 594h0M1024 605h0M1011 590h0M990 609h0M1005 608h0M991 621h0M1008 630h0M1009 607h0M1004 589h0M1004 604h0M993 604h0M1006 595h0M1018 616h0M1006 611h0M987 622h0M996 607h0M1001 599h0M1016 619h0M988 611h0M989 612h0M988 600h0M995 602h0" stroke="#f87820" stroke-width="5" stroke-linecap="round"/>
<path d="M1048 604h0M1045 615h0M1037 607h0M1040 614h0M1051 608h0M1049 613h0M1047 614h0M1043 618h0M1049 612h0M1038 602h0M1049 609h0" stroke="#f8f030" stroke-width="2" stroke-linecap="round"/>
<path d="M1042 613h0M1044 606h0M1044 617h0M1042 600h0M1046 614h0M1039 618h0M1049 615h0" stroke="#f8f030" stroke-width="3" stroke-linecap="round"/>
<path d="M1027 648h0M1040 660h0M1060 680h0" stroke="#f8f030" stroke-width="2" stroke-linecap="round"/>
<path d="M1045 620h0" stroke="#f8f030" stroke-width="5" stroke-linecap="round"/>
<ellipse cx="976" cy="652" rx="26" ry="22" fill="#00befa" opacity="0.85"/>
<path d="M1002 690h0M1026 678h0M1010 659h0M979 693h0M1025 698h0M1014 704h0M992 711h0M1031 665h0M1000 682h0M986 699h0M1047 694h0M972 654h0M1003 653h0M1004 657h0M978 689h0M982 659h0M1037 674h0M1026 679h0M1015 697h0M987 674h0M1064 688h0M982 670h0M1008 669h0M948 635h0M940 636h0M954 620h0M945 622h0M949 630h0M943 624h0M940 623h0M951 635h0M945 631h0M936 637h0M943 626h0M950 631h0M949 630h0M955 633h0M951 631h0M942 634h0M940 624h0M945 632h0M941 636h0M957 634h0M948 621h0M952 631h0M947 625h0M954 618h0M944 640h0M947 636h0M951 631h0M946 627h0M946 645h0M954 633h0M950 642h0M939 627h0M951 644h0M942 641h0M951 630h0M944 646h0M944 630h0M940 639h0M936 632h0M945 615h0M950 635h0M945 617h0M947 634h0M952 627h0M953 634h0M940 625h0M940 625h0M951 620h0M940 626h0M953 636h0M945 631h0M943 631h0M952 629h0M944 638h0M942 646h0M946 623h0M956 628h0M949 620h0M950 629h0M942 607h0" stroke="#00befa" stroke-width="2" stroke-linecap="round"/>
<path d="M977 655h0M932 632h0M995 651h0M991 651h0M994 638h0M971 646h0M962 659h0M993 642h0M970 642h0M992 674h0M966 690h0M999 670h0M973 675h0M986 663h0M960 638h0M949 649h0M982 668h0M983 643h0M969 660h0M936 666h0M978 650h0M982 692h0M1007 634h0M997 641h0M995 669h0M983 670h0M1000 661h0M1031 647h0M980 656h0M982 643h0M969 666h0M958 630h0M980 649h0M977 646h0M964 672h0M957 641h0M995 642h0M965 631h0M1023 690h0M966 677h0M955 658h0M1000 650h0M960 666h0M999 675h0M966 640h0M988 634h0M978 635h0M980 646h0M990 617h0M961 656h0M980 643h0M987 658h0M975 625h0M978 599h0M1005 661h0M985 667h0M987 653h0M976 645h0M946 645h0M973 645h0M977 644h0M980 682h0M991 639h0M975 656h0M967 638h0M1002 650h0M980 684h0M966 633h0M988 625h0M998 655h0M978 657h0M1007 660h0M985 670h0M977 635h0M974 639h0M972 640h0M978 621h0M972 633h0M1002 645h0M993 645h0M999 633h0M995 625h0M991 640h0M979 646h0M992 642h0M958 651h0M965 674h0M987 620h0M996 663h0M977 674h0M954 684h0M948 645h0M983 665h0M1036 681h0M996 659h0M993 662h0M999 671h0M983 682h0M1002 679h0M1004 669h0M953 697h0M1040 677h0M991 667h0M1015 682h0M996 665h0M1007 679h0M1033 668h0M999 691h0M982 668h0M964 674h0M976 650h0M1007 662h0M951 689h0M994 683h0M962 662h0M1013 713h0M1020 671h0M1048 689h0M985 669h0M989 674h0" stroke="#00befa" stroke-width="3" stroke-linecap="round"/>
<path d="M1006 654h0M984 639h0M1000 697h0M1017 662h0M996 632h0M955 632h0M992 648h0M1003 640h0M973 650h0M1039 653h0M957 626h0M954 646h0M985 634h0M993 633h0M961 647h0M1007 635h0M996 640h0M976 632h0M992 655h0M998 639h0M966 636h0M999 643h0M986 625h0M991 657h0M987 636h0M981 640h0M978 652h0M967 660h0M1013 677h0M1021 643h0M988 634h0M977 658h0M989 588h0M971 623h0M948 623h0M932 648h0M960 624h0M969 665h0M973 628h0M930 627h0M984 665h0M969 630h0M975 651h0M978 648h0M984 652h0M999 654h0M982 645h0M970 657h0M984 657h0M986 652h0M977 651h0M987 636h0M960 640h0M1010 665h0M983 660h0M985 651h0M972 659h0M1005 649h0M992 632h0M978 661h0M995 672h0M945 662h0M997 650h0M974 689h0M972 652h0M985 639h0M953 656h0M987 639h0M974 665h0M973 653h0M988 625h0M943 651h0M1013 647h0M952 657h0M971 637h0M1005 662h0M999 676h0M988 661h0M1004 635h0M965 632h0M991 674h0M985 673h0M996 654h0M1015 653h0M954 660h0M981 634h0M965 642h0M995 622h0M960 649h0M970 650h0M983 635h0M990 658h0M950 642h0M958 657h0M969 624h0M999 645h0M973 662h0M969 646h0M999 629h0M998 661h0" stroke="#00befa" stroke-width="4" stroke-linecap="round"/>
<path d="M974 655h0M966 665h0M996 641h0M972 649h0M1001 628h0M965 647h0M966 654h0M960 631h0M954 670h0M946 632h0M976 628h0M980 679h0M975 681h0M954 653h0M987 635h0M972 659h0M994 660h0M980 627h0M995 630h0M968 656h0M992 635h0M984 658h0M983 672h0M963 633h0M986 669h0M982 644h0M980 637h0M980 672h0M983 659h0M958 661h0M965 661h0M983 638h0M958 648h0M978 662h0M987 642h0M949 675h0M1005 631h0M989 609h0M968 640h0M972 657h0M975 673h0M977 660h0M1002 650h0M979 661h0M954 650h0M954 636h0M958 647h0M956 659h0M957 640h0M960 667h0M978 656h0M1002 679h0M977 614h0M955 654h0M959 653h0M963 619h0M984 629h0M978 634h0M999 657h0M981 679h0M987 638h0M976 629h0M970 645h0M950 653h0M955 642h0M977 650h0M982 676h0M985 671h0M991 636h0M965 649h0M968 651h0M996 665h0M963 675h0M992 653h0M976 671h0M971 615h0M977 660h0M971 639h0M970 659h0M984 681h0M1023 686h0M957 655h0M942 658h0M974 657h0M998 642h0M982 651h0M961 630h0M947 677h0M942 636h0M993 633h0M1028 655h0M985 677h0M966 668h0M973 655h0M980 640h0M974 684h0M995 649h0M966 677h0M1009 678h0M1009 680h0M953 674h0M962 661h0M1020 671h0M987 680h0M1013 646h0M1019 672h0M986 650h0M1033 649h0M996 681h0" stroke="#00befa" stroke-width="5" stroke-linecap="round"/>
<path d="M1000 632h0M991 627h0M1005 657h0M964 652h0M983 635h0M999 662h0M998 673h0M990 667h0M960 678h0M963 656h0M1022 635h0M1007 640h0M1004 634h0M963 642h0M995 640h0M992 669h0M978 620h0M1007 673h0M959 605h0M968 651h0M968 661h0M946 629h0M991 645h0M998 638h0M976 683h0M978 661h0M927 633h0M985 661h0M996 640h0M974 662h0M980 625h0M983 636h0M990 640h0M997 646h0M994 650h0M1005 694h0M979 646h0M987 648h0M951 640h0M1006 656h0M1007 646h0M990 631h0M965 656h0M992 652h0M979 638h0M984 663h0M993 615h0M990 628h0M977 646h0M986 669h0M979 646h0M999 644h0M1001 661h0M948 641h0M972 671h0M946 653h0M995 632h0M965 639h0M1019 648h0M960 630h0M965 635h0M977 652h0M984 638h0M985 642h0M988 642h0M984 648h0M974 647h0M970 666h0M980 631h0M976 636h0M970 638h0M996 635h0M1017 658h0M990 643h0M949 622h0M978 663h0M1028 663h0M951 646h0M1010 653h0M975 643h0M966 635h0M947 615h0M982 659h0M974 602h0M1006 666h0M1027 654h0M947 642h0M993 664h0M1017 648h0M967 643h0M1010 656h0M977 648h0M976 647h0M987 657h0M950 655h0M970 653h0M990 679h0M973 635h0" stroke="#00befa" stroke-width="6" stroke-linecap="round"/>
<circle cx="930" cy="597" r="2.2" fill="#00befa"/>
<circle cx="960" cy="596" r="2.2" fill="#00befa"/>
<circle cx="928" cy="642" r="2.5" fill="#00befa"/>
<circle cx="1022" cy="674" r="3.5" fill="#00befa"/>
<circle cx="1030" cy="695" r="2.5" fill="#00befa"/>
<circle cx="1045" cy="706" r="2.2" fill="#00befa"/>
<circle cx="963" cy="676" r="2.0" fill="#00befa"/>
<circle cx="960" cy="606" r="2.2" fill="#00befa"/>
<circle cx="975" cy="610" r="2.0" fill="#00befa"/>
<ellipse cx="1140" cy="620" rx="20" ry="30" fill="#8cc860" opacity="0.5"/>
<path d="M1144 631h0M1151 616h0M1133 639h0M1130 635h0M1140 601h0M1141 619h0M1168 612h0M1146 650h0M1132 641h0M1142 610h0M1136 601h0M1131 632h0M1136 624h0M1164 592h0M1129 614h0M1153 615h0M1128 597h0M1154 625h0M1151 627h0M1138 626h0M1127 598h0M1122 630h0M1129 619h0M1115 617h0M1139 615h0M1136 634h0M1141 626h0M1168 649h0M1116 561h0M1132 611h0M1129 638h0M1145 591h0M1127 630h0M1164 632h0M1138 608h0M1127 629h0M1154 587h0M1121 626h0M1114 616h0M1143 634h0M1126 635h0M1142 610h0M1142 631h0M1159 609h0M1153 634h0M1143 628h0M1139 599h0M1129 616h0M1128 589h0M1118 616h0M1160 620h0M1145 607h0M1147 641h0M1168 600h0M1164 628h0M1169 654h0M1141 630h0M1137 560h0M1144 605h0M1123 614h0M1139 612h0M1167 589h0M1163 620h0M1135 591h0M1135 630h0M1132 598h0M1152 602h0M1124 608h0M1151 592h0M1153 621h0M1131 644h0M1108 620h0M1157 614h0M1165 626h0M1119 605h0M1161 580h0M1149 609h0M1126 639h0M1141 664h0M1129 581h0M1146 595h0M1149 637h0M1152 636h0M1154 631h0M1130 637h0M1156 615h0M1137 632h0M1151 606h0M1138 606h0M1143 618h0M1156 613h0M1127 623h0M1128 628h0M1141 610h0M1142 587h0M1114 597h0M1140 571h0M1146 625h0M1144 583h0M1141 610h0M1133 610h0M1155 615h0M1128 638h0M1131 620h0M1170 619h0M1154 659h0M1144 641h0M1148 592h0M1139 613h0M1156 675h0M1146 603h0M1133 640h0M1150 603h0M1139 618h0M1156 584h0M1123 633h0M1131 608h0M1144 619h0M1151 601h0M1142 587h0M1162 623h0M1132 637h0M1130 604h0M1148 613h0M1150 648h0M1141 627h0M1143 605h0M1146 626h0M1115 639h0M1138 642h0M1152 638h0M1137 605h0M1137 655h0M1130 614h0M1143 607h0M1136 660h0M1125 621h0M1120 639h0M1135 600h0M1138 615h0M1135 606h0M1145 621h0M1138 638h0M1145 604h0M1121 589h0M1134 610h0M1160 602h0M1143 620h0M1156 627h0M1153 643h0M1160 632h0M1129 615h0M1137 627h0M1158 596h0M1147 612h0M1151 614h0M1137 632h0M1130 634h0M1154 647h0M1147 630h0M1120 617h0M1144 633h0M1122 597h0M1139 606h0M1164 614h0M1140 639h0M1130 623h0M1150 613h0M1140 608h0M1133 597h0M1138 591h0" stroke="#62b22a" stroke-width="2" stroke-linecap="round"/>
<path d="M1139 558h0M1157 599h0M1150 631h0M1156 625h0M1122 624h0M1139 625h0M1151 629h0M1165 600h0M1102 592h0M1160 622h0M1121 614h0M1144 648h0M1149 611h0M1157 574h0M1132 636h0M1140 626h0M1133 582h0M1143 611h0M1166 610h0M1134 633h0M1146 615h0M1137 624h0M1154 607h0M1137 628h0M1146 635h0M1136 609h0M1153 589h0M1118 604h0M1159 624h0M1130 620h0M1155 588h0M1148 613h0M1132 650h0M1142 586h0M1143 604h0M1150 642h0M1112 630h0M1139 647h0M1126 618h0M1135 594h0M1143 608h0M1105 609h0M1146 602h0M1148 578h0M1127 624h0M1148 596h0M1139 584h0M1148 614h0M1166 608h0M1148 599h0M1161 662h0M1169 603h0M1150 586h0M1150 638h0M1155 614h0M1141 642h0M1160 622h0M1130 595h0M1128 634h0M1135 618h0M1136 616h0M1136 628h0M1143 589h0M1145 634h0M1159 580h0M1154 578h0M1127 622h0M1143 601h0M1157 579h0M1122 579h0M1151 612h0M1155 612h0M1130 644h0M1129 605h0M1153 632h0M1147 603h0M1143 621h0M1143 587h0M1136 611h0M1147 619h0M1144 615h0M1155 597h0M1128 603h0M1140 622h0M1141 598h0M1138 615h0M1156 619h0M1157 655h0M1162 596h0M1135 616h0M1128 625h0M1116 609h0M1142 626h0M1149 603h0M1136 611h0M1149 638h0M1172 615h0M1162 611h0M1152 590h0M1141 601h0M1163 626h0M1139 652h0M1149 657h0M1123 633h0M1148 661h0M1147 621h0M1160 582h0M1135 590h0M1133 628h0M1139 597h0M1156 632h0M1131 610h0M1152 634h0M1144 668h0M1132 624h0M1124 636h0M1142 630h0M1124 586h0M1153 609h0M1160 582h0M1138 613h0M1135 621h0M1126 592h0M1148 654h0M1138 624h0M1148 600h0M1139 627h0M1132 641h0M1132 620h0M1132 602h0M1135 625h0M1138 606h0M1157 584h0M1157 610h0M1132 600h0M1149 621h0M1145 632h0M1123 641h0M1122 612h0M1166 622h0M1150 613h0M1151 640h0M1129 588h0M1137 613h0M1134 606h0M1117 621h0M1154 619h0M1143 608h0M1144 568h0M1155 593h0M1137 610h0M1135 612h0M1134 585h0M1150 588h0M1119 622h0M1131 623h0M1142 625h0M1126 601h0M1152 619h0M1114 645h0M1122 638h0M1109 600h0M1101 597h0M1110 661h0M1100 623h0M1101 633h0M1106 639h0M1114 615h0M1098 624h0M1104 577h0M1129 609h0M1130 682h0M1091 584h0M1118 606h0M1115 639h0M1127 603h0M1127 614h0M1131 636h0M1117 662h0M1116 578h0M1137 594h0M1130 647h0M1103 646h0M1111 647h0" stroke="#62b22a" stroke-width="3" stroke-linecap="round"/>
<path d="M1104 600h0M1138 684h0M1120 599h0M1111 634h0M1134 618h0M1126 604h0M1115 638h0M1097 601h0M1120 644h0M1125 643h0M1120 635h0M1117 633h0M1111 660h0M1092 655h0M1113 653h0M1125 655h0M1110 625h0M1144 597h0M1120 593h0M1110 599h0M1105 652h0M1110 616h0M1129 667h0M1118 602h0M1109 643h0M1118 620h0M1097 624h0M1109 667h0M1127 632h0M1120 639h0M1118 632h0M1105 607h0M1105 598h0M1111 691h0" stroke="#62b22a" stroke-width="4" stroke-linecap="round"/>
<path d="M1128 604h0M1119 634h0M1096 639h0M1110 620h0M1099 652h0M1113 604h0M1126 617h0M1150 667h0M1126 634h0M1113 664h0M1098 612h0M1114 619h0M1116 610h0M1110 643h0M1110 665h0M1132 659h0M1114 658h0M1101 595h0M1092 599h0M1117 619h0M1111 617h0M1127 688h0M1105 642h0M1110 638h0M1114 666h0M1113 626h0M1114 635h0M1099 624h0M1105 581h0M1114 652h0M1112 611h0" stroke="#62b22a" stroke-width="5" stroke-linecap="round"/>
<path d="M1106 609h0M1111 631h0M1107 693h0M1113 636h0M1117 599h0M1127 596h0M1113 626h0M1117 635h0M1134 669h0M1150 599h0M1127 665h0M1126 677h0M1125 664h0M1108 643h0M1108 609h0M1127 599h0M1113 625h0M1102 640h0M1100 619h0M1106 633h0M1120 631h0M1100 583h0M1078 631h0M1105 623h0M1138 584h0M1107 655h0M1109 626h0M1105 635h0M1124 624h0M1126 599h0" stroke="#62b22a" stroke-width="6" stroke-linecap="round"/>
<path d="M1090 713h0M1087 711h0M1094 694h0M1090 704h0M1092 695h0M1091 726h0M1086 709h0M1099 717h0M1093 706h0M1082 719h0M1088 714h0M1079 710h0M1099 707h0M1097 732h0M1095 696h0M1091 724h0M1112 702h0M1077 722h0M1085 711h0M1111 725h0M1093 717h0M1088 705h0" stroke="#3018e8" stroke-width="2" stroke-linecap="round"/>
<path d="M1088 718h0M1097 708h0M1099 703h0M1089 719h0M1087 702h0M1089 694h0M1100 709h0M1087 700h0M1084 695h0M1075 709h0M1102 718h0M1074 708h0M1099 698h0M1119 720h0M1083 720h0M1078 698h0M1088 710h0M1097 716h0M1106 712h0M1072 717h0M1095 706h0M1102 717h0M1090 720h0" stroke="#3018e8" stroke-width="3" stroke-linecap="round"/>
<path d="M1088 721h0M1112 727h0M1097 709h0M1089 718h0M1086 724h0M1080 724h0M1077 718h0M1095 711h0M1089 718h0M1078 703h0M1091 708h0M1080 708h0M1075 709h0M1089 722h0M1094 709h0" stroke="#3018e8" stroke-width="4" stroke-linecap="round"/>
<path d="M1041 738h0M1021 749h0M1017 755h0M1037 743h0M1028 760h0M1031 731h0M1018 741h0M1023 753h0M1002 751h0M1027 744h0M1012 754h0M1023 733h0M1031 740h0M1023 759h0M1015 745h0M1011 766h0M1027 746h0M1042 753h0M1020 736h0M1006 743h0M1022 757h0M1026 759h0M1033 735h0M1031 739h0M1011 748h0M1007 738h0M1035 747h0M1023 749h0M1029 748h0M1029 746h0M1041 767h0M1026 751h0M1042 748h0M1028 747h0M1039 758h0M1019 758h0M1024 746h0M1022 744h0M1046 759h0M1010 751h0M1032 744h0M1034 739h0M1045 756h0M1024 737h0M1029 747h0M1003 745h0M1021 749h0M1034 745h0M1007 755h0M1025 753h0M1038 743h0M1026 759h0M1011 749h0M1027 755h0M1003 744h0M1015 755h0M1021 736h0M1050 748h0M1032 750h0M1028 750h0M1025 759h0" stroke="#f04070" stroke-width="2" stroke-linecap="round"/>
<path d="M1034 756h0M1027 729h0M1045 750h0M1057 752h0M987 749h0M1012 759h0M1006 743h0M1022 753h0M1035 747h0M1024 749h0M1043 750h0M1018 736h0M1044 764h0M1018 740h0M1029 763h0M1022 764h0M1021 753h0M1029 746h0M1031 751h0" stroke="#f04070" stroke-width="3" stroke-linecap="round"/>
<path d="M945 740h0M937 759h0M962 756h0M929 733h0M954 728h0M941 732h0M974 719h0M954 734h0M964 720h0M938 749h0M943 746h0M961 769h0M959 737h0M943 748h0M944 725h0M953 738h0M942 733h0M950 750h0M949 740h0M958 760h0M938 743h0M965 776h0M944 741h0M960 758h0M947 729h0M959 753h0M952 769h0M944 740h0M950 744h0M948 734h0M967 713h0M948 752h0M954 756h0M947 730h0M951 743h0M969 748h0M938 757h0M960 750h0M948 751h0M951 751h0M962 749h0" stroke="#10a070" stroke-width="2" stroke-linecap="round"/>
<path d="M951 741h0M946 724h0M946 766h0M951 757h0M937 744h0M942 758h0M969 752h0M966 744h0M935 744h0M944 731h0M953 722h0M958 756h0M980 755h0M976 744h0M973 727h0M964 750h0M976 732h0M962 758h0M967 744h0" stroke="#10a070" stroke-width="4" stroke-linecap="round"/>
<path d="M936 715h0M935 711h0M931 701h0M950 709h0M940 707h0M948 719h0" stroke="#c8a098" stroke-width="2" stroke-linecap="round"/>
<path d="M943 709h0M945 709h0M935 707h0M925 713h0M923 707h0M935 707h0M938 713h0M940 716h0M935 704h0" stroke="#c8a098" stroke-width="3" stroke-linecap="round"/>
<path d="M944 700h0M954 708h0M932 713h0M930 696h0M944 697h0M946 705h0M927 691h0M924 717h0M931 706h0M944 703h0" stroke="#c8a098" stroke-width="4" stroke-linecap="round"/>
<line x1="84.5" y1="862.30" x2="375" y2="862.30" stroke="#b8b8b8" stroke-width="1" stroke-dasharray="2.2,1.3"/>
<line x1="84.5" y1="945.26" x2="375" y2="945.26" stroke="#b8b8b8" stroke-width="1" stroke-dasharray="2.2,1.3"/>
<line x1="84.5" y1="1028.22" x2="375" y2="1028.22" stroke="#b8b8b8" stroke-width="1" stroke-dasharray="2.2,1.3"/>
<line x1="84.5" y1="1111.18" x2="375" y2="1111.18" stroke="#b8b8b8" stroke-width="1" stroke-dasharray="2.2,1.3"/>
<line x1="84.85" y1="1163.5" x2="84.85" y2="1165.5" stroke="#000" stroke-width="0.8"/>
<line x1="106.15" y1="1163.5" x2="106.15" y2="1165.5" stroke="#000" stroke-width="0.8"/>
<line x1="122.67" y1="1163.5" x2="122.67" y2="1165.5" stroke="#000" stroke-width="0.8"/>
<line x1="136.17" y1="1163.5" x2="136.17" y2="1165.5" stroke="#000" stroke-width="0.8"/>
<line x1="147.59" y1="1163.5" x2="147.59" y2="1165.5" stroke="#000" stroke-width="0.8"/>
<line x1="157.48" y1="1163.5" x2="157.48" y2="1165.5" stroke="#000" stroke-width="0.8"/>
<line x1="166.20" y1="1163.5" x2="166.20" y2="1165.5" stroke="#000" stroke-width="0.8"/>
<line x1="174.00" y1="1163.5" x2="174.00" y2="1166.7" stroke="#000" stroke-width="1.1"/>
<line x1="225.33" y1="1163.5" x2="225.33" y2="1165.5" stroke="#000" stroke-width="0.8"/>
<line x1="255.35" y1="1163.5" x2="255.35" y2="1165.5" stroke="#000" stroke-width="0.8"/>
<line x1="276.65" y1="1163.5" x2="276.65" y2="1165.5" stroke="#000" stroke-width="0.8"/>
<line x1="293.17" y1="1163.5" x2="293.17" y2="1165.5" stroke="#000" stroke-width="0.8"/>
<line x1="306.67" y1="1163.5" x2="306.67" y2="1165.5" stroke="#000" stroke-width="0.8"/>
<line x1="318.09" y1="1163.5" x2="318.09" y2="1165.5" stroke="#000" stroke-width="0.8"/>
<line x1="327.98" y1="1163.5" x2="327.98" y2="1165.5" stroke="#000" stroke-width="0.8"/>
<line x1="336.70" y1="1163.5" x2="336.70" y2="1165.5" stroke="#000" stroke-width="0.8"/>
<line x1="344.50" y1="1163.5" x2="344.50" y2="1166.7" stroke="#000" stroke-width="1.1"/>
<line x1="81.3" y1="862.30" x2="84.5" y2="862.30" stroke="#000" stroke-width="1.1"/>
<line x1="81.3" y1="945.26" x2="84.5" y2="945.26" stroke="#000" stroke-width="1.1"/>
<line x1="81.3" y1="1028.22" x2="84.5" y2="1028.22" stroke="#000" stroke-width="1.1"/>
<line x1="81.3" y1="1111.18" x2="84.5" y2="1111.18" stroke="#000" stroke-width="1.1"/>
<line x1="97.5" y1="866.7" x2="361.7" y2="1108.8" stroke="#555" stroke-width="1.5" stroke-dasharray="5.6,2.5"/>
<polyline points="96.0,872.0 122.0,908.0 145.0,915.0 169.5,935.0 193.0,949.3 217.0,971.3 240.7,987.0 288.3,1028.2 337.0,1087.8 361.7,1150.0" fill="none" stroke="#6fb5e6" stroke-width="3.6" stroke-linejoin="round" stroke-linecap="butt"/>
<rect x="84.5" y="852.3" width="290.5" height="311.20000000000005" fill="none" stroke="#000" stroke-width="1.4"/>
<text x="156.86" y="1183.00" font-size="20.50" fill="#000" textLength="24.88" lengthAdjust="spacingAndGlyphs">10</text>
<text x="182.18" y="1175.70" font-size="14.30" fill="#000" textLength="7.95" lengthAdjust="spacingAndGlyphs">1</text>
<text x="327.19" y="1183.00" font-size="20.50" fill="#000" textLength="24.88" lengthAdjust="spacingAndGlyphs">10</text>
<text x="352.87" y="1175.70" font-size="14.30" fill="#000" textLength="7.95" lengthAdjust="spacingAndGlyphs">2</text>
<text x="44.86" y="869.80" font-size="20.50" fill="#000" textLength="24.88" lengthAdjust="spacingAndGlyphs">10</text>
<text x="70.71" y="862.50" font-size="14.30" fill="#000" textLength="7.95" lengthAdjust="spacingAndGlyphs">0</text>
<text x="33.93" y="952.76" font-size="20.50" fill="#000" textLength="24.88" lengthAdjust="spacingAndGlyphs">10</text>
<rect x="60.34" y="940.06" width="9.25" height="1.3" fill="#000"/>
<text x="70.87" y="945.46" font-size="14.30" fill="#000" textLength="7.95" lengthAdjust="spacingAndGlyphs">2</text>
<text x="33.24" y="1035.72" font-size="20.50" fill="#000" textLength="24.88" lengthAdjust="spacingAndGlyphs">10</text>
<rect x="59.64" y="1023.02" width="9.25" height="1.3" fill="#000"/>
<text x="70.57" y="1028.42" font-size="14.30" fill="#000" textLength="7.95" lengthAdjust="spacingAndGlyphs">4</text>
<text x="33.85" y="1118.68" font-size="20.50" fill="#000" textLength="24.88" lengthAdjust="spacingAndGlyphs">10</text>
<rect x="60.25" y="1105.98" width="9.25" height="1.3" fill="#000"/>
<text x="70.78" y="1111.38" font-size="14.30" fill="#000" textLength="7.95" lengthAdjust="spacingAndGlyphs">6</text>
<line x1="491.2" y1="857.50" x2="782.1" y2="857.50" stroke="#b8b8b8" stroke-width="1" stroke-dasharray="2.2,1.3"/>
<line x1="491.2" y1="910.95" x2="782.1" y2="910.95" stroke="#b8b8b8" stroke-width="1" stroke-dasharray="2.2,1.3"/>
<line x1="491.2" y1="964.40" x2="782.1" y2="964.40" stroke="#b8b8b8" stroke-width="1" stroke-dasharray="2.2,1.3"/>
<line x1="491.2" y1="1017.85" x2="782.1" y2="1017.85" stroke="#b8b8b8" stroke-width="1" stroke-dasharray="2.2,1.3"/>
<line x1="491.2" y1="1071.30" x2="782.1" y2="1071.30" stroke="#b8b8b8" stroke-width="1" stroke-dasharray="2.2,1.3"/>
<line x1="491.2" y1="1124.75" x2="782.1" y2="1124.75" stroke="#b8b8b8" stroke-width="1" stroke-dasharray="2.2,1.3"/>
<line x1="491.20" y1="1163.5" x2="491.20" y2="1165.5" stroke="#000" stroke-width="0.8"/>
<line x1="512.49" y1="1163.5" x2="512.49" y2="1165.5" stroke="#000" stroke-width="0.8"/>
<line x1="529.00" y1="1163.5" x2="529.00" y2="1165.5" stroke="#000" stroke-width="0.8"/>
<line x1="542.50" y1="1163.5" x2="542.50" y2="1165.5" stroke="#000" stroke-width="0.8"/>
<line x1="553.90" y1="1163.5" x2="553.90" y2="1165.5" stroke="#000" stroke-width="0.8"/>
<line x1="563.79" y1="1163.5" x2="563.79" y2="1165.5" stroke="#000" stroke-width="0.8"/>
<line x1="572.50" y1="1163.5" x2="572.50" y2="1165.5" stroke="#000" stroke-width="0.8"/>
<line x1="580.30" y1="1163.5" x2="580.30" y2="1166.7" stroke="#000" stroke-width="1.1"/>
<line x1="631.60" y1="1163.5" x2="631.60" y2="1165.5" stroke="#000" stroke-width="0.8"/>
<line x1="661.60" y1="1163.5" x2="661.60" y2="1165.5" stroke="#000" stroke-width="0.8"/>
<line x1="682.89" y1="1163.5" x2="682.89" y2="1165.5" stroke="#000" stroke-width="0.8"/>
<line x1="699.40" y1="1163.5" x2="699.40" y2="1165.5" stroke="#000" stroke-width="0.8"/>
<line x1="712.90" y1="1163.5" x2="712.90" y2="1165.5" stroke="#000" stroke-width="0.8"/>
<line x1="724.30" y1="1163.5" x2="724.30" y2="1165.5" stroke="#000" stroke-width="0.8"/>
<line x1="734.19" y1="1163.5" x2="734.19" y2="1165.5" stroke="#000" stroke-width="0.8"/>
<line x1="742.90" y1="1163.5" x2="742.90" y2="1165.5" stroke="#000" stroke-width="0.8"/>
<line x1="750.70" y1="1163.5" x2="750.70" y2="1166.7" stroke="#000" stroke-width="1.1"/>
<line x1="488.0" y1="857.50" x2="491.2" y2="857.50" stroke="#000" stroke-width="1.1"/>
<line x1="488.0" y1="910.95" x2="491.2" y2="910.95" stroke="#000" stroke-width="1.1"/>
<line x1="488.0" y1="964.40" x2="491.2" y2="964.40" stroke="#000" stroke-width="1.1"/>
<line x1="488.0" y1="1017.85" x2="491.2" y2="1017.85" stroke="#000" stroke-width="1.1"/>
<line x1="488.0" y1="1071.30" x2="491.2" y2="1071.30" stroke="#000" stroke-width="1.1"/>
<line x1="488.0" y1="1124.75" x2="491.2" y2="1124.75" stroke="#000" stroke-width="1.1"/>
<line x1="489.2" y1="1162.11" x2="491.2" y2="1162.11" stroke="#000" stroke-width="0.8"/>
<line x1="489.2" y1="1152.70" x2="491.2" y2="1152.70" stroke="#000" stroke-width="0.8"/>
<line x1="489.2" y1="1146.02" x2="491.2" y2="1146.02" stroke="#000" stroke-width="0.8"/>
<line x1="489.2" y1="1140.84" x2="491.2" y2="1140.84" stroke="#000" stroke-width="0.8"/>
<line x1="489.2" y1="1136.61" x2="491.2" y2="1136.61" stroke="#000" stroke-width="0.8"/>
<line x1="489.2" y1="1133.03" x2="491.2" y2="1133.03" stroke="#000" stroke-width="0.8"/>
<line x1="489.2" y1="1129.93" x2="491.2" y2="1129.93" stroke="#000" stroke-width="0.8"/>
<line x1="489.2" y1="1127.20" x2="491.2" y2="1127.20" stroke="#000" stroke-width="0.8"/>
<line x1="489.2" y1="1108.66" x2="491.2" y2="1108.66" stroke="#000" stroke-width="0.8"/>
<line x1="489.2" y1="1099.25" x2="491.2" y2="1099.25" stroke="#000" stroke-width="0.8"/>
<line x1="489.2" y1="1092.57" x2="491.2" y2="1092.57" stroke="#000" stroke-width="0.8"/>
<line x1="489.2" y1="1087.39" x2="491.2" y2="1087.39" stroke="#000" stroke-width="0.8"/>
<line x1="489.2" y1="1083.16" x2="491.2" y2="1083.16" stroke="#000" stroke-width="0.8"/>
<line x1="489.2" y1="1079.58" x2="491.2" y2="1079.58" stroke="#000" stroke-width="0.8"/>
<line x1="489.2" y1="1076.48" x2="491.2" y2="1076.48" stroke="#000" stroke-width="0.8"/>
<line x1="489.2" y1="1073.75" x2="491.2" y2="1073.75" stroke="#000" stroke-width="0.8"/>
<line x1="489.2" y1="1055.21" x2="491.2" y2="1055.21" stroke="#000" stroke-width="0.8"/>
<line x1="489.2" y1="1045.80" x2="491.2" y2="1045.80" stroke="#000" stroke-width="0.8"/>
<line x1="489.2" y1="1039.12" x2="491.2" y2="1039.12" stroke="#000" stroke-width="0.8"/>
<line x1="489.2" y1="1033.94" x2="491.2" y2="1033.94" stroke="#000" stroke-width="0.8"/>
<line x1="489.2" y1="1029.71" x2="491.2" y2="1029.71" stroke="#000" stroke-width="0.8"/>
<line x1="489.2" y1="1026.13" x2="491.2" y2="1026.13" stroke="#000" stroke-width="0.8"/>
<line x1="489.2" y1="1023.03" x2="491.2" y2="1023.03" stroke="#000" stroke-width="0.8"/>
<line x1="489.2" y1="1020.30" x2="491.2" y2="1020.30" stroke="#000" stroke-width="0.8"/>
<line x1="489.2" y1="1001.76" x2="491.2" y2="1001.76" stroke="#000" stroke-width="0.8"/>
<line x1="489.2" y1="992.35" x2="491.2" y2="992.35" stroke="#000" stroke-width="0.8"/>
<line x1="489.2" y1="985.67" x2="491.2" y2="985.67" stroke="#000" stroke-width="0.8"/>
<line x1="489.2" y1="980.49" x2="491.2" y2="980.49" stroke="#000" stroke-width="0.8"/>
<line x1="489.2" y1="976.26" x2="491.2" y2="976.26" stroke="#000" stroke-width="0.8"/>
<line x1="489.2" y1="972.68" x2="491.2" y2="972.68" stroke="#000" stroke-width="0.8"/>
<line x1="489.2" y1="969.58" x2="491.2" y2="969.58" stroke="#000" stroke-width="0.8"/>
<line x1="489.2" y1="966.85" x2="491.2" y2="966.85" stroke="#000" stroke-width="0.8"/>
<line x1="489.2" y1="948.31" x2="491.2" y2="948.31" stroke="#000" stroke-width="0.8"/>
<line x1="489.2" y1="938.90" x2="491.2" y2="938.90" stroke="#000" stroke-width="0.8"/>
<line x1="489.2" y1="932.22" x2="491.2" y2="932.22" stroke="#000" stroke-width="0.8"/>
<line x1="489.2" y1="927.04" x2="491.2" y2="927.04" stroke="#000" stroke-width="0.8"/>
<line x1="489.2" y1="922.81" x2="491.2" y2="922.81" stroke="#000" stroke-width="0.8"/>
<line x1="489.2" y1="919.23" x2="491.2" y2="919.23" stroke="#000" stroke-width="0.8"/>
<line x1="489.2" y1="916.13" x2="491.2" y2="916.13" stroke="#000" stroke-width="0.8"/>
<line x1="489.2" y1="913.40" x2="491.2" y2="913.40" stroke="#000" stroke-width="0.8"/>
<line x1="489.2" y1="894.86" x2="491.2" y2="894.86" stroke="#000" stroke-width="0.8"/>
<line x1="489.2" y1="885.45" x2="491.2" y2="885.45" stroke="#000" stroke-width="0.8"/>
<line x1="489.2" y1="878.77" x2="491.2" y2="878.77" stroke="#000" stroke-width="0.8"/>
<line x1="489.2" y1="873.59" x2="491.2" y2="873.59" stroke="#000" stroke-width="0.8"/>
<line x1="489.2" y1="869.36" x2="491.2" y2="869.36" stroke="#000" stroke-width="0.8"/>
<line x1="489.2" y1="865.78" x2="491.2" y2="865.78" stroke="#000" stroke-width="0.8"/>
<line x1="489.2" y1="862.68" x2="491.2" y2="862.68" stroke="#000" stroke-width="0.8"/>
<line x1="489.2" y1="859.95" x2="491.2" y2="859.95" stroke="#000" stroke-width="0.8"/>
<line x1="504.3" y1="866.7" x2="768.3" y2="1148.3" stroke="#555" stroke-width="1.5" stroke-dasharray="5.6,2.5"/>
<polyline points="504.3,874.0 528.3,915.0 553.3,925.0 576.7,941.0 600.0,965.0 625.0,978.3 648.3,1005.0 673.3,1029.3 696.7,1046.0 721.7,1071.7 746.7,1097.3 769.3,1129.0" fill="none" stroke="#f38a8a" stroke-width="3.6" stroke-linejoin="round" stroke-linecap="butt"/>
<rect x="491.2" y="852.3" width="290.90000000000003" height="311.20000000000005" fill="none" stroke="#000" stroke-width="1.4"/>
<text x="563.16" y="1183.00" font-size="20.50" fill="#000" textLength="24.88" lengthAdjust="spacingAndGlyphs">10</text>
<text x="588.48" y="1175.70" font-size="14.30" fill="#000" textLength="7.95" lengthAdjust="spacingAndGlyphs">1</text>
<text x="733.39" y="1183.00" font-size="20.50" fill="#000" textLength="24.88" lengthAdjust="spacingAndGlyphs">10</text>
<text x="759.07" y="1175.70" font-size="14.30" fill="#000" textLength="7.95" lengthAdjust="spacingAndGlyphs">2</text>
<text x="451.56" y="865.00" font-size="20.50" fill="#000" textLength="24.88" lengthAdjust="spacingAndGlyphs">10</text>
<text x="477.41" y="857.70" font-size="14.30" fill="#000" textLength="7.95" lengthAdjust="spacingAndGlyphs">0</text>
<text x="440.98" y="918.45" font-size="20.50" fill="#000" textLength="24.88" lengthAdjust="spacingAndGlyphs">10</text>
<rect x="467.38" y="905.75" width="9.25" height="1.3" fill="#000"/>
<text x="477.55" y="911.15" font-size="14.30" fill="#000" textLength="7.95" lengthAdjust="spacingAndGlyphs">1</text>
<text x="440.63" y="971.90" font-size="20.50" fill="#000" textLength="24.88" lengthAdjust="spacingAndGlyphs">10</text>
<rect x="467.04" y="959.20" width="9.25" height="1.3" fill="#000"/>
<text x="477.57" y="964.60" font-size="14.30" fill="#000" textLength="7.95" lengthAdjust="spacingAndGlyphs">2</text>
<text x="440.37" y="1025.35" font-size="20.50" fill="#000" textLength="24.88" lengthAdjust="spacingAndGlyphs">10</text>
<rect x="466.77" y="1012.65" width="9.25" height="1.3" fill="#000"/>
<text x="477.48" y="1018.05" font-size="14.30" fill="#000" textLength="7.95" lengthAdjust="spacingAndGlyphs">3</text>
<text x="439.94" y="1078.80" font-size="20.50" fill="#000" textLength="24.88" lengthAdjust="spacingAndGlyphs">10</text>
<rect x="466.34" y="1066.10" width="9.25" height="1.3" fill="#000"/>
<text x="477.27" y="1071.50" font-size="14.30" fill="#000" textLength="7.95" lengthAdjust="spacingAndGlyphs">4</text>
<text x="440.37" y="1132.25" font-size="20.50" fill="#000" textLength="24.88" lengthAdjust="spacingAndGlyphs">10</text>
<rect x="466.77" y="1119.55" width="9.25" height="1.3" fill="#000"/>
<text x="477.45" y="1124.95" font-size="14.30" fill="#000" textLength="7.95" lengthAdjust="spacingAndGlyphs">5</text>
<line x1="898.7" y1="863.30" x2="1189.5" y2="863.30" stroke="#b8b8b8" stroke-width="1" stroke-dasharray="2.2,1.3"/>
<line x1="898.7" y1="924.80" x2="1189.5" y2="924.80" stroke="#b8b8b8" stroke-width="1" stroke-dasharray="2.2,1.3"/>
<line x1="898.7" y1="986.30" x2="1189.5" y2="986.30" stroke="#b8b8b8" stroke-width="1" stroke-dasharray="2.2,1.3"/>
<line x1="898.7" y1="1047.80" x2="1189.5" y2="1047.80" stroke="#b8b8b8" stroke-width="1" stroke-dasharray="2.2,1.3"/>
<line x1="898.7" y1="1109.30" x2="1189.5" y2="1109.30" stroke="#b8b8b8" stroke-width="1" stroke-dasharray="2.2,1.3"/>
<line x1="900.83" y1="1163.5" x2="900.83" y2="1165.5" stroke="#000" stroke-width="0.8"/>
<line x1="914.85" y1="1163.5" x2="914.85" y2="1165.5" stroke="#000" stroke-width="0.8"/>
<line x1="925.72" y1="1163.5" x2="925.72" y2="1165.5" stroke="#000" stroke-width="0.8"/>
<line x1="934.61" y1="1163.5" x2="934.61" y2="1165.5" stroke="#000" stroke-width="0.8"/>
<line x1="942.12" y1="1163.5" x2="942.12" y2="1165.5" stroke="#000" stroke-width="0.8"/>
<line x1="948.63" y1="1163.5" x2="948.63" y2="1165.5" stroke="#000" stroke-width="0.8"/>
<line x1="954.37" y1="1163.5" x2="954.37" y2="1165.5" stroke="#000" stroke-width="0.8"/>
<line x1="959.50" y1="1163.5" x2="959.50" y2="1166.7" stroke="#000" stroke-width="1.1"/>
<line x1="993.28" y1="1163.5" x2="993.28" y2="1165.5" stroke="#000" stroke-width="0.8"/>
<line x1="1013.03" y1="1163.5" x2="1013.03" y2="1165.5" stroke="#000" stroke-width="0.8"/>
<line x1="1027.05" y1="1163.5" x2="1027.05" y2="1165.5" stroke="#000" stroke-width="0.8"/>
<line x1="1037.92" y1="1163.5" x2="1037.92" y2="1165.5" stroke="#000" stroke-width="0.8"/>
<line x1="1046.81" y1="1163.5" x2="1046.81" y2="1165.5" stroke="#000" stroke-width="0.8"/>
<line x1="1054.32" y1="1163.5" x2="1054.32" y2="1165.5" stroke="#000" stroke-width="0.8"/>
<line x1="1060.83" y1="1163.5" x2="1060.83" y2="1165.5" stroke="#000" stroke-width="0.8"/>
<line x1="1066.57" y1="1163.5" x2="1066.57" y2="1165.5" stroke="#000" stroke-width="0.8"/>
<line x1="1071.70" y1="1163.5" x2="1071.70" y2="1166.7" stroke="#000" stroke-width="1.1"/>
<line x1="1105.48" y1="1163.5" x2="1105.48" y2="1165.5" stroke="#000" stroke-width="0.8"/>
<line x1="1125.23" y1="1163.5" x2="1125.23" y2="1165.5" stroke="#000" stroke-width="0.8"/>
<line x1="1139.25" y1="1163.5" x2="1139.25" y2="1165.5" stroke="#000" stroke-width="0.8"/>
<line x1="1150.12" y1="1163.5" x2="1150.12" y2="1165.5" stroke="#000" stroke-width="0.8"/>
<line x1="1159.01" y1="1163.5" x2="1159.01" y2="1165.5" stroke="#000" stroke-width="0.8"/>
<line x1="1166.52" y1="1163.5" x2="1166.52" y2="1165.5" stroke="#000" stroke-width="0.8"/>
<line x1="1173.03" y1="1163.5" x2="1173.03" y2="1165.5" stroke="#000" stroke-width="0.8"/>
<line x1="1178.77" y1="1163.5" x2="1178.77" y2="1165.5" stroke="#000" stroke-width="0.8"/>
<line x1="1183.90" y1="1163.5" x2="1183.90" y2="1166.7" stroke="#000" stroke-width="1.1"/>
<line x1="895.5" y1="863.30" x2="898.7" y2="863.30" stroke="#000" stroke-width="1.1"/>
<line x1="895.5" y1="924.80" x2="898.7" y2="924.80" stroke="#000" stroke-width="1.1"/>
<line x1="895.5" y1="986.30" x2="898.7" y2="986.30" stroke="#000" stroke-width="1.1"/>
<line x1="895.5" y1="1047.80" x2="898.7" y2="1047.80" stroke="#000" stroke-width="1.1"/>
<line x1="895.5" y1="1109.30" x2="898.7" y2="1109.30" stroke="#000" stroke-width="1.1"/>
<line x1="911.7" y1="866.7" x2="1175.7" y2="1148.3" stroke="#555" stroke-width="1.5" stroke-dasharray="5.6,2.5"/>
<polyline points="911.7,877.7 932.3,897.3 951.7,904.3 972.3,922.7 993.3,934.3 1013.3,948.3 1035.0,963.3 1055.0,981.0 1076.0,996.7 1096.7,1017.7 1116.7,1040.0 1136.7,1063.3 1156.7,1087.3 1177.3,1103.3" fill="none" stroke="#9bb05e" stroke-width="3.6" stroke-linejoin="round" stroke-linecap="butt"/>
<rect x="898.7" y="852.3" width="290.79999999999995" height="311.20000000000005" fill="none" stroke="#000" stroke-width="1.4"/>
<text x="942.36" y="1183.00" font-size="20.50" fill="#000" textLength="24.88" lengthAdjust="spacingAndGlyphs">10</text>
<text x="967.68" y="1175.70" font-size="14.30" fill="#000" textLength="7.95" lengthAdjust="spacingAndGlyphs">1</text>
<text x="1054.39" y="1183.00" font-size="20.50" fill="#000" textLength="24.88" lengthAdjust="spacingAndGlyphs">10</text>
<text x="1080.07" y="1175.70" font-size="14.30" fill="#000" textLength="7.95" lengthAdjust="spacingAndGlyphs">2</text>
<text x="1166.46" y="1183.00" font-size="20.50" fill="#000" textLength="24.88" lengthAdjust="spacingAndGlyphs">10</text>
<text x="1192.32" y="1175.70" font-size="14.30" fill="#000" textLength="7.95" lengthAdjust="spacingAndGlyphs">3</text>
<text x="859.06" y="870.80" font-size="20.50" fill="#000" textLength="24.88" lengthAdjust="spacingAndGlyphs">10</text>
<text x="884.91" y="863.50" font-size="14.30" fill="#000" textLength="7.95" lengthAdjust="spacingAndGlyphs">0</text>
<text x="848.13" y="932.30" font-size="20.50" fill="#000" textLength="24.88" lengthAdjust="spacingAndGlyphs">10</text>
<rect x="874.54" y="919.60" width="9.25" height="1.3" fill="#000"/>
<text x="885.07" y="925.00" font-size="14.30" fill="#000" textLength="7.95" lengthAdjust="spacingAndGlyphs">2</text>
<text x="847.44" y="993.80" font-size="20.50" fill="#000" textLength="24.88" lengthAdjust="spacingAndGlyphs">10</text>
<rect x="873.84" y="981.10" width="9.25" height="1.3" fill="#000"/>
<text x="884.77" y="986.50" font-size="14.30" fill="#000" textLength="7.95" lengthAdjust="spacingAndGlyphs">4</text>
<text x="848.05" y="1055.30" font-size="20.50" fill="#000" textLength="24.88" lengthAdjust="spacingAndGlyphs">10</text>
<rect x="874.45" y="1042.60" width="9.25" height="1.3" fill="#000"/>
<text x="884.98" y="1048.00" font-size="14.30" fill="#000" textLength="7.95" lengthAdjust="spacingAndGlyphs">6</text>
<text x="847.94" y="1116.80" font-size="20.50" fill="#000" textLength="24.88" lengthAdjust="spacingAndGlyphs">10</text>
<rect x="874.34" y="1104.10" width="9.25" height="1.3" fill="#000"/>
<text x="884.97" y="1109.50" font-size="14.30" fill="#000" textLength="7.95" lengthAdjust="spacingAndGlyphs">8</text>
<line x1="84.3" y1="1335.90" x2="375.3" y2="1335.90" stroke="#b8b8b8" stroke-width="1" stroke-dasharray="2.2,1.3"/>
<line x1="84.3" y1="1454.40" x2="375.3" y2="1454.40" stroke="#b8b8b8" stroke-width="1" stroke-dasharray="2.2,1.3"/>
<line x1="87.07" y1="1544" x2="87.07" y2="1546.0" stroke="#000" stroke-width="0.8"/>
<line x1="106.66" y1="1544" x2="106.66" y2="1546.0" stroke="#000" stroke-width="0.8"/>
<line x1="120.55" y1="1544" x2="120.55" y2="1546.0" stroke="#000" stroke-width="0.8"/>
<line x1="131.33" y1="1544" x2="131.33" y2="1546.0" stroke="#000" stroke-width="0.8"/>
<line x1="140.13" y1="1544" x2="140.13" y2="1546.0" stroke="#000" stroke-width="0.8"/>
<line x1="147.57" y1="1544" x2="147.57" y2="1546.0" stroke="#000" stroke-width="0.8"/>
<line x1="154.02" y1="1544" x2="154.02" y2="1546.0" stroke="#000" stroke-width="0.8"/>
<line x1="159.71" y1="1544" x2="159.71" y2="1546.0" stroke="#000" stroke-width="0.8"/>
<line x1="164.80" y1="1544" x2="164.80" y2="1547.2" stroke="#000" stroke-width="1.1"/>
<line x1="198.27" y1="1544" x2="198.27" y2="1546.0" stroke="#000" stroke-width="0.8"/>
<line x1="217.86" y1="1544" x2="217.86" y2="1546.0" stroke="#000" stroke-width="0.8"/>
<line x1="231.75" y1="1544" x2="231.75" y2="1546.0" stroke="#000" stroke-width="0.8"/>
<line x1="242.53" y1="1544" x2="242.53" y2="1546.0" stroke="#000" stroke-width="0.8"/>
<line x1="251.33" y1="1544" x2="251.33" y2="1546.0" stroke="#000" stroke-width="0.8"/>
<line x1="258.77" y1="1544" x2="258.77" y2="1546.0" stroke="#000" stroke-width="0.8"/>
<line x1="265.22" y1="1544" x2="265.22" y2="1546.0" stroke="#000" stroke-width="0.8"/>
<line x1="270.91" y1="1544" x2="270.91" y2="1546.0" stroke="#000" stroke-width="0.8"/>
<line x1="276.00" y1="1544" x2="276.00" y2="1547.2" stroke="#000" stroke-width="1.1"/>
<line x1="309.47" y1="1544" x2="309.47" y2="1546.0" stroke="#000" stroke-width="0.8"/>
<line x1="329.06" y1="1544" x2="329.06" y2="1546.0" stroke="#000" stroke-width="0.8"/>
<line x1="342.95" y1="1544" x2="342.95" y2="1546.0" stroke="#000" stroke-width="0.8"/>
<line x1="353.73" y1="1544" x2="353.73" y2="1546.0" stroke="#000" stroke-width="0.8"/>
<line x1="362.53" y1="1544" x2="362.53" y2="1546.0" stroke="#000" stroke-width="0.8"/>
<line x1="369.97" y1="1544" x2="369.97" y2="1546.0" stroke="#000" stroke-width="0.8"/>
<line x1="81.1" y1="1335.90" x2="84.3" y2="1335.90" stroke="#000" stroke-width="1.1"/>
<line x1="81.1" y1="1454.40" x2="84.3" y2="1454.40" stroke="#000" stroke-width="1.1"/>
<line x1="82.3" y1="1537.23" x2="84.3" y2="1537.23" stroke="#000" stroke-width="0.8"/>
<line x1="82.3" y1="1516.36" x2="84.3" y2="1516.36" stroke="#000" stroke-width="0.8"/>
<line x1="82.3" y1="1501.56" x2="84.3" y2="1501.56" stroke="#000" stroke-width="0.8"/>
<line x1="82.3" y1="1490.07" x2="84.3" y2="1490.07" stroke="#000" stroke-width="0.8"/>
<line x1="82.3" y1="1480.69" x2="84.3" y2="1480.69" stroke="#000" stroke-width="0.8"/>
<line x1="82.3" y1="1472.76" x2="84.3" y2="1472.76" stroke="#000" stroke-width="0.8"/>
<line x1="82.3" y1="1465.88" x2="84.3" y2="1465.88" stroke="#000" stroke-width="0.8"/>
<line x1="82.3" y1="1459.82" x2="84.3" y2="1459.82" stroke="#000" stroke-width="0.8"/>
<line x1="82.3" y1="1418.73" x2="84.3" y2="1418.73" stroke="#000" stroke-width="0.8"/>
<line x1="82.3" y1="1397.86" x2="84.3" y2="1397.86" stroke="#000" stroke-width="0.8"/>
<line x1="82.3" y1="1383.06" x2="84.3" y2="1383.06" stroke="#000" stroke-width="0.8"/>
<line x1="82.3" y1="1371.57" x2="84.3" y2="1371.57" stroke="#000" stroke-width="0.8"/>
<line x1="82.3" y1="1362.19" x2="84.3" y2="1362.19" stroke="#000" stroke-width="0.8"/>
<line x1="82.3" y1="1354.26" x2="84.3" y2="1354.26" stroke="#000" stroke-width="0.8"/>
<line x1="82.3" y1="1347.38" x2="84.3" y2="1347.38" stroke="#000" stroke-width="0.8"/>
<line x1="82.3" y1="1341.32" x2="84.3" y2="1341.32" stroke="#000" stroke-width="0.8"/>
<line x1="82.3" y1="1300.23" x2="84.3" y2="1300.23" stroke="#000" stroke-width="0.8"/>
<line x1="82.3" y1="1279.36" x2="84.3" y2="1279.36" stroke="#000" stroke-width="0.8"/>
<line x1="82.3" y1="1264.56" x2="84.3" y2="1264.56" stroke="#000" stroke-width="0.8"/>
<line x1="82.3" y1="1253.07" x2="84.3" y2="1253.07" stroke="#000" stroke-width="0.8"/>
<line x1="82.3" y1="1243.69" x2="84.3" y2="1243.69" stroke="#000" stroke-width="0.8"/>
<line x1="82.3" y1="1235.76" x2="84.3" y2="1235.76" stroke="#000" stroke-width="0.8"/>
<polyline points="96.7,1530.3 116.7,1511.0 135.0,1493.7 154.0,1476.3 172.7,1417.0 191.7,1355.3 210.7,1366.0 229.3,1398.0 248.3,1396.3 267.3,1383.7 286.0,1319.3 305.0,1279.7 324.0,1254.3 343.3,1247.7 362.7,1247.7" fill="none" stroke="#6fb5e6" stroke-width="3.6" stroke-linejoin="round" stroke-linecap="butt"/>
<rect x="84.3" y="1233.3" width="291.0" height="310.70000000000005" fill="none" stroke="#000" stroke-width="1.4"/>
<text x="147.66" y="1563.50" font-size="20.50" fill="#000" textLength="24.88" lengthAdjust="spacingAndGlyphs">10</text>
<text x="172.98" y="1556.20" font-size="14.30" fill="#000" textLength="7.95" lengthAdjust="spacingAndGlyphs">1</text>
<text x="258.69" y="1563.50" font-size="20.50" fill="#000" textLength="24.88" lengthAdjust="spacingAndGlyphs">10</text>
<text x="284.37" y="1556.20" font-size="14.30" fill="#000" textLength="7.95" lengthAdjust="spacingAndGlyphs">2</text>
<text x="44.72" y="1343.40" font-size="20.50" fill="#000" textLength="24.88" lengthAdjust="spacingAndGlyphs">10</text>
<text x="70.55" y="1336.10" font-size="14.30" fill="#000" textLength="7.95" lengthAdjust="spacingAndGlyphs">5</text>
<text x="44.29" y="1461.90" font-size="20.50" fill="#000" textLength="24.88" lengthAdjust="spacingAndGlyphs">10</text>
<text x="70.37" y="1454.60" font-size="14.30" fill="#000" textLength="7.95" lengthAdjust="spacingAndGlyphs">4</text>
<line x1="491.2" y1="1280.00" x2="782.1" y2="1280.00" stroke="#b8b8b8" stroke-width="1" stroke-dasharray="2.2,1.3"/>
<line x1="491.2" y1="1413.00" x2="782.1" y2="1413.00" stroke="#b8b8b8" stroke-width="1" stroke-dasharray="2.2,1.3"/>
<line x1="494.16" y1="1544" x2="494.16" y2="1546.0" stroke="#000" stroke-width="0.8"/>
<line x1="507.22" y1="1544" x2="507.22" y2="1546.0" stroke="#000" stroke-width="0.8"/>
<line x1="517.34" y1="1544" x2="517.34" y2="1546.0" stroke="#000" stroke-width="0.8"/>
<line x1="525.62" y1="1544" x2="525.62" y2="1546.0" stroke="#000" stroke-width="0.8"/>
<line x1="532.61" y1="1544" x2="532.61" y2="1546.0" stroke="#000" stroke-width="0.8"/>
<line x1="538.67" y1="1544" x2="538.67" y2="1546.0" stroke="#000" stroke-width="0.8"/>
<line x1="544.02" y1="1544" x2="544.02" y2="1546.0" stroke="#000" stroke-width="0.8"/>
<line x1="548.80" y1="1544" x2="548.80" y2="1547.2" stroke="#000" stroke-width="1.1"/>
<line x1="580.26" y1="1544" x2="580.26" y2="1546.0" stroke="#000" stroke-width="0.8"/>
<line x1="598.66" y1="1544" x2="598.66" y2="1546.0" stroke="#000" stroke-width="0.8"/>
<line x1="611.72" y1="1544" x2="611.72" y2="1546.0" stroke="#000" stroke-width="0.8"/>
<line x1="621.84" y1="1544" x2="621.84" y2="1546.0" stroke="#000" stroke-width="0.8"/>
<line x1="630.12" y1="1544" x2="630.12" y2="1546.0" stroke="#000" stroke-width="0.8"/>
<line x1="637.11" y1="1544" x2="637.11" y2="1546.0" stroke="#000" stroke-width="0.8"/>
<line x1="643.17" y1="1544" x2="643.17" y2="1546.0" stroke="#000" stroke-width="0.8"/>
<line x1="648.52" y1="1544" x2="648.52" y2="1546.0" stroke="#000" stroke-width="0.8"/>
<line x1="653.30" y1="1544" x2="653.30" y2="1547.2" stroke="#000" stroke-width="1.1"/>
<line x1="684.76" y1="1544" x2="684.76" y2="1546.0" stroke="#000" stroke-width="0.8"/>
<line x1="703.16" y1="1544" x2="703.16" y2="1546.0" stroke="#000" stroke-width="0.8"/>
<line x1="716.22" y1="1544" x2="716.22" y2="1546.0" stroke="#000" stroke-width="0.8"/>
<line x1="726.34" y1="1544" x2="726.34" y2="1546.0" stroke="#000" stroke-width="0.8"/>
<line x1="734.62" y1="1544" x2="734.62" y2="1546.0" stroke="#000" stroke-width="0.8"/>
<line x1="741.61" y1="1544" x2="741.61" y2="1546.0" stroke="#000" stroke-width="0.8"/>
<line x1="747.67" y1="1544" x2="747.67" y2="1546.0" stroke="#000" stroke-width="0.8"/>
<line x1="753.02" y1="1544" x2="753.02" y2="1546.0" stroke="#000" stroke-width="0.8"/>
<line x1="757.80" y1="1544" x2="757.80" y2="1547.2" stroke="#000" stroke-width="1.1"/>
<line x1="488.0" y1="1280.00" x2="491.2" y2="1280.00" stroke="#000" stroke-width="1.1"/>
<line x1="488.0" y1="1413.00" x2="491.2" y2="1413.00" stroke="#000" stroke-width="1.1"/>
<line x1="489.2" y1="1505.96" x2="491.2" y2="1505.96" stroke="#000" stroke-width="0.8"/>
<line x1="489.2" y1="1482.54" x2="491.2" y2="1482.54" stroke="#000" stroke-width="0.8"/>
<line x1="489.2" y1="1465.93" x2="491.2" y2="1465.93" stroke="#000" stroke-width="0.8"/>
<line x1="489.2" y1="1453.04" x2="491.2" y2="1453.04" stroke="#000" stroke-width="0.8"/>
<line x1="489.2" y1="1442.51" x2="491.2" y2="1442.51" stroke="#000" stroke-width="0.8"/>
<line x1="489.2" y1="1433.60" x2="491.2" y2="1433.60" stroke="#000" stroke-width="0.8"/>
<line x1="489.2" y1="1425.89" x2="491.2" y2="1425.89" stroke="#000" stroke-width="0.8"/>
<line x1="489.2" y1="1419.09" x2="491.2" y2="1419.09" stroke="#000" stroke-width="0.8"/>
<line x1="489.2" y1="1372.96" x2="491.2" y2="1372.96" stroke="#000" stroke-width="0.8"/>
<line x1="489.2" y1="1349.54" x2="491.2" y2="1349.54" stroke="#000" stroke-width="0.8"/>
<line x1="489.2" y1="1332.93" x2="491.2" y2="1332.93" stroke="#000" stroke-width="0.8"/>
<line x1="489.2" y1="1320.04" x2="491.2" y2="1320.04" stroke="#000" stroke-width="0.8"/>
<line x1="489.2" y1="1309.51" x2="491.2" y2="1309.51" stroke="#000" stroke-width="0.8"/>
<line x1="489.2" y1="1300.60" x2="491.2" y2="1300.60" stroke="#000" stroke-width="0.8"/>
<line x1="489.2" y1="1292.89" x2="491.2" y2="1292.89" stroke="#000" stroke-width="0.8"/>
<line x1="489.2" y1="1286.09" x2="491.2" y2="1286.09" stroke="#000" stroke-width="0.8"/>
<line x1="489.2" y1="1239.96" x2="491.2" y2="1239.96" stroke="#000" stroke-width="0.8"/>
<polyline points="504.3,1530.3 524.0,1511.3 542.7,1502.0 561.7,1508.7 580.0,1510.3 599.0,1502.0 617.7,1490.3 636.7,1466.0 655.7,1458.7 674.3,1443.0 693.3,1360.3 712.3,1349.7 731.7,1290.3 750.0,1247.7 769.3,1289.7" fill="none" stroke="#f38a8a" stroke-width="3.6" stroke-linejoin="round" stroke-linecap="butt"/>
<rect x="491.2" y="1233.3" width="290.90000000000003" height="310.70000000000005" fill="none" stroke="#000" stroke-width="1.4"/>
<text x="531.66" y="1563.50" font-size="20.50" fill="#000" textLength="24.88" lengthAdjust="spacingAndGlyphs">10</text>
<text x="556.98" y="1556.20" font-size="14.30" fill="#000" textLength="7.95" lengthAdjust="spacingAndGlyphs">1</text>
<text x="635.99" y="1563.50" font-size="20.50" fill="#000" textLength="24.88" lengthAdjust="spacingAndGlyphs">10</text>
<text x="661.67" y="1556.20" font-size="14.30" fill="#000" textLength="7.95" lengthAdjust="spacingAndGlyphs">2</text>
<text x="740.36" y="1563.50" font-size="20.50" fill="#000" textLength="24.88" lengthAdjust="spacingAndGlyphs">10</text>
<text x="766.22" y="1556.20" font-size="14.30" fill="#000" textLength="7.95" lengthAdjust="spacingAndGlyphs">3</text>
<text x="451.62" y="1287.50" font-size="20.50" fill="#000" textLength="24.88" lengthAdjust="spacingAndGlyphs">10</text>
<text x="477.45" y="1280.20" font-size="14.30" fill="#000" textLength="7.95" lengthAdjust="spacingAndGlyphs">5</text>
<text x="451.19" y="1420.50" font-size="20.50" fill="#000" textLength="24.88" lengthAdjust="spacingAndGlyphs">10</text>
<text x="477.27" y="1413.20" font-size="14.30" fill="#000" textLength="7.95" lengthAdjust="spacingAndGlyphs">4</text>
<line x1="898.3" y1="1386.70" x2="1189.8" y2="1386.70" stroke="#b8b8b8" stroke-width="1" stroke-dasharray="2.2,1.3"/>
<line x1="898.3" y1="1540.60" x2="1189.8" y2="1540.60" stroke="#b8b8b8" stroke-width="1" stroke-dasharray="2.2,1.3"/>
<line x1="901.18" y1="1544" x2="901.18" y2="1546.0" stroke="#000" stroke-width="0.8"/>
<line x1="918.54" y1="1544" x2="918.54" y2="1546.0" stroke="#000" stroke-width="0.8"/>
<line x1="930.86" y1="1544" x2="930.86" y2="1546.0" stroke="#000" stroke-width="0.8"/>
<line x1="940.42" y1="1544" x2="940.42" y2="1546.0" stroke="#000" stroke-width="0.8"/>
<line x1="948.23" y1="1544" x2="948.23" y2="1546.0" stroke="#000" stroke-width="0.8"/>
<line x1="954.83" y1="1544" x2="954.83" y2="1546.0" stroke="#000" stroke-width="0.8"/>
<line x1="960.54" y1="1544" x2="960.54" y2="1546.0" stroke="#000" stroke-width="0.8"/>
<line x1="965.59" y1="1544" x2="965.59" y2="1546.0" stroke="#000" stroke-width="0.8"/>
<line x1="970.10" y1="1544" x2="970.10" y2="1547.2" stroke="#000" stroke-width="1.1"/>
<line x1="999.78" y1="1544" x2="999.78" y2="1546.0" stroke="#000" stroke-width="0.8"/>
<line x1="1017.14" y1="1544" x2="1017.14" y2="1546.0" stroke="#000" stroke-width="0.8"/>
<line x1="1029.46" y1="1544" x2="1029.46" y2="1546.0" stroke="#000" stroke-width="0.8"/>
<line x1="1039.02" y1="1544" x2="1039.02" y2="1546.0" stroke="#000" stroke-width="0.8"/>
<line x1="1046.83" y1="1544" x2="1046.83" y2="1546.0" stroke="#000" stroke-width="0.8"/>
<line x1="1053.43" y1="1544" x2="1053.43" y2="1546.0" stroke="#000" stroke-width="0.8"/>
<line x1="1059.14" y1="1544" x2="1059.14" y2="1546.0" stroke="#000" stroke-width="0.8"/>
<line x1="1064.19" y1="1544" x2="1064.19" y2="1546.0" stroke="#000" stroke-width="0.8"/>
<line x1="1068.70" y1="1544" x2="1068.70" y2="1547.2" stroke="#000" stroke-width="1.1"/>
<line x1="1098.38" y1="1544" x2="1098.38" y2="1546.0" stroke="#000" stroke-width="0.8"/>
<line x1="1115.74" y1="1544" x2="1115.74" y2="1546.0" stroke="#000" stroke-width="0.8"/>
<line x1="1128.06" y1="1544" x2="1128.06" y2="1546.0" stroke="#000" stroke-width="0.8"/>
<line x1="1137.62" y1="1544" x2="1137.62" y2="1546.0" stroke="#000" stroke-width="0.8"/>
<line x1="1145.43" y1="1544" x2="1145.43" y2="1546.0" stroke="#000" stroke-width="0.8"/>
<line x1="1152.03" y1="1544" x2="1152.03" y2="1546.0" stroke="#000" stroke-width="0.8"/>
<line x1="1157.74" y1="1544" x2="1157.74" y2="1546.0" stroke="#000" stroke-width="0.8"/>
<line x1="1162.79" y1="1544" x2="1162.79" y2="1546.0" stroke="#000" stroke-width="0.8"/>
<line x1="1167.30" y1="1544" x2="1167.30" y2="1547.2" stroke="#000" stroke-width="1.1"/>
<line x1="895.0999999999999" y1="1386.70" x2="898.3" y2="1386.70" stroke="#000" stroke-width="1.1"/>
<line x1="895.0999999999999" y1="1540.60" x2="898.3" y2="1540.60" stroke="#000" stroke-width="1.1"/>
<line x1="896.3" y1="1494.27" x2="898.3" y2="1494.27" stroke="#000" stroke-width="0.8"/>
<line x1="896.3" y1="1467.17" x2="898.3" y2="1467.17" stroke="#000" stroke-width="0.8"/>
<line x1="896.3" y1="1447.94" x2="898.3" y2="1447.94" stroke="#000" stroke-width="0.8"/>
<line x1="896.3" y1="1433.03" x2="898.3" y2="1433.03" stroke="#000" stroke-width="0.8"/>
<line x1="896.3" y1="1420.84" x2="898.3" y2="1420.84" stroke="#000" stroke-width="0.8"/>
<line x1="896.3" y1="1410.54" x2="898.3" y2="1410.54" stroke="#000" stroke-width="0.8"/>
<line x1="896.3" y1="1401.61" x2="898.3" y2="1401.61" stroke="#000" stroke-width="0.8"/>
<line x1="896.3" y1="1393.74" x2="898.3" y2="1393.74" stroke="#000" stroke-width="0.8"/>
<line x1="896.3" y1="1340.37" x2="898.3" y2="1340.37" stroke="#000" stroke-width="0.8"/>
<line x1="896.3" y1="1313.27" x2="898.3" y2="1313.27" stroke="#000" stroke-width="0.8"/>
<line x1="896.3" y1="1294.04" x2="898.3" y2="1294.04" stroke="#000" stroke-width="0.8"/>
<line x1="896.3" y1="1279.13" x2="898.3" y2="1279.13" stroke="#000" stroke-width="0.8"/>
<line x1="896.3" y1="1266.94" x2="898.3" y2="1266.94" stroke="#000" stroke-width="0.8"/>
<line x1="896.3" y1="1256.64" x2="898.3" y2="1256.64" stroke="#000" stroke-width="0.8"/>
<line x1="896.3" y1="1247.71" x2="898.3" y2="1247.71" stroke="#000" stroke-width="0.8"/>
<line x1="896.3" y1="1239.84" x2="898.3" y2="1239.84" stroke="#000" stroke-width="0.8"/>
<polyline points="911.0,1530.3 930.0,1527.7 949.3,1521.0 968.3,1506.0 987.3,1491.0 1006.7,1488.7 1025.7,1486.0 1044.3,1439.7 1063.3,1444.7 1082.3,1447.0 1101.0,1388.7 1120.0,1293.0 1139.0,1280.3 1157.7,1296.3 1176.7,1246.3" fill="none" stroke="#9bb05e" stroke-width="3.6" stroke-linejoin="round" stroke-linecap="butt"/>
<rect x="898.3" y="1233.3" width="291.5" height="310.70000000000005" fill="none" stroke="#000" stroke-width="1.4"/>
<text x="952.96" y="1563.50" font-size="20.50" fill="#000" textLength="24.88" lengthAdjust="spacingAndGlyphs">10</text>
<text x="978.28" y="1556.20" font-size="14.30" fill="#000" textLength="7.95" lengthAdjust="spacingAndGlyphs">1</text>
<text x="1051.39" y="1563.50" font-size="20.50" fill="#000" textLength="24.88" lengthAdjust="spacingAndGlyphs">10</text>
<text x="1077.07" y="1556.20" font-size="14.30" fill="#000" textLength="7.95" lengthAdjust="spacingAndGlyphs">2</text>
<text x="1149.86" y="1563.50" font-size="20.50" fill="#000" textLength="24.88" lengthAdjust="spacingAndGlyphs">10</text>
<text x="1175.72" y="1556.20" font-size="14.30" fill="#000" textLength="7.95" lengthAdjust="spacingAndGlyphs">3</text>
<text x="858.29" y="1394.20" font-size="20.50" fill="#000" textLength="24.88" lengthAdjust="spacingAndGlyphs">10</text>
<text x="884.37" y="1386.90" font-size="14.30" fill="#000" textLength="7.95" lengthAdjust="spacingAndGlyphs">4</text>
<text x="858.72" y="1548.10" font-size="20.50" fill="#000" textLength="24.88" lengthAdjust="spacingAndGlyphs">10</text>
<text x="884.58" y="1540.80" font-size="14.30" fill="#000" textLength="7.95" lengthAdjust="spacingAndGlyphs">3</text>
<line x1="119.8" y1="882.3" x2="165.3" y2="882.3" stroke="#444" stroke-width="1.9" stroke-dasharray="5.4,2.4"/>
<text x="185.42" y="890.30" font-size="22.00" fill="#000" font-style="italic" textLength="14.50" lengthAdjust="spacingAndGlyphs" stroke="#000" stroke-width="0.55">β</text>
<text x="199.99" y="894.60" font-size="17.50" fill="#000" font-style="italic" textLength="69.28" lengthAdjust="spacingAndGlyphs" stroke="#000" stroke-width="0.55">collector</text>
<text x="277.47" y="890.80" font-size="21.50" fill="#000" textLength="18.27" lengthAdjust="spacingAndGlyphs">=</text>
<text x="304.03" y="890.30" font-size="21.80" fill="#000" textLength="49.47" lengthAdjust="spacingAndGlyphs">3.79</text>
<line x1="579.1" y1="882.75" x2="623.9" y2="882.75" stroke="#444" stroke-width="1.3" stroke-dasharray="4.2,2.2"/>
<text x="644.94" y="890.50" font-size="22.00" fill="#000" font-style="italic" textLength="12.60" lengthAdjust="spacingAndGlyphs">β</text>
<text x="658.40" y="894.10" font-size="16.50" fill="#000" font-style="italic" textLength="31.44" lengthAdjust="spacingAndGlyphs">NFT</text>
<text x="697.95" y="891.20" font-size="21.50" fill="#000" textLength="18.51" lengthAdjust="spacingAndGlyphs">=</text>
<text x="724.82" y="891.00" font-size="21.80" fill="#000" textLength="35.84" lengthAdjust="spacingAndGlyphs">3.4</text>
<line x1="975.25" y1="882.4" x2="1020.4" y2="882.4" stroke="#444" stroke-width="1.3" stroke-dasharray="4.2,2.2"/>
<text x="1040.97" y="890.50" font-size="22.00" fill="#000" font-style="italic" textLength="13.30" lengthAdjust="spacingAndGlyphs">β</text>
<text x="1054.77" y="894.10" font-size="16.50" fill="#000" font-style="italic" textLength="41.96" lengthAdjust="spacingAndGlyphs">artist</text>
<text x="1105.94" y="891.20" font-size="21.50" fill="#000" textLength="17.43" lengthAdjust="spacingAndGlyphs">=</text>
<text x="1131.79" y="891.00" font-size="21.80" fill="#000" textLength="36.87" lengthAdjust="spacingAndGlyphs">3.9</text>
<text x="6.26" y="841.50" font-size="36.16" fill="#000" textLength="23.26" lengthAdjust="spacingAndGlyphs">C</text>
<text x="408.67" y="841.20" font-size="37.06" fill="#000" font-weight="bold" textLength="21.31" lengthAdjust="spacingAndGlyphs">F</text>
<text x="820.84" y="841.00" font-size="36.34" fill="#000" font-weight="bold" textLength="10.22" lengthAdjust="spacingAndGlyphs">I</text>
<text x="5.49" y="1236.00" font-size="37.36" fill="#000" font-weight="bold" textLength="26.02" lengthAdjust="spacingAndGlyphs">D</text>
<text x="404.44" y="1237.00" font-size="35.37" fill="#000" font-weight="bold" textLength="29.62" lengthAdjust="spacingAndGlyphs">G</text>
<text x="816.17" y="1236.30" font-size="36.77" fill="#000" font-weight="bold" textLength="19.53" lengthAdjust="spacingAndGlyphs">J</text>
<text x="188.53" y="1207.70" font-size="19.70" fill="#111" font-style="italic" textLength="15.52" lengthAdjust="spacingAndGlyphs">w</text>
<text x="205.08" y="1215.00" font-size="12.30" fill="#111" font-style="italic" textLength="51.18" lengthAdjust="spacingAndGlyphs">Collector</text>
<text x="619.53" y="1208.00" font-size="19.70" fill="#111" font-style="italic" textLength="14.12" lengthAdjust="spacingAndGlyphs">w</text>
<text x="636.91" y="1215.50" font-size="12.30" fill="#111" font-style="italic" textLength="24.35" lengthAdjust="spacingAndGlyphs">NFT</text>
<text x="1041.70" y="1208.00" font-size="19.70" fill="#111" font-style="italic" textLength="14.52" lengthAdjust="spacingAndGlyphs">w</text>
<text x="1059.80" y="1215.50" font-size="12.30" fill="#111" font-style="italic" textLength="27.78" lengthAdjust="spacingAndGlyphs">Artist</text>
<text x="187.71" y="1594.50" font-size="22.80" fill="#111" font-style="italic" textLength="8.85" lengthAdjust="spacingAndGlyphs">k</text>
<text x="199.69" y="1604.10" font-size="16.80" fill="#111" font-style="italic" textLength="57.92" lengthAdjust="spacingAndGlyphs">Collector</text>
<text x="620.96" y="1594.50" font-size="22.80" fill="#111" font-style="italic" textLength="10.18" lengthAdjust="spacingAndGlyphs">k</text>
<text x="632.86" y="1604.10" font-size="16.80" fill="#111" font-style="italic" textLength="27.60" lengthAdjust="spacingAndGlyphs">NFT</text>
<text x="1042.88" y="1594.50" font-size="22.80" fill="#111" font-style="italic" textLength="9.61" lengthAdjust="spacingAndGlyphs">k</text>
<text x="1055.38" y="1604.10" font-size="16.80" fill="#111" font-style="italic" textLength="31.63" lengthAdjust="spacingAndGlyphs">Artist</text>
<g transform="translate(17.90,1060.90) rotate(-90)"><text x="-1.53" y="0.00" font-size="21.50" fill="#111" textLength="18.64" lengthAdjust="spacingAndGlyphs">P(</text><text x="16.84" y="0.00" font-size="20.00" fill="#111" font-style="italic" textLength="15.32" lengthAdjust="spacingAndGlyphs">w</text><text x="32.81" y="7.00" font-size="12.00" fill="#111" font-style="italic" textLength="38.39" lengthAdjust="spacingAndGlyphs">ollector</text><text x="73.81" y="0.00" font-size="21.50" fill="#111" textLength="5.28" lengthAdjust="spacingAndGlyphs">)</text></g>
<g transform="translate(418.90,1050.60) rotate(-90)"><text x="-1.49" y="0.00" font-size="21.40" fill="#111" textLength="18.20" lengthAdjust="spacingAndGlyphs">P(</text><text x="17.09" y="0.00" font-size="19.30" fill="#111" font-style="italic" textLength="14.62" lengthAdjust="spacingAndGlyphs">w</text><text x="32.44" y="7.00" font-size="12.60" fill="#111" font-style="italic" textLength="22.57" lengthAdjust="spacingAndGlyphs">NFT</text><text x="59.13" y="0.00" font-size="21.40" fill="#111" textLength="4.02" lengthAdjust="spacingAndGlyphs">)</text></g>
<g transform="translate(831.80,1057.90) rotate(-90)"><text x="-1.54" y="0.00" font-size="21.40" fill="#111" textLength="18.75" lengthAdjust="spacingAndGlyphs">P(</text><text x="16.36" y="0.00" font-size="19.50" fill="#111" font-style="italic" textLength="15.02" lengthAdjust="spacingAndGlyphs">w</text><text x="31.70" y="7.30" font-size="12.80" fill="#111" font-style="italic" textLength="33.55" lengthAdjust="spacingAndGlyphs">Artists</text><text x="69.43" y="0.00" font-size="21.40" fill="#111" textLength="4.14" lengthAdjust="spacingAndGlyphs">)</text></g>
<g transform="translate(21.00,1503.70) rotate(-90)"><text x="-0.04" y="0.00" font-size="21.00" fill="#111" textLength="229.29" lengthAdjust="spacingAndGlyphs">Average max biddings ($)</text></g>
<g transform="translate(423.00,1483.70) rotate(-90)"><text x="-0.04" y="0.00" font-size="21.00" fill="#111" textLength="195.27" lengthAdjust="spacingAndGlyphs">Average max price ($)</text></g>
<g transform="translate(835.30,1503.70) rotate(-90)"><text x="-0.04" y="0.00" font-size="21.00" fill="#111" textLength="229.68" lengthAdjust="spacingAndGlyphs">Average max earnings ($)</text></g>
</svg>
</body></html>
